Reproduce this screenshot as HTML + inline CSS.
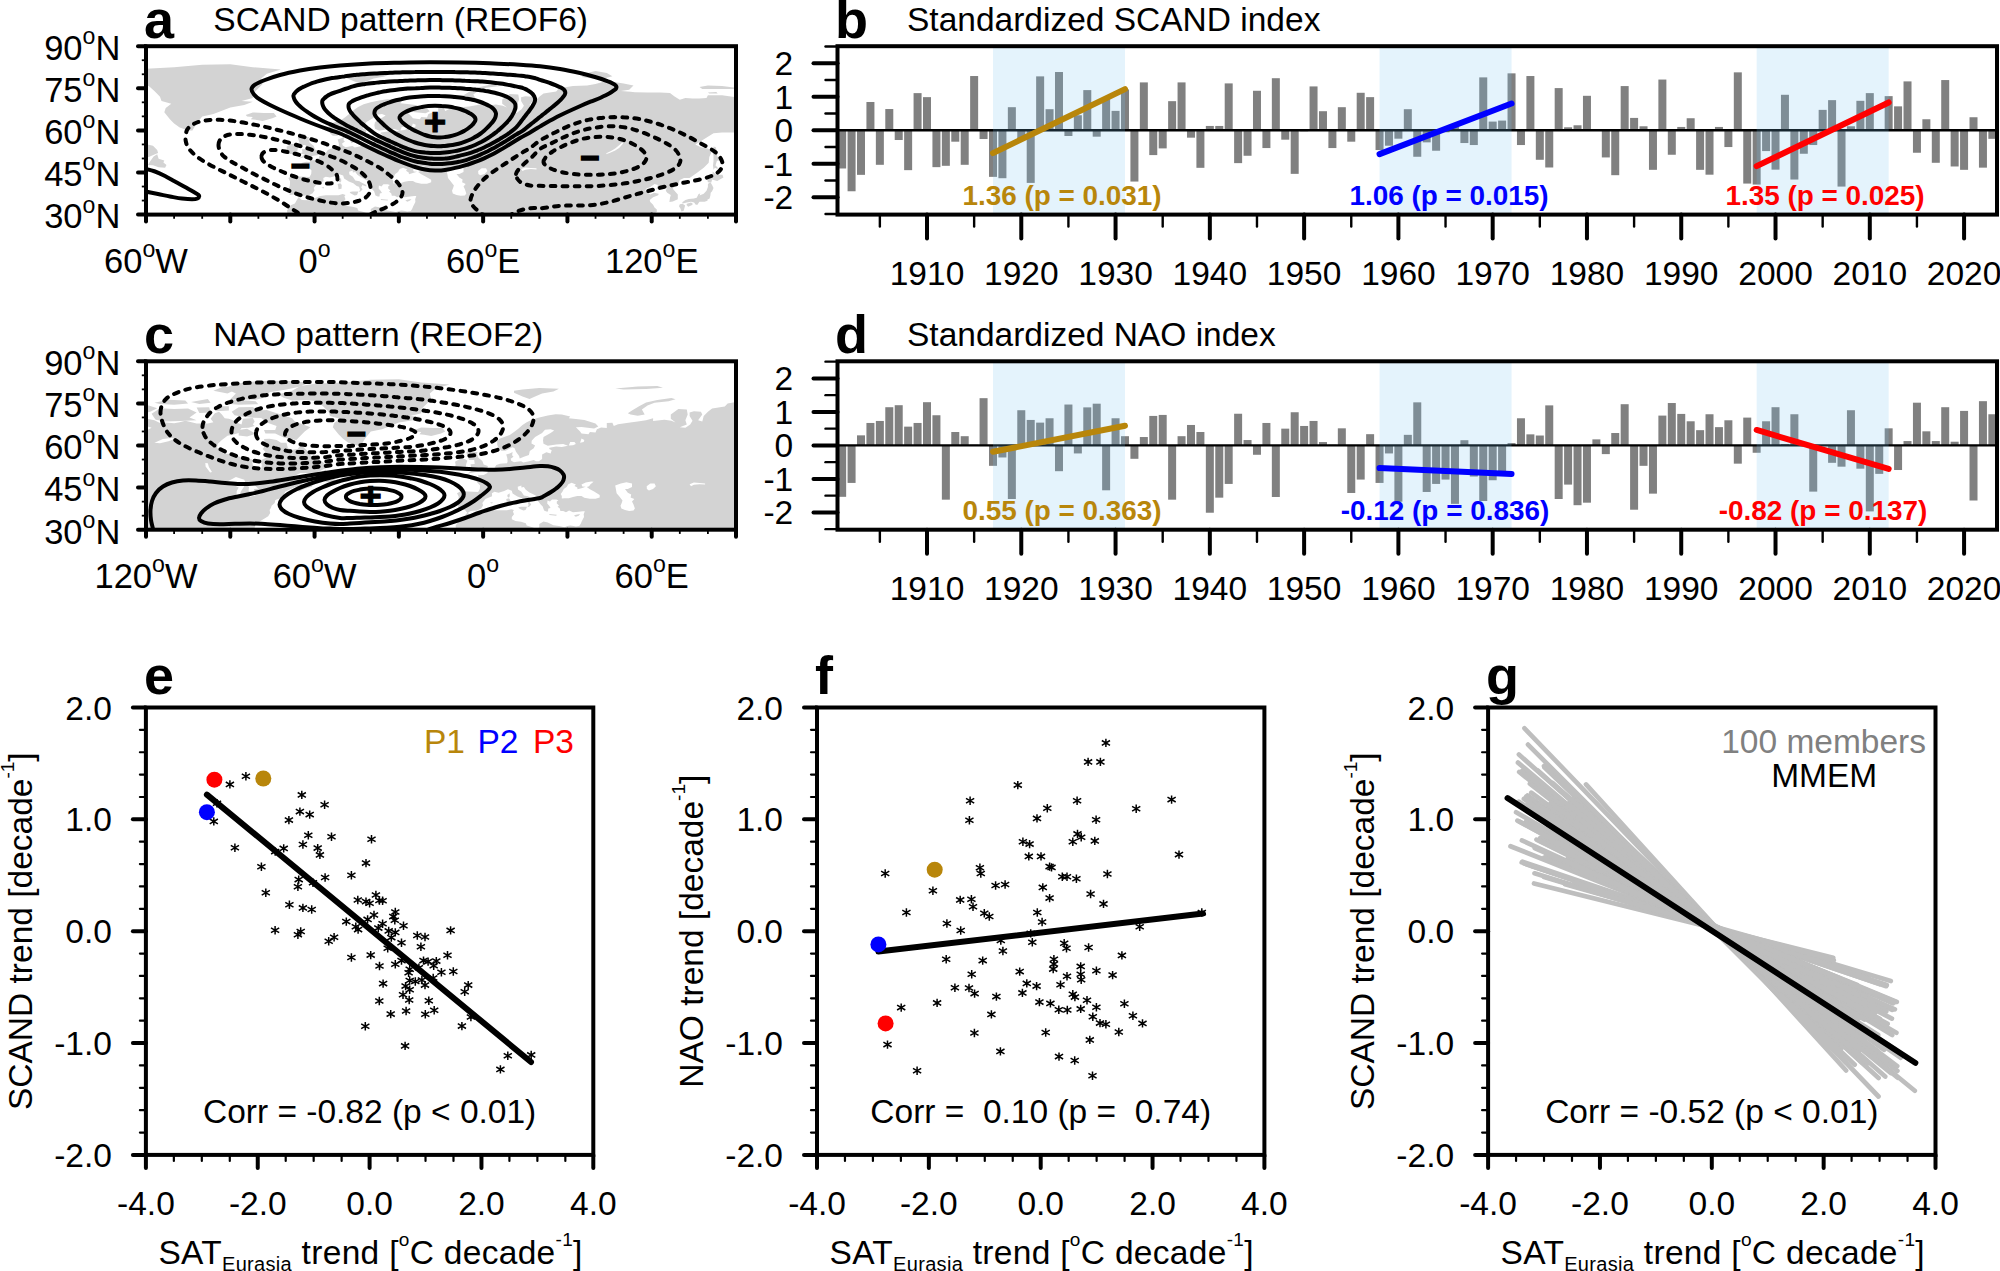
<!DOCTYPE html>
<html><head><meta charset="utf-8"><title>Figure</title><style>html,body{margin:0;padding:0;background:#fff;overflow:hidden}svg{display:block}</style></head><body>
<svg width="2000" height="1271" viewBox="0 0 2000 1271" font-family="'Liberation Sans',sans-serif">
<rect width="2000" height="1271" fill="#fff"/>
<defs><clipPath id="clip_a"><rect x="146" y="46.2" width="590" height="168.4"/></clipPath><clipPath id="clip_c"><rect x="146" y="361.3" width="590" height="168.4"/></clipPath></defs>
<g clip-path="url(#clip_a)">
<g fill="#d3d3d3"><polygon points="109.5,79.3 123.5,75.7 132.0,70.9 146.0,68.7 174.1,67.2 202.2,64.7 230.3,64.2 252.8,67.2 280.9,69.5 266.8,73.7 261.2,78.5 262.6,84.1 258.4,88.3 252.8,93.9 252.8,98.1 241.5,100.9 252.8,101.8 244.3,105.1 230.3,107.4 221.9,110.8 213.4,114.1 202.2,116.4 196.6,123.4 192.4,130.4 188.1,130.4 179.7,127.6 174.1,123.4 169.9,119.2 164.3,112.2 165.7,107.9 171.3,103.7 161.5,100.9 160.0,96.7 154.4,91.1 148.8,86.1 137.6,84.9 123.5,85.5 115.1,82.7"/><polygon points="245.7,115.0 252.8,112.4 264.0,113.0 273.8,113.0 276.6,116.4 272.4,118.3 262.6,120.9 255.6,119.7 250.8,119.2 252.8,116.9 247.1,116.4"/><polygon points="345.5,75.7 353.9,74.3 370.8,72.9 390.4,73.7 384.8,76.5 373.6,78.5 366.5,81.3 360.9,83.8 353.9,81.3 345.5,77.6"/><polygon points="446.6,73.4 469.1,71.5 488.8,70.9 494.4,72.6 477.5,74.0 455.0,74.5"/><polygon points="459.3,98.1 463.5,95.3 470.5,91.1 477.5,87.5 488.8,84.9 502.8,83.0 507.0,84.1 500.0,86.1 486.0,87.7 478.9,90.5 473.3,94.5 476.1,99.5 469.1,100.6 462.1,99.5"/><polygon points="581.5,77.1 587.1,72.9 595.5,70.9 606.8,72.9 612.4,76.2 601.1,79.3 592.7,78.5"/><polygon points="699.5,86.9 707.9,85.5 722.0,86.1 736.0,87.7 733.2,89.1 716.3,88.9 702.3,89.1"/><polygon points="707.9,92.5 716.3,91.9 717.7,93.4 709.3,93.4"/><polygon points="299.1,158.5 306.1,157.1 318.2,155.1 319.3,150.9 315.1,149.5 313.7,145.8 309.8,142.7 308.4,138.8 309.0,136.9 303.3,136.9 305.6,134.3 300.5,134.3 297.7,137.4 299.1,141.6 300.5,145.0 305.6,145.0 306.1,148.9 301.9,149.2 302.5,152.3 300.0,153.4 304.7,154.5"/><polygon points="286.5,154.0 292.1,154.0 297.2,152.3 297.7,148.6 298.8,145.6 296.3,143.9 291.3,143.9 286.5,146.7 287.0,149.5 286.5,152.3"/><polygon points="272.4,242.7 266.8,239.9 269.6,231.4 273.8,225.8 278.0,221.1 282.3,218.8 286.5,216.0 287.3,213.2 287.0,210.4 290.7,205.3 294.9,203.4 297.7,198.6 298.8,197.8 296.6,195.2 293.8,194.4 289.6,195.0 289.8,190.7 287.9,189.9 289.8,186.0 290.1,181.5 288.4,178.1 292.1,176.1 299.1,176.4 304.7,176.7 309.5,177.0 311.2,173.9 311.5,170.5 309.0,167.7 307.5,166.0 301.9,164.4 301.4,163.0 306.1,161.8 310.1,162.1 309.5,159.6 311.2,160.2 315.1,159.9 318.8,157.9 319.3,155.9 323.0,154.8 325.8,152.9 327.8,150.0 331.4,148.6 334.2,148.4 338.5,148.1 339.0,146.4 338.7,143.0 337.6,139.4 341.3,138.3 344.1,136.9 343.5,140.2 344.9,141.6 342.1,143.6 342.7,145.6 345.5,147.2 348.3,146.7 352.5,146.1 354.7,147.5 359.5,146.4 365.1,145.0 367.4,146.1 370.2,146.1 373.6,143.9 373.6,139.4 377.8,137.1 382.0,138.3 383.1,135.2 380.6,133.8 380.9,132.6 387.6,131.5 393.2,131.8 399.4,130.7 394.6,129.0 387.6,129.3 379.2,130.7 375.0,128.7 374.4,125.3 375.0,122.0 382.0,117.8 385.7,115.5 382.0,114.1 376.4,114.7 373.6,117.8 366.5,122.0 363.2,125.6 362.9,128.4 366.5,130.4 365.1,133.2 361.2,136.0 360.4,139.9 355.3,141.6 351.1,143.3 350.5,140.8 347.4,136.6 346.0,133.2 344.1,132.1 341.3,133.5 337.0,135.7 332.8,135.7 330.0,133.2 328.6,129.6 328.6,125.9 330.9,123.7 335.6,122.0 341.3,120.0 345.5,116.9 349.7,113.6 353.9,109.9 358.1,107.1 363.7,104.3 370.8,102.3 379.2,100.4 387.1,99.2 393.2,99.5 401.7,101.5 400.3,103.2 407.3,104.0 415.7,104.9 427.0,108.5 429.8,111.3 425.5,113.3 412.9,111.9 407.3,112.2 411.5,116.4 412.9,118.3 419.9,119.2 421.3,116.9 427.0,117.5 428.4,114.1 432.6,112.4 438.2,113.0 438.2,107.9 443.8,107.7 445.2,111.0 449.4,109.1 463.5,107.1 469.1,106.5 477.5,105.1 484.5,103.2 484.5,106.0 495.8,104.6 502.8,105.7 507.0,107.4 502.2,103.7 502.2,99.5 507.0,95.9 509.8,93.9 518.3,94.5 519.1,99.5 516.9,105.1 518.3,109.3 511.2,112.2 516.9,112.7 521.6,109.3 523.9,105.7 521.1,100.9 521.1,97.3 525.3,96.2 532.3,96.7 533.7,99.5 529.5,105.1 533.7,106.5 535.1,100.9 539.3,96.7 543.5,93.4 556.2,91.4 559.0,88.3 573.0,86.1 587.1,85.5 595.5,84.1 606.8,80.7 612.4,81.8 623.6,83.5 633.5,85.5 629.2,89.7 620.8,91.1 630.6,91.7 634.9,92.2 647.5,92.5 660.1,92.5 670.0,93.1 674.2,96.2 679.8,99.8 685.4,98.1 692.5,98.4 699.5,98.4 706.5,98.1 707.9,95.3 722.0,95.3 736.0,97.3 750.0,99.5 764.1,103.2 778.1,103.7 792.2,102.9 806.2,102.9 820.3,105.1 820.3,116.4 811.9,123.4 797.8,127.6 786.6,129.8 772.5,133.2 773.9,138.8 769.7,144.4 764.1,150.0 755.7,155.7 752.9,151.4 751.5,144.4 752.9,138.8 761.3,133.2 769.7,127.6 764.1,126.2 754.3,127.6 747.2,131.8 736.0,132.4 722.0,132.4 713.5,133.2 702.3,140.2 695.3,144.4 700.9,147.2 707.9,148.6 711.6,152.0 709.3,157.1 708.7,162.7 703.7,167.7 696.7,173.1 689.6,178.1 684.0,178.1 679.8,180.1 678.4,183.7 674.2,186.5 672.8,188.8 677.8,194.4 677.8,199.2 672.8,201.4 669.4,202.0 670.0,197.8 670.8,195.0 667.2,192.7 665.8,190.7 666.6,187.9 663.8,186.8 660.1,187.7 655.9,189.6 656.8,187.9 657.9,185.1 654.5,184.0 650.3,187.1 646.1,188.8 645.3,190.7 648.3,192.7 650.3,194.4 654.0,192.7 658.7,193.8 658.2,195.2 653.1,197.2 649.7,200.0 650.3,202.0 653.1,204.8 654.5,207.6 656.8,209.5 656.8,212.1 654.5,213.2 657.3,214.6 655.9,217.4 655.9,242.7"/><polygon points="713.5,146.4 715.8,147.2 716.9,151.4 717.2,155.7 719.1,160.4 716.9,160.7 715.5,165.5 717.7,167.4 717.5,169.1 714.9,167.7 713.5,169.7 713.0,165.5 713.5,161.3 713.5,155.7 712.7,151.4 713.5,148.6"/><polygon points="707.9,182.3 711.3,182.6 712.1,179.5 717.2,180.9 723.4,177.6 722.5,174.7 716.3,174.7 712.7,171.4 712.4,175.3 711.6,177.6 708.7,177.6 707.3,179.5"/><polygon points="710.4,182.3 712.1,185.1 713.5,187.9 712.1,191.3 710.7,192.7 710.4,195.5 709.6,198.6 707.3,199.7 707.6,200.8 704.5,201.7 702.8,201.7 699.5,201.7 698.9,202.5 697.5,204.8 695.8,204.8 694.1,202.5 691.0,201.7 686.8,202.5 682.6,203.4 682.3,202.3 685.4,200.0 688.8,198.9 693.9,198.6 696.7,197.8 698.6,194.1 700.3,193.6 699.5,195.5 703.7,193.8 706.5,190.7 707.9,187.1 707.9,184.3 708.7,183.2"/><polygon points="686.8,203.7 691.0,202.5 693.0,203.9 691.6,205.3 688.2,206.7 686.6,205.1"/><polygon points="679.8,204.2 682.6,203.7 685.1,205.6 683.7,210.7 681.5,211.5 680.4,208.4 679.0,206.2"/><polygon points="-50.7,242.7 -50.7,102.3 -45.0,101.5 -36.6,102.3 -25.4,102.9 -14.1,105.1 -8.5,107.9 -5.7,107.1 5.5,108.2 11.1,107.1 16.8,105.7 28.0,108.5 39.2,108.5 44.9,107.1 42.0,103.7 46.3,98.1 50.5,96.7 53.3,99.5 56.1,103.2 60.3,103.7 64.5,105.1 67.3,107.1 73.0,109.3 74.4,103.7 84.2,102.9 86.2,106.5 84.2,109.3 86.2,110.8 80.0,112.7 73.0,113.0 71.5,115.0 70.1,117.8 65.9,119.2 58.9,120.6 53.3,124.8 49.1,129.0 48.5,133.2 53.3,134.0 54.7,138.3 61.7,138.8 67.3,140.2 75.8,143.6 83.3,144.2 84.2,150.0 87.0,152.9 89.8,154.8 92.6,154.3 93.2,150.0 91.8,145.3 96.8,143.0 99.1,138.8 94.0,133.8 96.8,130.4 95.4,123.9 101.0,123.7 108.1,124.8 112.3,127.6 117.9,127.6 119.3,133.2 123.5,134.6 129.1,133.8 132.0,129.6 134.8,131.8 139.0,136.0 141.8,140.2 147.4,144.4 153.0,145.8 157.2,150.0 158.1,152.9 154.4,154.5 148.8,157.1 140.4,157.9 132.0,157.9 126.3,160.4 119.3,164.6 115.1,167.4 120.7,163.5 127.7,161.0 133.4,161.3 133.4,163.2 130.5,165.2 132.5,166.9 133.4,169.1 137.6,170.3 141.8,170.5 146.0,169.7 146.0,166.9 143.2,171.7 136.2,173.6 130.5,176.4 128.6,174.7 132.0,171.9 126.3,172.2 120.7,174.7 116.5,176.7 115.7,179.5 117.9,181.5 113.7,182.6 108.1,184.3 106.7,185.1 106.1,187.9 103.0,190.7 102.5,192.7 101.0,195.0 101.6,197.8 99.6,201.1 96.0,203.4 92.6,205.3 88.4,208.4 86.2,211.8 86.2,214.6 87.0,217.4 87.0,242.7"/><polygon points="148.0,164.9 153.0,165.2 158.6,167.2 165.1,167.7 166.5,164.9 163.4,162.4 164.3,160.4 158.6,158.7 157.2,154.3 153.6,156.5 150.2,161.3"/><polygon points="141.8,112.2 136.2,116.4 132.0,120.6 127.7,124.8 122.1,123.9 115.1,122.5 106.7,118.3 96.8,118.3 95.4,115.0 106.7,115.0 108.1,110.8 98.2,107.4 92.6,102.9 84.2,102.6 75.8,101.8 65.9,100.1 63.1,96.7 70.1,92.2 84.2,91.9 89.8,95.3 98.2,94.8 106.7,97.6 115.1,100.1 123.5,103.2 126.3,106.5 134.8,109.3"/><polygon points="61.7,84.1 67.3,78.5 56.1,72.9 67.3,68.7 89.8,65.8 117.9,65.6 140.4,67.2 132.0,71.5 117.9,74.3 101.0,77.1 95.4,82.7 87.0,84.7"/></g><g fill="#fff"><polygon points="299.1,197.8 301.9,195.8 308.4,195.5 312.6,193.3 314.6,190.2 313.7,187.9 316.8,184.0 323.6,181.2 323.3,178.1 325.8,176.7 330.0,177.6 335.6,175.9 339.3,174.2 343.2,175.6 344.1,178.4 348.8,181.5 353.3,183.2 356.7,186.0 359.0,186.8 360.1,189.9 358.7,192.1 360.9,191.3 362.6,189.3 361.2,187.4 362.3,185.1 366.3,186.5 366.3,185.1 360.9,182.3 359.5,181.2 355.3,180.4 352.8,176.7 349.4,174.5 349.1,171.7 352.8,170.5 352.8,172.5 355.3,171.9 357.3,174.7 360.9,177.3 365.1,179.5 369.1,181.5 369.1,185.4 372.2,189.3 374.1,191.3 375.5,195.5 377.8,196.4 379.5,196.4 379.8,193.6 382.0,193.0 380.6,190.7 378.6,188.5 378.9,185.4 381.4,186.5 383.4,184.3 387.6,184.3 389.9,185.1 388.2,186.5 388.2,188.5 390.4,190.5 389.0,191.6 391.3,193.6 391.8,195.8 394.6,195.8 397.5,197.2 400.5,195.5 404.5,197.2 410.1,196.6 414.3,196.1 416.3,196.1 415.2,199.2 415.4,202.0 413.2,206.2 412.1,209.0 410.7,211.0 407.3,211.5 405.0,211.0 401.7,210.4 398.9,211.0 396.0,212.1 390.4,211.0 384.8,210.1 379.2,207.3 375.0,206.5 370.8,209.0 370.8,212.4 368.0,213.8 363.7,212.1 358.1,210.4 357.3,208.1 352.5,206.7 346.9,205.9 343.2,204.2 343.2,202.0 345.5,199.2 344.4,196.4 345.5,195.0 342.7,194.1 338.5,195.2 332.8,195.2 325.8,195.2 320.2,196.1 314.6,198.3 309.0,200.3 301.9,200.0 299.7,198.3"/><polygon points="393.2,183.4 393.2,180.9 392.1,179.0 393.8,176.7 395.2,173.9 398.0,171.9 399.7,169.1 403.1,167.7 407.3,169.4 405.9,170.8 408.7,172.5 409.0,174.2 412.9,173.1 417.1,171.7 413.7,171.4 412.9,169.4 417.1,167.4 422.7,166.3 425.0,166.6 421.9,169.1 420.5,171.1 418.2,171.9 421.3,174.2 425.5,176.4 431.2,179.8 431.2,182.3 427.0,183.7 421.3,183.7 415.7,182.6 412.9,180.9 408.7,180.9 404.5,181.8 400.3,183.2 396.0,183.2"/><polygon points="446.6,170.5 452.2,168.3 457.9,167.2 463.5,168.3 463.5,171.9 459.3,173.9 456.5,173.9 459.3,177.6 462.6,179.5 462.1,182.3 465.7,184.0 463.5,186.5 464.9,189.3 466.3,193.6 464.9,195.5 460.7,195.8 456.5,195.0 452.8,193.6 452.0,190.7 453.1,187.9 453.9,185.4 450.8,181.5 448.0,178.1 447.5,174.7"/><polygon points="478.1,171.1 481.7,168.3 486.0,168.3 487.4,171.1 484.5,173.9 480.3,175.3 478.4,173.9"/><polygon points="605.9,154.3 609.6,153.1 615.2,150.6 619.4,147.8 623.1,143.6 622.2,142.5 619.4,145.0 615.2,148.4 611.0,150.9 606.8,152.9"/><polygon points="400.3,130.4 401.7,127.0 405.9,126.8 407.3,129.0 404.5,130.1"/><polygon points="411.5,127.6 412.9,123.4 415.7,124.8 415.2,127.0"/><polygon points="521.1,169.1 525.3,167.4 530.9,168.0 536.5,168.3 536.5,169.4 530.9,169.1 525.3,169.7 522.5,171.1"/></g><g fill="#d3d3d3"><polygon points="349.7,192.1 352.5,191.6 358.4,191.6 357.0,195.0 354.7,195.5 350.5,193.3"/><polygon points="337.6,184.0 340.4,183.2 341.8,185.1 341.5,188.8 338.5,189.3 338.2,186.5"/><polygon points="338.7,179.8 341.0,178.1 341.3,180.9 340.4,182.6 339.0,181.8"/><polygon points="380.9,198.9 388.2,199.7 387.6,200.6 380.9,200.0"/><polygon points="405.3,200.6 407.3,199.7 411.5,198.9 410.1,200.6 407.3,201.7"/><polygon points="321.3,187.7 324.1,186.8 323.6,188.5"/></g>
<g fill="none" stroke="#000" stroke-width="4" stroke-linejoin="round"><path d="M143.0,168.3C145.0,168.8 151.3,170.2 155.0,171.5C158.7,172.8 161.7,174.3 165.0,176.0C168.3,177.7 171.7,179.7 175.0,181.5C178.3,183.3 182.0,185.3 185.0,187.0C188.0,188.7 190.8,190.2 193.0,191.5C195.2,192.8 197.0,193.7 198.0,194.5C199.0,195.3 199.3,195.5 199.2,196.2C199.1,196.9 198.7,198.0 197.5,198.5C196.3,199.0 194.6,199.2 192.0,199.2C189.4,199.2 185.7,198.9 182.0,198.5C178.3,198.1 174.0,197.2 170.0,196.5C166.0,195.8 162.5,194.9 158.0,194.0C153.5,193.1 145.5,191.5 143.0,191.0"/><path d="M251.5,89.0C251.7,87.4 252.8,86.2 255.0,84.7C257.2,83.2 260.8,81.6 265.0,80.0C269.2,78.3 274.2,76.6 280.0,75.0C285.8,73.4 293.3,71.8 300.0,70.5C306.7,69.2 313.3,68.3 320.0,67.5C326.7,66.7 331.7,66.2 340.0,65.5C348.3,64.8 360.0,64.0 370.0,63.5C380.0,63.0 390.0,62.9 400.0,62.7C410.0,62.5 420.0,62.3 430.0,62.3C440.0,62.3 450.0,62.4 460.0,62.5C470.0,62.6 480.0,62.8 490.0,63.2C500.0,63.6 511.7,64.3 520.0,64.8C528.3,65.3 533.3,65.6 540.0,66.3C546.7,67.0 553.3,67.9 560.0,69.0C566.7,70.1 574.2,71.7 580.0,73.0C585.8,74.3 590.3,75.6 595.0,77.0C599.7,78.3 604.9,80.1 608.0,81.3C611.1,82.4 612.5,83.3 613.8,84.0C615.1,84.7 615.3,85.0 615.8,85.6C616.2,86.1 616.5,86.6 616.5,87.1C616.5,87.6 616.3,88.1 616.0,88.6C615.7,89.0 615.8,89.0 614.6,89.8C613.5,90.6 611.4,92.3 609.1,93.6C606.8,94.9 603.7,96.3 600.6,97.7C597.5,99.1 593.9,100.3 590.5,101.7C587.1,103.1 583.8,104.5 580.4,106.0C577.0,107.5 573.8,109.0 570.4,110.5C567.0,112.0 563.7,113.6 560.3,115.3C556.9,117.0 553.6,118.8 550.2,120.6C546.8,122.4 543.5,124.4 540.1,126.4C536.8,128.4 533.5,130.5 530.1,132.4C526.8,134.3 523.6,135.8 520.0,138.0C516.4,140.2 511.5,143.3 508.2,145.3C504.9,147.3 502.8,148.6 500.1,150.1C497.4,151.6 494.8,153.1 492.1,154.5C489.4,155.9 486.8,157.1 484.1,158.3C481.4,159.5 478.7,160.7 476.0,161.7C473.3,162.7 470.7,163.6 468.0,164.5C465.3,165.4 463.8,166.0 460.0,166.9C456.2,167.8 449.2,169.4 445.0,170.0C440.8,170.6 438.3,170.6 435.0,170.5C431.7,170.4 428.3,170.1 425.0,169.5C421.7,168.9 419.2,168.3 415.0,167.0C410.8,165.7 405.0,163.5 400.0,161.5C395.0,159.5 390.0,157.2 385.0,155.0C380.0,152.8 375.0,150.4 370.0,148.0C365.0,145.6 360.0,142.9 355.0,140.5C350.0,138.1 344.2,135.2 340.0,133.5C335.8,131.8 334.2,131.5 330.0,130.0C325.8,128.5 320.0,126.4 315.0,124.5C310.0,122.6 305.0,120.6 300.0,118.5C295.0,116.4 290.0,114.2 285.0,112.0C280.0,109.8 274.2,107.1 270.0,105.0C265.8,102.9 262.7,101.2 260.0,99.5C257.3,97.8 255.4,96.2 254.0,94.5C252.6,92.8 251.3,90.6 251.5,89.0Z"/><path d="M293.5,96.5C293.4,95.8 293.4,95.4 293.6,94.9C293.7,94.4 294.1,94.1 294.5,93.5C294.9,93.0 295.4,92.3 296.1,91.6C296.9,90.8 297.7,90.1 299.0,89.3C300.3,88.5 302.0,87.5 303.8,86.7C305.7,85.8 308.2,84.7 310.0,84.0C311.8,83.3 313.1,82.9 314.7,82.4C316.3,81.8 318.1,81.3 319.9,80.8C321.6,80.3 323.3,79.9 325.0,79.5C326.7,79.1 328.2,78.8 329.8,78.5C331.4,78.2 332.9,78.0 334.6,77.8C336.3,77.5 338.4,77.2 340.0,77.0C341.6,76.8 342.9,76.6 344.4,76.4C345.9,76.1 347.4,75.9 349.1,75.7C350.7,75.5 352.4,75.3 354.2,75.1C356.0,74.9 358.3,74.7 360.0,74.5C361.7,74.3 362.9,74.3 364.4,74.2C366.0,74.1 367.6,73.9 369.3,73.8C370.9,73.7 372.6,73.6 374.4,73.5C376.1,73.4 377.9,73.4 379.6,73.3C381.4,73.2 383.2,73.1 384.9,73.0C386.6,72.9 388.3,72.9 390.0,72.8C391.7,72.7 393.3,72.7 395.0,72.6C396.7,72.5 398.3,72.5 400.0,72.4C401.7,72.4 403.3,72.3 405.0,72.3C406.7,72.2 408.3,72.2 410.0,72.2C411.7,72.1 413.3,72.1 415.0,72.1C416.7,72.0 418.3,72.0 420.0,72.0C421.7,72.0 423.3,72.0 425.0,71.9C426.7,71.9 428.3,71.9 430.0,71.9C431.7,71.9 433.3,71.9 435.0,71.9C436.7,71.9 438.3,71.9 440.0,71.9C441.7,71.9 443.3,71.9 445.0,71.9C446.7,72.0 448.3,72.0 450.0,72.0C451.7,72.0 453.3,72.0 455.0,72.1C456.7,72.1 458.3,72.1 460.0,72.2C461.7,72.2 463.3,72.2 465.0,72.3C466.7,72.3 468.3,72.4 470.0,72.4C471.7,72.5 473.3,72.5 475.0,72.6C476.7,72.7 478.3,72.7 480.0,72.8C481.7,72.9 483.4,73.0 485.1,73.1C486.8,73.2 488.6,73.3 490.4,73.4C492.1,73.5 493.9,73.6 495.6,73.7C497.4,73.8 499.1,74.0 500.7,74.1C502.4,74.2 504.0,74.3 505.6,74.4C507.1,74.6 508.3,74.7 510.0,74.8C511.7,74.9 514.1,75.1 515.9,75.3C517.8,75.5 519.6,75.7 521.2,75.8C522.9,76.0 524.5,76.2 525.9,76.4C527.4,76.6 528.4,76.7 530.0,77.0C531.6,77.3 534.0,77.9 535.6,78.3C537.3,78.8 538.4,79.3 540.0,79.8C541.6,80.3 543.3,80.8 545.0,81.3C546.7,81.8 548.3,82.4 550.0,83.0C551.7,83.6 553.7,84.4 555.4,85.1C557.0,85.8 558.8,86.6 560.0,87.2C561.2,87.7 561.9,88.1 562.5,88.5C563.2,88.9 563.6,89.3 564.0,89.7C564.4,90.2 564.8,90.7 565.0,91.2C565.2,91.7 565.3,92.2 565.3,92.8C565.3,93.3 565.2,93.8 564.9,94.3C564.7,94.9 564.3,95.5 563.8,96.2C563.3,96.9 562.6,97.7 561.9,98.5C561.1,99.4 560.2,100.3 559.3,101.2C558.4,102.1 557.3,103.0 556.2,103.9C555.1,104.8 553.9,105.7 552.7,106.7C551.5,107.7 550.3,108.7 549.0,109.7C547.8,110.7 546.5,111.8 545.2,112.8C543.9,113.8 542.7,114.8 541.4,115.8C540.1,116.8 538.9,117.8 537.6,118.8C536.3,119.8 535.1,120.8 533.9,121.8C532.6,122.8 531.4,123.8 530.1,124.8C528.8,125.8 527.5,126.9 526.2,128.0C525.0,129.0 523.7,130.1 522.5,130.9C521.3,131.7 520.3,132.2 519.2,132.8C518.1,133.5 517.2,134.0 515.9,134.7C514.7,135.5 513.3,136.3 511.9,137.2C510.6,138.1 509.1,139.0 507.7,139.9C506.4,140.7 505.1,141.5 503.8,142.3C502.4,143.1 501.1,143.9 499.8,144.6C498.5,145.4 497.0,146.2 495.7,147.0C494.4,147.7 493.1,148.4 491.8,149.1C490.5,149.8 489.2,150.5 487.8,151.2C486.5,151.8 485.2,152.4 483.9,153.0C482.5,153.6 481.2,154.3 479.9,154.8C478.5,155.4 477.2,156.0 475.9,156.5C474.5,157.0 473.2,157.5 471.9,158.0C470.6,158.5 469.3,158.9 468.0,159.4C466.7,159.8 465.5,160.2 464.1,160.6C462.8,161.0 461.5,161.3 460.0,161.6C458.5,161.9 456.8,162.3 455.1,162.5C453.5,162.8 451.7,163.1 450.0,163.3C448.3,163.5 446.7,163.7 445.0,163.8C443.3,163.9 441.6,164.0 440.0,164.0C438.4,164.0 437.0,164.1 435.3,164.1C433.6,164.0 431.7,163.9 430.0,163.7C428.3,163.5 427.0,163.3 425.4,163.1C423.7,162.9 421.9,162.6 420.2,162.3C418.5,162.0 416.7,161.6 415.0,161.2C413.3,160.8 411.7,160.3 410.0,159.8C408.3,159.3 406.7,158.8 405.0,158.2C403.4,157.6 401.7,156.9 400.1,156.3C398.5,155.6 396.8,154.9 395.2,154.2C393.5,153.5 392.0,152.8 390.3,152.1C388.7,151.3 387.0,150.6 385.4,149.8C383.7,149.0 382.0,148.2 380.3,147.5C378.7,146.7 377.1,146.0 375.4,145.2C373.8,144.4 372.1,143.6 370.4,142.7C368.7,141.9 367.0,141.0 365.3,140.2C363.7,139.4 362.1,138.6 360.5,137.8C358.8,136.9 357.1,136.1 355.4,135.3C353.7,134.4 352.0,133.6 350.3,132.8C348.6,132.0 346.9,131.2 345.2,130.4C343.5,129.7 341.8,129.0 340.1,128.3C338.3,127.6 336.6,127.0 334.9,126.3C333.2,125.6 331.5,124.9 329.9,124.2C328.2,123.5 326.9,122.9 325.0,122.0C323.1,121.1 320.4,119.7 318.2,118.5C316.0,117.4 313.9,116.2 312.0,115.0C310.1,113.8 308.2,112.6 306.6,111.4C304.9,110.3 303.3,109.1 302.0,108.0C300.7,106.9 299.5,105.9 298.5,104.9C297.5,103.9 296.7,103.0 296.0,102.0C295.3,101.0 294.7,100.0 294.3,99.1C293.9,98.1 293.6,97.2 293.5,96.5Z"/><path d="M322.2,102.0C322.2,101.2 322.3,100.8 322.6,100.2C322.9,99.6 323.4,99.2 324.0,98.6C324.6,98.0 325.5,97.2 326.5,96.5C327.5,95.8 328.6,95.0 330.0,94.4C331.4,93.7 333.1,93.1 334.8,92.5C336.4,91.9 338.3,91.4 340.0,90.8C341.7,90.2 343.3,89.6 345.0,89.0C346.7,88.4 348.4,87.8 350.0,87.3C351.6,86.8 352.7,86.4 354.4,86.0C356.0,85.6 358.4,85.1 360.0,84.8C361.6,84.5 362.6,84.4 364.1,84.2C365.5,83.9 367.1,83.7 368.8,83.5C370.4,83.3 372.2,83.1 374.1,82.9C375.9,82.7 378.3,82.5 380.0,82.3C381.7,82.1 382.9,82.1 384.5,82.0C386.1,81.8 387.7,81.7 389.4,81.6C391.1,81.5 392.9,81.4 394.7,81.3C396.4,81.2 398.3,81.1 400.0,81.0C401.7,81.0 403.5,80.9 405.2,80.8C406.8,80.7 408.3,80.7 410.0,80.6C411.7,80.5 413.6,80.5 415.3,80.4C417.0,80.4 418.7,80.3 420.4,80.3C422.0,80.2 423.6,80.2 425.2,80.2C426.9,80.1 428.5,80.1 430.1,80.1C431.7,80.1 433.3,80.1 435.0,80.1C436.7,80.1 438.3,80.1 440.0,80.1C441.7,80.1 443.3,80.2 445.0,80.2C446.7,80.2 448.3,80.3 450.0,80.3C451.7,80.3 453.3,80.4 455.0,80.4C456.7,80.5 458.3,80.5 460.0,80.6C461.7,80.7 463.4,80.7 465.1,80.8C466.8,80.8 468.5,80.9 470.2,81.0C472.0,81.0 473.7,81.1 475.4,81.2C477.0,81.3 478.7,81.4 480.3,81.5C481.9,81.6 483.3,81.7 485.0,81.8C486.7,81.9 488.7,82.1 490.5,82.3C492.2,82.5 494.0,82.7 495.6,82.9C497.3,83.2 498.9,83.4 500.5,83.6C502.0,83.8 503.3,84.0 505.0,84.3C506.7,84.6 508.9,85.0 510.7,85.3C512.6,85.7 514.4,86.1 515.9,86.4C517.5,86.7 518.8,87.0 520.0,87.3C521.2,87.6 522.3,87.8 523.1,88.1C524.0,88.4 524.2,88.5 525.0,88.9C525.8,89.3 526.8,89.8 527.6,90.3C528.5,90.8 529.4,91.4 530.1,91.9C530.8,92.4 531.5,93.0 532.1,93.5C532.7,94.1 533.2,94.7 533.6,95.3C534.0,95.9 534.4,96.6 534.6,97.2C534.9,97.9 535.1,98.5 535.1,99.2C535.1,99.9 535.0,100.5 534.9,101.1C534.7,101.8 534.4,102.5 534.1,103.2C533.8,103.9 533.3,104.7 532.8,105.6C532.3,106.4 531.8,107.3 531.1,108.2C530.5,109.1 529.7,110.1 528.9,111.2C528.2,112.2 527.3,113.2 526.5,114.3C525.7,115.4 524.9,116.4 524.0,117.5C523.2,118.6 522.3,119.7 521.5,120.8C520.7,121.9 519.9,123.0 519.0,124.1C518.2,125.2 517.3,126.3 516.2,127.4C515.1,128.5 513.7,129.7 512.4,130.7C511.0,131.8 509.5,132.9 508.1,133.8C506.7,134.8 505.4,135.6 504.0,136.4C502.6,137.3 501.2,138.1 499.9,138.9C498.5,139.7 497.2,140.5 495.9,141.3C494.5,142.1 493.2,142.8 491.9,143.5C490.6,144.2 489.3,144.9 488.0,145.6C486.7,146.3 485.4,146.9 484.1,147.5C482.7,148.2 481.4,148.8 480.0,149.3C478.7,149.9 477.3,150.4 476.0,150.9C474.7,151.4 473.3,151.9 472.0,152.3C470.7,152.8 469.3,153.2 468.0,153.6C466.7,154.0 465.5,154.3 464.1,154.6C462.8,155.0 461.5,155.2 460.0,155.6C458.5,156.0 456.8,156.5 455.1,156.9C453.5,157.3 451.7,157.7 450.0,158.0C448.3,158.3 446.7,158.4 445.0,158.6C443.3,158.7 441.6,158.8 440.0,158.8C438.4,158.8 437.0,158.9 435.3,158.8C433.6,158.8 431.7,158.6 430.0,158.5C428.3,158.4 427.0,158.3 425.4,158.1C423.7,157.9 421.9,157.6 420.2,157.3C418.5,157.0 416.8,156.6 415.1,156.2C413.4,155.8 411.7,155.3 410.1,154.8C408.5,154.3 406.9,153.7 405.3,153.1C403.7,152.5 402.1,151.8 400.5,151.1C398.9,150.5 397.2,149.8 395.6,149.1C394.0,148.3 392.3,147.6 390.7,146.9C389.1,146.1 387.5,145.4 385.8,144.6C384.1,143.9 382.4,143.1 380.8,142.3C379.1,141.5 377.3,140.7 375.6,139.9C373.9,139.0 372.3,138.2 370.6,137.4C368.9,136.5 367.2,135.6 365.4,134.8C363.7,133.9 362.0,133.1 360.3,132.2C358.5,131.4 356.9,130.5 355.1,129.7C353.4,128.8 351.6,128.0 349.8,127.1C348.1,126.2 346.3,125.2 344.6,124.2C343.0,123.3 341.7,122.6 340.0,121.5C338.3,120.4 336.1,119.0 334.4,117.9C332.8,116.7 331.3,115.6 330.0,114.5C328.7,113.4 327.5,112.3 326.5,111.2C325.5,110.1 324.6,109.1 324.0,108.0C323.4,106.9 322.9,105.8 322.6,104.8C322.3,103.8 322.2,102.8 322.2,102.0Z"/><path d="M348.5,106.0C348.5,105.3 348.5,104.8 348.8,104.2C349.0,103.7 349.4,103.2 350.0,102.7C350.6,102.2 351.3,101.7 352.3,101.1C353.3,100.6 354.5,100.0 356.0,99.4C357.5,98.8 359.3,98.1 361.3,97.4C363.3,96.7 366.0,95.9 368.0,95.3C370.0,94.7 371.4,94.4 373.2,93.9C375.0,93.4 377.0,93.0 378.9,92.5C380.9,92.1 383.2,91.6 385.0,91.3C386.8,91.0 388.2,90.8 389.8,90.5C391.4,90.3 393.1,90.1 394.8,89.9C396.5,89.7 398.2,89.5 399.9,89.3C401.6,89.1 403.3,88.9 405.0,88.8C406.7,88.7 408.5,88.5 410.2,88.4C412.0,88.3 413.9,88.2 415.6,88.2C417.4,88.1 419.1,88.0 420.7,88.0C422.3,87.9 423.5,87.9 425.0,87.8C426.5,87.7 428.3,87.6 430.0,87.6C431.7,87.6 433.5,87.6 435.0,87.6C436.5,87.6 437.7,87.6 439.3,87.6C440.9,87.6 442.6,87.7 444.4,87.7C446.1,87.7 448.0,87.7 449.8,87.8C451.5,87.9 453.3,87.9 455.0,88.0C456.7,88.1 458.4,88.2 460.1,88.3C461.8,88.4 463.6,88.5 465.3,88.7C467.0,88.8 468.7,89.0 470.4,89.1C472.0,89.3 473.3,89.4 475.0,89.6C476.7,89.8 478.7,90.0 480.5,90.3C482.2,90.5 483.8,90.7 485.4,91.0C487.0,91.2 488.2,91.4 490.0,91.8C491.8,92.2 494.4,92.7 496.4,93.2C498.4,93.7 500.3,94.2 502.0,94.8C503.7,95.4 505.1,96.0 506.5,96.6C507.8,97.3 509.0,97.9 510.0,98.6C511.0,99.3 511.9,100.0 512.7,100.7C513.4,101.3 514.1,102.1 514.5,102.7C514.9,103.4 515.2,103.9 515.4,104.5C515.5,105.2 515.5,105.8 515.5,106.5C515.5,107.2 515.4,108.1 515.1,109.0C514.9,109.9 514.5,110.9 514.0,112.0C513.5,113.1 512.8,114.4 512.0,115.8C511.1,117.1 510.2,118.6 509.0,120.0C507.8,121.4 506.4,122.9 504.9,124.4C503.4,125.9 501.4,127.7 500.0,129.0C498.6,130.3 497.6,131.0 496.3,132.1C495.0,133.1 493.6,134.2 492.2,135.1C490.8,136.1 489.7,136.9 488.0,138.0C486.3,139.1 483.9,140.6 481.7,141.8C479.5,142.9 476.9,144.1 475.0,145.0C473.1,145.9 471.8,146.3 470.1,146.9C468.5,147.5 466.8,148.1 465.1,148.6C463.4,149.1 461.7,149.6 460.0,150.0C458.3,150.4 456.5,150.8 454.8,151.1C453.1,151.4 451.3,151.7 449.6,151.9C448.0,152.1 446.6,152.3 445.0,152.5C443.4,152.7 441.7,152.9 440.0,153.0C438.3,153.1 436.6,153.0 435.0,153.0C433.4,153.0 432.0,152.9 430.4,152.9C428.7,152.8 426.9,152.7 425.2,152.6C423.5,152.4 421.7,152.2 420.0,152.0C418.3,151.8 416.6,151.5 415.0,151.1C413.4,150.7 411.7,150.2 410.1,149.6C408.5,149.1 406.9,148.5 405.3,147.8C403.7,147.2 402.0,146.5 400.3,145.8C398.7,145.0 396.9,144.3 395.3,143.6C393.7,142.9 392.5,142.3 390.6,141.5C388.8,140.6 386.2,139.5 384.2,138.5C382.1,137.6 379.9,136.6 378.2,135.7C376.5,134.8 375.3,134.1 373.9,133.1C372.5,132.2 371.2,131.1 369.9,130.1C368.5,129.0 367.5,128.3 366.0,127.0C364.5,125.7 362.3,123.9 360.6,122.4C359.0,120.9 357.4,119.4 356.0,118.0C354.6,116.6 353.5,115.4 352.5,114.2C351.5,113.1 350.6,112.0 350.0,111.0C349.4,110.0 349.0,109.1 348.8,108.3C348.5,107.4 348.5,106.7 348.5,106.0Z"/><path d="M374.5,112.0C374.6,111.4 374.8,110.7 375.2,110.0C375.7,109.3 376.2,108.6 377.0,108.0C377.8,107.4 378.7,106.8 379.9,106.2C381.1,105.5 382.4,105.0 384.0,104.3C385.6,103.6 387.4,102.9 389.4,102.3C391.4,101.6 394.1,100.8 396.0,100.3C397.9,99.8 399.2,99.5 401.0,99.2C402.7,98.8 404.5,98.4 406.4,98.1C408.2,97.8 410.1,97.5 412.0,97.3C413.9,97.1 415.9,96.9 418.0,96.7C420.0,96.5 422.1,96.4 424.1,96.3C426.2,96.1 428.2,96.1 430.0,96.0C431.8,95.9 433.5,95.9 435.2,95.9C436.9,96.0 438.5,96.0 440.1,96.1C441.7,96.1 443.4,96.2 445.0,96.3C446.6,96.4 448.3,96.5 450.0,96.6C451.7,96.7 453.3,96.9 455.0,97.0C456.7,97.2 458.3,97.4 460.0,97.6C461.7,97.8 463.5,98.1 465.2,98.4C466.9,98.6 468.7,99.0 470.4,99.3C472.0,99.6 473.3,99.9 475.0,100.3C476.7,100.7 478.8,101.4 480.5,102.0C482.2,102.6 483.6,103.2 485.0,103.8C486.4,104.4 487.7,105.0 488.9,105.7C490.1,106.3 491.1,106.9 492.0,107.6C492.9,108.3 493.6,109.1 494.2,109.8C494.8,110.6 495.2,111.3 495.5,112.0C495.8,112.7 495.9,113.2 496.0,113.7C496.0,114.3 495.9,114.9 495.8,115.5C495.7,116.1 495.6,116.8 495.3,117.5C495.0,118.3 494.7,119.0 494.0,120.0C493.3,121.0 492.4,122.2 491.4,123.3C490.4,124.5 489.2,125.8 488.0,127.0C486.8,128.2 485.7,129.4 484.4,130.5C483.0,131.7 481.7,132.8 480.0,134.0C478.3,135.2 476.3,136.4 474.3,137.4C472.3,138.5 470.1,139.6 468.0,140.5C465.9,141.4 463.9,142.1 461.7,142.8C459.5,143.5 456.9,144.1 455.0,144.5C453.1,144.9 451.7,145.1 450.0,145.3C448.3,145.6 446.5,145.8 444.9,145.9C443.2,146.0 441.8,146.2 440.0,146.2C438.2,146.2 435.9,146.3 433.9,146.1C431.9,146.0 430.1,145.8 428.0,145.5C425.9,145.2 423.7,144.8 421.6,144.3C419.4,143.8 417.2,143.2 415.0,142.5C412.8,141.8 410.6,140.9 408.4,140.0C406.3,139.1 404.1,138.1 402.0,137.0C399.9,135.9 397.8,134.8 395.8,133.7C393.8,132.5 391.8,131.3 390.0,130.0C388.2,128.7 386.6,127.3 385.1,125.9C383.6,124.6 382.2,123.2 381.0,122.0C379.8,120.8 378.7,119.8 377.8,118.8C376.8,117.8 376.0,116.8 375.5,116.0C375.0,115.2 374.7,114.5 374.5,113.9C374.3,113.2 374.4,112.6 374.5,112.0Z"/><path d="M399.5,118.0C399.4,117.3 399.6,116.6 400.0,116.0C400.4,115.3 401.1,114.8 402.0,114.1C402.9,113.4 404.1,112.7 405.4,112.0C406.7,111.3 408.3,110.6 410.0,110.0C411.7,109.4 413.7,108.8 415.7,108.3C417.7,107.8 419.9,107.4 422.0,107.0C424.1,106.6 426.3,106.3 428.4,106.1C430.6,105.9 432.8,105.7 435.0,105.7C437.2,105.7 439.4,105.7 441.6,105.9C443.7,106.0 445.9,106.2 448.0,106.5C450.1,106.8 452.2,107.1 454.2,107.6C456.2,108.0 458.2,108.4 460.0,109.0C461.8,109.6 463.4,110.2 464.9,110.9C466.4,111.5 467.8,112.3 469.0,112.9C470.2,113.6 471.1,114.1 472.0,114.7C472.8,115.3 473.5,115.9 474.0,116.4C474.5,117.0 474.9,117.4 475.2,117.9C475.4,118.4 475.5,118.9 475.5,119.5C475.5,120.1 475.3,120.7 474.9,121.4C474.6,122.0 474.1,122.7 473.5,123.5C472.9,124.3 472.0,125.1 471.1,126.0C470.2,126.8 469.1,127.7 468.0,128.5C466.9,129.3 465.6,130.1 464.3,130.9C462.9,131.6 461.5,132.3 460.0,133.0C458.5,133.7 456.8,134.3 455.1,134.8C453.5,135.3 451.7,135.8 450.0,136.2C448.3,136.6 446.7,136.9 445.0,137.1C443.3,137.3 441.7,137.5 440.0,137.5C438.3,137.5 436.7,137.5 435.0,137.3C433.3,137.1 431.7,136.9 430.0,136.5C428.3,136.1 426.7,135.6 425.0,135.0C423.3,134.4 421.7,133.7 420.0,133.0C418.3,132.3 416.5,131.4 414.8,130.6C413.1,129.8 411.5,128.8 410.0,128.0C408.5,127.2 407.3,126.3 406.1,125.5C404.9,124.7 403.9,123.8 403.0,123.0C402.1,122.2 401.2,121.3 400.7,120.4C400.1,119.6 399.6,118.7 399.5,118.0Z"/></g><g fill="none" stroke="#000" stroke-width="4" stroke-dasharray="4.8 7.2" stroke-linecap="round"><path d="M308.0,219.0C306.7,218.2 302.7,215.7 300.0,214.0C297.3,212.3 294.8,210.8 292.0,209.0C289.2,207.2 286.3,205.1 283.0,203.0C279.7,200.9 275.8,198.7 272.0,196.5C268.2,194.3 264.0,192.1 260.0,190.0C256.0,187.9 252.0,186.0 248.0,184.0C244.0,182.0 239.8,179.9 236.0,178.0C232.2,176.1 228.7,174.3 225.0,172.5C221.3,170.7 217.5,168.8 214.0,167.0C210.5,165.2 207.0,163.3 204.0,161.5C201.0,159.7 198.3,157.9 196.0,156.0C193.7,154.1 191.6,152.0 190.0,150.0C188.4,148.0 187.2,146.0 186.5,144.0C185.8,142.0 185.4,140.3 185.5,138.0C185.6,135.7 185.9,132.2 187.0,130.0C188.1,127.8 189.8,126.4 192.0,125.0C194.2,123.6 197.0,122.3 200.0,121.5C203.0,120.7 206.7,120.3 210.0,120.0C213.3,119.7 216.7,119.7 220.0,119.8C223.3,119.9 226.7,120.1 230.0,120.5C233.3,120.9 236.7,121.5 240.0,122.0C243.3,122.5 246.7,123.2 250.0,123.8C253.3,124.4 256.7,125.1 260.0,125.8C263.3,126.5 266.7,127.2 270.0,128.0C273.3,128.8 276.7,129.7 280.0,130.5C283.3,131.3 286.7,132.1 290.0,133.0C293.3,133.9 296.7,134.8 300.0,135.8C303.3,136.8 306.7,137.8 310.0,138.8C313.3,139.8 316.7,140.9 320.0,142.0C323.3,143.1 326.7,144.3 330.0,145.5C333.3,146.7 336.7,147.9 340.0,149.2C343.3,150.4 346.7,151.6 350.0,153.0C353.3,154.4 356.7,155.9 360.0,157.5C363.3,159.1 366.7,160.8 370.0,162.5C373.3,164.2 377.0,166.1 380.0,168.0C383.0,169.9 385.5,172.0 388.0,174.0C390.5,176.0 393.0,178.0 395.0,180.0C397.0,182.0 398.8,184.0 400.0,186.0C401.2,188.0 402.3,190.2 402.5,192.0C402.7,193.8 402.1,195.3 401.0,197.0C399.9,198.7 398.2,200.4 396.0,202.0C393.8,203.6 390.7,205.2 388.0,206.5C385.3,207.8 382.3,209.0 380.0,210.0C377.7,211.0 376.7,211.2 374.0,212.5C371.3,213.8 365.7,217.1 364.0,218.0"/><path d="M218.5,145.0C218.5,143.2 219.1,141.4 220.0,140.0C220.9,138.6 222.3,137.4 224.0,136.5C225.7,135.6 227.3,134.9 230.0,134.5C232.7,134.1 236.7,133.9 240.0,134.0C243.3,134.1 246.7,134.4 250.0,134.8C253.3,135.2 256.7,135.6 260.0,136.2C263.3,136.8 266.7,137.5 270.0,138.2C273.3,138.9 276.7,139.7 280.0,140.5C283.3,141.3 286.7,142.1 290.0,143.0C293.3,143.9 296.7,145.0 300.0,146.0C303.3,147.0 306.7,148.1 310.0,149.2C313.3,150.3 316.7,151.4 320.0,152.5C323.3,153.6 326.7,154.8 330.0,156.0C333.3,157.2 336.7,158.5 340.0,160.0C343.3,161.5 347.0,163.3 350.0,165.0C353.0,166.7 355.7,168.3 358.0,170.0C360.3,171.7 362.2,173.2 364.0,175.0C365.8,176.8 367.4,179.0 368.5,181.0C369.6,183.0 370.3,185.0 370.5,187.0C370.7,189.0 370.4,191.2 369.5,193.0C368.6,194.8 366.9,196.7 365.0,198.0C363.1,199.3 360.5,200.2 358.0,201.0C355.5,201.8 353.0,202.4 350.0,202.8C347.0,203.2 343.3,203.6 340.0,203.5C336.7,203.4 333.3,203.0 330.0,202.5C326.7,202.0 323.7,201.3 320.0,200.5C316.3,199.7 312.0,198.7 308.0,197.5C304.0,196.3 299.8,194.9 296.0,193.5C292.2,192.1 288.7,190.6 285.0,189.0C281.3,187.4 277.7,185.8 274.0,184.0C270.3,182.2 266.7,180.3 263.0,178.5C259.3,176.7 255.5,174.8 252.0,173.0C248.5,171.2 245.3,169.3 242.0,167.5C238.7,165.7 235.0,163.8 232.0,162.0C229.0,160.2 226.0,158.3 224.0,156.5C222.0,154.7 220.9,152.9 220.0,151.0C219.1,149.1 218.5,146.8 218.5,145.0Z"/><path d="M261.5,156.0C261.7,154.8 262.2,153.4 263.5,152.5C264.8,151.6 267.1,150.7 269.0,150.3C270.9,149.9 272.3,149.8 275.0,150.0C277.7,150.2 281.7,150.9 285.0,151.5C288.3,152.1 291.7,153.0 295.0,153.8C298.3,154.6 301.7,155.5 305.0,156.5C308.3,157.5 311.7,158.7 315.0,160.0C318.3,161.3 322.2,162.9 325.0,164.5C327.8,166.1 330.1,167.8 332.0,169.5C333.9,171.2 335.6,172.9 336.5,174.5C337.4,176.1 337.6,177.8 337.5,179.0C337.4,180.2 336.9,180.8 336.0,181.5C335.1,182.2 333.8,182.9 332.0,183.2C330.2,183.5 327.8,183.7 325.0,183.5C322.2,183.3 318.5,182.7 315.0,182.0C311.5,181.3 307.7,180.5 304.0,179.5C300.3,178.5 296.5,177.2 293.0,176.0C289.5,174.8 286.2,173.3 283.0,172.0C279.8,170.7 276.7,169.3 274.0,168.0C271.3,166.7 268.9,165.3 267.0,164.0C265.1,162.7 263.4,161.3 262.5,160.0C261.6,158.7 261.3,157.2 261.5,156.0Z"/><path d="M485.0,218.0C484.3,217.2 482.3,214.8 481.0,213.5C479.7,212.2 478.3,211.2 477.0,210.0C475.7,208.8 474.1,207.5 473.0,206.0C471.9,204.5 470.7,202.8 470.5,201.0C470.3,199.2 471.1,197.2 472.0,195.0C472.9,192.8 474.3,190.3 476.0,188.0C477.7,185.7 479.7,183.3 482.0,181.0C484.3,178.7 487.0,176.3 490.0,174.0C493.0,171.7 496.7,169.2 500.0,167.0C503.3,164.8 506.7,162.7 510.0,160.5C513.3,158.3 516.7,156.1 520.0,154.0C523.3,151.9 526.7,150.2 530.0,148.0C533.3,145.8 536.7,142.7 540.0,140.5C543.3,138.3 546.7,136.8 550.0,135.0C553.3,133.2 556.7,131.6 560.0,130.0C563.3,128.4 566.7,126.8 570.0,125.5C573.3,124.2 576.7,123.0 580.0,122.0C583.3,121.0 586.7,120.2 590.0,119.5C593.3,118.8 596.7,118.4 600.0,118.0C603.3,117.6 606.7,117.3 610.0,117.2C613.3,117.1 616.7,117.1 620.0,117.2C623.3,117.3 626.7,117.5 630.0,117.8C633.3,118.1 636.7,118.6 640.0,119.2C643.3,119.8 646.7,120.6 650.0,121.5C653.3,122.4 656.7,123.4 660.0,124.5C663.3,125.6 666.7,126.9 670.0,128.2C673.3,129.5 676.7,130.9 680.0,132.5C683.3,134.1 686.7,135.8 690.0,137.5C693.3,139.2 696.7,141.2 700.0,143.0C703.3,144.8 707.2,146.8 710.0,148.5C712.8,150.2 715.2,151.8 717.0,153.5C718.8,155.2 720.1,157.2 721.0,159.0C721.9,160.8 722.5,162.3 722.5,164.0C722.5,165.7 721.9,167.5 721.0,169.0C720.1,170.5 718.8,171.8 717.0,173.0C715.2,174.2 712.8,175.4 710.0,176.5C707.2,177.6 703.3,178.7 700.0,179.5C696.7,180.3 693.3,180.8 690.0,181.5C686.7,182.2 683.3,182.8 680.0,183.5C676.7,184.2 673.3,184.8 670.0,185.5C666.7,186.2 663.3,187.0 660.0,187.8C656.7,188.6 653.3,189.6 650.0,190.5C646.7,191.4 643.3,192.3 640.0,193.2C636.7,194.1 633.3,195.0 630.0,196.0C626.7,197.0 623.3,198.0 620.0,199.0C616.7,200.0 613.3,201.0 610.0,201.8C606.7,202.6 603.3,203.4 600.0,204.0C596.7,204.6 593.3,204.9 590.0,205.2C586.7,205.4 583.3,205.4 580.0,205.5C576.7,205.6 573.3,205.4 570.0,205.5C566.7,205.6 563.3,205.6 560.0,205.8C556.7,206.1 553.3,206.6 550.0,207.0C546.7,207.4 542.7,208.3 540.0,208.5C537.3,208.7 536.2,207.9 534.0,208.0C531.8,208.1 529.3,208.4 527.0,208.8C524.7,209.2 522.3,209.7 520.0,210.5C517.7,211.3 515.3,212.2 513.0,213.5C510.7,214.8 507.2,217.2 506.0,218.0"/><path d="M516.0,174.0C516.2,172.3 517.5,170.8 519.0,169.0C520.5,167.2 522.8,165.0 525.0,163.0C527.2,161.0 529.5,159.3 532.0,157.0C534.5,154.7 537.0,151.2 540.0,149.0C543.0,146.8 546.7,145.7 550.0,144.0C553.3,142.3 556.7,140.6 560.0,139.0C563.3,137.4 566.7,135.8 570.0,134.5C573.3,133.2 576.7,132.0 580.0,131.0C583.3,130.0 586.7,129.2 590.0,128.5C593.3,127.8 596.7,127.4 600.0,127.0C603.3,126.6 606.7,126.2 610.0,126.2C613.3,126.2 616.7,126.4 620.0,126.8C623.3,127.2 626.7,127.7 630.0,128.5C633.3,129.3 636.7,130.3 640.0,131.5C643.3,132.7 646.7,134.1 650.0,135.5C653.3,136.9 656.7,138.3 660.0,140.0C663.3,141.7 667.3,143.8 670.0,145.5C672.7,147.2 674.4,148.8 676.0,150.5C677.6,152.2 678.8,154.4 679.5,156.0C680.2,157.6 680.6,158.6 680.5,160.0C680.4,161.4 680.1,163.0 679.0,164.5C677.9,166.0 676.2,167.6 674.0,169.0C671.8,170.4 669.0,171.8 666.0,173.0C663.0,174.2 659.5,175.4 656.0,176.5C652.5,177.6 648.8,178.6 645.0,179.5C641.2,180.4 637.2,181.2 633.0,182.0C628.8,182.8 624.7,183.4 620.0,184.0C615.3,184.6 610.0,185.1 605.0,185.5C600.0,185.9 595.0,186.1 590.0,186.2C585.0,186.3 580.0,186.3 575.0,186.3C570.0,186.3 564.2,186.2 560.0,186.2C555.8,186.1 553.3,186.1 550.0,186.0C546.7,185.9 543.3,185.9 540.0,185.8C536.7,185.7 533.0,186.0 530.0,185.5C527.0,185.0 524.1,184.1 522.0,183.0C519.9,181.9 518.5,180.5 517.5,179.0C516.5,177.5 515.8,175.7 516.0,174.0Z"/><path d="M543.5,162.0C543.4,160.5 544.6,158.7 546.0,157.0C547.4,155.3 549.7,153.6 552.0,152.0C554.3,150.4 557.0,149.0 560.0,147.5C563.0,146.0 566.7,144.3 570.0,143.0C573.3,141.7 576.7,140.4 580.0,139.5C583.3,138.6 586.7,137.9 590.0,137.5C593.3,137.1 596.7,136.9 600.0,136.8C603.3,136.8 606.7,136.8 610.0,137.2C613.3,137.6 616.7,138.1 620.0,139.0C623.3,139.9 627.0,141.2 630.0,142.5C633.0,143.8 635.7,145.4 638.0,147.0C640.3,148.6 642.6,150.4 644.0,152.0C645.4,153.6 646.3,155.2 646.5,156.8C646.7,158.4 646.1,160.0 645.0,161.5C643.9,163.0 642.2,164.7 640.0,166.0C637.8,167.3 635.0,168.5 632.0,169.5C629.0,170.5 625.7,171.4 622.0,172.2C618.3,172.9 614.0,173.6 610.0,174.0C606.0,174.4 602.2,174.7 598.0,174.8C593.8,174.9 589.2,174.9 585.0,174.8C580.8,174.7 576.8,174.4 573.0,174.0C569.2,173.6 565.3,172.9 562.0,172.2C558.7,171.4 555.6,170.5 553.0,169.5C550.4,168.5 548.1,167.2 546.5,166.0C544.9,164.8 543.6,163.5 543.5,162.0Z"/></g><text x="435.0" y="134.5" font-size="38" font-weight="bold" text-anchor="middle" stroke="#000" stroke-width="1.1">+</text><text x="300.5" y="177.2" font-size="33" font-weight="bold" text-anchor="middle" stroke="#000" stroke-width="1.6">−</text><text x="590.0" y="168.7" font-size="33" font-weight="bold" text-anchor="middle" stroke="#000" stroke-width="1.6">−</text>
</g>
<line x1="138.00" y1="214.60" x2="146.00" y2="214.60" stroke="#000" stroke-width="4" stroke-linecap="round" />
<line x1="141.80" y1="200.57" x2="146.00" y2="200.57" stroke="#000" stroke-width="1.8" stroke-linecap="butt" />
<line x1="141.80" y1="186.53" x2="146.00" y2="186.53" stroke="#000" stroke-width="1.8" stroke-linecap="butt" />
<line x1="138.00" y1="172.50" x2="146.00" y2="172.50" stroke="#000" stroke-width="4" stroke-linecap="round" />
<line x1="141.80" y1="158.47" x2="146.00" y2="158.47" stroke="#000" stroke-width="1.8" stroke-linecap="butt" />
<line x1="141.80" y1="144.43" x2="146.00" y2="144.43" stroke="#000" stroke-width="1.8" stroke-linecap="butt" />
<line x1="138.00" y1="130.40" x2="146.00" y2="130.40" stroke="#000" stroke-width="4" stroke-linecap="round" />
<line x1="141.80" y1="116.37" x2="146.00" y2="116.37" stroke="#000" stroke-width="1.8" stroke-linecap="butt" />
<line x1="141.80" y1="102.33" x2="146.00" y2="102.33" stroke="#000" stroke-width="1.8" stroke-linecap="butt" />
<line x1="138.00" y1="88.30" x2="146.00" y2="88.30" stroke="#000" stroke-width="4" stroke-linecap="round" />
<line x1="141.80" y1="74.27" x2="146.00" y2="74.27" stroke="#000" stroke-width="1.8" stroke-linecap="butt" />
<line x1="141.80" y1="60.23" x2="146.00" y2="60.23" stroke="#000" stroke-width="1.8" stroke-linecap="butt" />
<line x1="138.00" y1="46.20" x2="146.00" y2="46.20" stroke="#000" stroke-width="4" stroke-linecap="round" />
<line x1="146.00" y1="214.60" x2="146.00" y2="221.60" stroke="#000" stroke-width="4" stroke-linecap="round" />
<line x1="174.10" y1="214.60" x2="174.10" y2="218.80" stroke="#000" stroke-width="1.8" stroke-linecap="butt" />
<line x1="202.19" y1="214.60" x2="202.19" y2="218.80" stroke="#000" stroke-width="1.8" stroke-linecap="butt" />
<line x1="230.29" y1="214.60" x2="230.29" y2="221.60" stroke="#000" stroke-width="4" stroke-linecap="round" />
<line x1="258.38" y1="214.60" x2="258.38" y2="218.80" stroke="#000" stroke-width="1.8" stroke-linecap="butt" />
<line x1="286.48" y1="214.60" x2="286.48" y2="218.80" stroke="#000" stroke-width="1.8" stroke-linecap="butt" />
<line x1="314.57" y1="214.60" x2="314.57" y2="221.60" stroke="#000" stroke-width="4" stroke-linecap="round" />
<line x1="342.67" y1="214.60" x2="342.67" y2="218.80" stroke="#000" stroke-width="1.8" stroke-linecap="butt" />
<line x1="370.76" y1="214.60" x2="370.76" y2="218.80" stroke="#000" stroke-width="1.8" stroke-linecap="butt" />
<line x1="398.86" y1="214.60" x2="398.86" y2="221.60" stroke="#000" stroke-width="4" stroke-linecap="round" />
<line x1="426.95" y1="214.60" x2="426.95" y2="218.80" stroke="#000" stroke-width="1.8" stroke-linecap="butt" />
<line x1="455.05" y1="214.60" x2="455.05" y2="218.80" stroke="#000" stroke-width="1.8" stroke-linecap="butt" />
<line x1="483.14" y1="214.60" x2="483.14" y2="221.60" stroke="#000" stroke-width="4" stroke-linecap="round" />
<line x1="511.24" y1="214.60" x2="511.24" y2="218.80" stroke="#000" stroke-width="1.8" stroke-linecap="butt" />
<line x1="539.33" y1="214.60" x2="539.33" y2="218.80" stroke="#000" stroke-width="1.8" stroke-linecap="butt" />
<line x1="567.43" y1="214.60" x2="567.43" y2="221.60" stroke="#000" stroke-width="4" stroke-linecap="round" />
<line x1="595.52" y1="214.60" x2="595.52" y2="218.80" stroke="#000" stroke-width="1.8" stroke-linecap="butt" />
<line x1="623.62" y1="214.60" x2="623.62" y2="218.80" stroke="#000" stroke-width="1.8" stroke-linecap="butt" />
<line x1="651.71" y1="214.60" x2="651.71" y2="221.60" stroke="#000" stroke-width="4" stroke-linecap="round" />
<line x1="679.81" y1="214.60" x2="679.81" y2="218.80" stroke="#000" stroke-width="1.8" stroke-linecap="butt" />
<line x1="707.90" y1="214.60" x2="707.90" y2="218.80" stroke="#000" stroke-width="1.8" stroke-linecap="butt" />
<line x1="736.00" y1="214.60" x2="736.00" y2="221.60" stroke="#000" stroke-width="4" stroke-linecap="round" />
<rect x="146.00" y="46.20" width="590.00" height="168.40" fill="none" stroke="#000" stroke-width="4"/>
<text x="120.30" y="228.40" font-size="34.5" text-anchor="end" font-weight="normal" fill="#000" >30<tspan font-size="23.1" dy="-15.9">o</tspan><tspan dy="15.9">N</tspan></text>
<text x="120.30" y="186.30" font-size="34.5" text-anchor="end" font-weight="normal" fill="#000" >45<tspan font-size="23.1" dy="-15.9">o</tspan><tspan dy="15.9">N</tspan></text>
<text x="120.30" y="144.20" font-size="34.5" text-anchor="end" font-weight="normal" fill="#000" >60<tspan font-size="23.1" dy="-15.9">o</tspan><tspan dy="15.9">N</tspan></text>
<text x="120.30" y="102.10" font-size="34.5" text-anchor="end" font-weight="normal" fill="#000" >75<tspan font-size="23.1" dy="-15.9">o</tspan><tspan dy="15.9">N</tspan></text>
<text x="120.30" y="60.00" font-size="34.5" text-anchor="end" font-weight="normal" fill="#000" >90<tspan font-size="23.1" dy="-15.9">o</tspan><tspan dy="15.9">N</tspan></text>
<text x="146.00" y="272.60" font-size="34.5" text-anchor="middle" font-weight="normal" fill="#000" >60<tspan font-size="23.1" dy="-15.9">o</tspan><tspan dy="15.9">W</tspan></text>
<text x="314.57" y="272.60" font-size="34.5" text-anchor="middle" font-weight="normal" fill="#000" >0<tspan font-size="23.1" dy="-15.9">o</tspan><tspan dy="15.9"></tspan></text>
<text x="483.14" y="272.60" font-size="34.5" text-anchor="middle" font-weight="normal" fill="#000" >60<tspan font-size="23.1" dy="-15.9">o</tspan><tspan dy="15.9">E</tspan></text>
<text x="651.71" y="272.60" font-size="34.5" text-anchor="middle" font-weight="normal" fill="#000" >120<tspan font-size="23.1" dy="-15.9">o</tspan><tspan dy="15.9">E</tspan></text>
<text x="144.00" y="37.60" font-size="54" text-anchor="start" font-weight="bold" fill="#000" >a</text>
<text x="213.30" y="31.00" font-size="33.55" text-anchor="start" font-weight="normal" fill="#000" >SCAND pattern (REOF6)</text>
<g clip-path="url(#clip_c)">
<g fill="#d3d3d3"><polygon points="278.0,394.4 292.1,390.8 300.5,386.0 314.6,383.8 342.7,382.4 370.8,379.8 398.9,379.3 421.3,382.4 449.4,384.6 435.4,388.8 429.8,393.6 431.2,399.2 427.0,403.4 421.3,409.0 421.3,413.2 410.1,416.0 421.3,416.9 412.9,420.2 398.9,422.5 390.4,425.9 382.0,429.2 370.8,431.5 365.1,438.5 360.9,445.5 356.7,445.5 348.3,442.7 342.7,438.5 338.5,434.3 332.8,427.3 334.2,423.0 339.9,418.8 330.0,416.0 328.6,411.8 323.0,406.2 317.4,401.2 306.1,400.0 292.1,400.6 283.7,397.8"/><polygon points="414.3,430.1 421.3,427.5 432.6,428.1 442.4,428.1 445.2,431.5 441.0,433.4 431.2,436.0 424.1,434.8 419.4,434.3 421.3,432.0 415.7,431.5"/><polygon points="514.0,390.8 522.5,389.4 539.3,388.0 559.0,388.8 553.4,391.6 542.1,393.6 535.1,396.4 529.5,398.9 522.5,396.4 514.0,392.7"/><polygon points="615.2,388.5 637.7,386.6 657.3,386.0 663.0,387.7 646.1,389.1 623.6,389.6"/><polygon points="627.8,413.2 632.0,410.4 639.1,406.2 646.1,402.6 657.3,400.0 671.4,398.1 675.6,399.2 668.6,401.2 654.5,402.8 647.5,405.6 641.9,409.6 644.7,414.6 637.7,415.7 630.6,414.6"/><polygon points="750.0,392.2 755.7,388.0 764.1,386.0 775.3,388.0 781.0,391.3 769.7,394.4 761.3,393.6"/><polygon points="467.7,473.6 474.7,472.2 486.8,470.2 487.9,466.0 483.7,464.6 482.3,460.9 478.4,457.8 477.0,453.9 477.5,452.0 471.9,452.0 474.2,449.4 469.1,449.4 466.3,452.5 467.7,456.7 469.1,460.1 474.2,460.1 474.7,464.0 470.5,464.3 471.1,467.4 468.5,468.5 473.3,469.6"/><polygon points="455.0,469.1 460.7,469.1 465.7,467.4 466.3,463.7 467.4,460.7 464.9,459.0 459.8,459.0 455.0,461.8 455.6,464.6 455.0,467.4"/><polygon points="441.0,557.8 435.4,555.0 438.2,546.5 442.4,540.9 446.6,536.2 450.8,533.9 455.0,531.1 455.9,528.3 455.6,525.5 459.3,520.4 463.5,518.5 466.3,513.7 467.4,512.9 465.2,510.3 462.4,509.5 458.1,510.1 458.4,505.8 456.5,505.0 458.4,501.1 458.7,496.6 457.0,493.2 460.7,491.2 467.7,491.5 473.3,491.8 478.1,492.1 479.8,489.0 480.1,485.6 477.5,482.8 476.1,481.1 470.5,479.5 469.9,478.1 474.7,476.9 478.6,477.2 478.1,474.7 479.8,475.3 483.7,475.0 487.4,473.0 487.9,471.0 491.6,469.9 494.4,468.0 496.3,465.1 500.0,463.7 502.8,463.5 507.0,463.2 507.6,461.5 507.3,458.1 506.2,454.5 509.8,453.4 512.6,452.0 512.1,455.3 513.5,456.7 510.7,458.7 511.2,460.7 514.0,462.3 516.9,461.8 521.1,461.2 523.3,462.6 528.1,461.5 533.7,460.1 536.0,461.2 538.8,461.2 542.1,459.0 542.1,454.5 546.4,452.2 550.6,453.4 551.7,450.3 549.2,448.9 549.4,447.7 556.2,446.6 561.8,446.9 568.0,445.8 563.2,444.1 556.2,444.4 547.8,445.8 543.5,443.8 543.0,440.4 543.5,437.1 550.6,432.9 554.2,430.6 550.6,429.2 545.0,429.8 542.1,432.9 535.1,437.1 531.7,440.7 531.5,443.5 535.1,445.5 533.7,448.3 529.8,451.1 528.9,455.0 523.9,456.7 519.7,458.4 519.1,455.9 516.0,451.7 514.6,448.3 512.6,447.2 509.8,448.6 505.6,450.8 501.4,450.8 498.6,448.3 497.2,444.7 497.2,441.0 499.4,438.8 504.2,437.1 509.8,435.1 514.0,432.0 518.3,428.7 522.5,425.0 526.7,422.2 532.3,419.4 539.3,417.4 547.8,415.5 555.6,414.3 561.8,414.6 570.2,416.6 568.8,418.3 575.9,419.1 584.3,420.0 595.5,423.6 598.3,426.4 594.1,428.4 581.5,427.0 575.9,427.3 580.1,431.5 581.5,433.4 588.5,434.3 589.9,432.0 595.5,432.6 596.9,429.2 601.1,427.5 606.8,428.1 606.8,423.0 612.4,422.8 613.8,426.1 618.0,424.2 632.0,422.2 637.7,421.6 646.1,420.2 653.1,418.3 653.1,421.1 664.4,419.7 671.4,420.8 675.6,422.5 670.8,418.8 670.8,414.6 675.6,411.0 678.4,409.0 686.8,409.6 687.7,414.6 685.4,420.2 686.8,424.4 679.8,427.3 685.4,427.8 690.2,424.4 692.5,420.8 689.6,416.0 689.6,412.4 693.9,411.3 700.9,411.8 702.3,414.6 698.1,420.2 702.3,421.6 703.7,416.0 707.9,411.8 712.1,408.5 724.8,406.5 727.6,403.4 741.6,401.2 755.7,400.6 764.1,399.2 775.3,395.8 781.0,396.9 792.2,398.6 802.0,400.6 797.8,404.8 789.4,406.2 799.2,406.8 803.4,407.3 816.1,407.6 828.7,407.6 838.5,408.2 842.8,411.3 848.4,414.9 854.0,413.2 861.0,413.5 868.0,413.5 875.1,413.2 876.5,410.4 890.5,410.4 904.6,412.4 918.6,414.6 932.7,418.3 946.7,418.8 960.8,418.0 974.8,418.0 988.9,420.2 988.9,431.5 980.4,438.5 966.4,442.7 955.1,444.9 941.1,448.3 942.5,453.9 938.3,459.5 932.7,465.1 924.2,470.8 921.4,466.6 920.0,459.5 921.4,453.9 929.9,448.3 938.3,442.7 932.7,441.3 922.8,442.7 915.8,446.9 904.6,447.5 890.5,447.5 882.1,448.3 870.9,455.3 863.8,459.5 869.5,462.3 876.5,463.7 880.1,467.1 877.9,472.2 877.3,477.8 872.3,482.8 865.2,488.2 858.2,493.2 852.6,493.2 848.4,495.2 847.0,498.8 842.8,501.6 841.4,503.9 846.4,509.5 846.4,514.3 841.4,516.5 838.0,517.1 838.5,512.9 839.4,510.1 835.7,507.8 834.3,505.8 835.2,503.0 832.4,501.9 828.7,502.8 824.5,504.7 825.3,503.0 826.5,500.2 823.1,499.1 818.9,502.2 814.7,503.9 813.8,505.8 816.9,507.8 818.9,509.5 822.5,507.8 827.3,508.9 826.7,510.3 821.7,512.3 818.3,515.1 818.9,517.1 821.7,519.9 823.1,522.7 825.3,524.6 825.3,527.2 823.1,528.3 825.9,529.7 824.5,532.5 824.5,557.8"/><polygon points="117.9,557.8 117.9,417.4 123.5,416.6 132.0,417.4 143.2,418.0 154.4,420.2 160.0,423.0 162.9,422.2 174.1,423.3 179.7,422.2 185.3,420.8 196.6,423.6 207.8,423.6 213.4,422.2 210.6,418.8 214.8,413.2 219.0,411.8 221.9,414.6 224.7,418.3 228.9,418.8 233.1,420.2 235.9,422.2 241.5,424.4 242.9,418.8 252.8,418.0 254.7,421.6 252.8,424.4 254.7,425.9 248.5,427.8 241.5,428.1 240.1,430.1 238.7,432.9 234.5,434.3 227.5,435.7 221.9,439.9 217.6,444.1 217.1,448.3 221.9,449.1 223.3,453.4 230.3,453.9 235.9,455.3 244.3,458.7 251.9,459.3 252.8,465.1 255.6,468.0 258.4,469.9 261.2,469.4 261.8,465.1 260.3,460.4 265.4,458.1 267.7,453.9 262.6,448.9 265.4,445.5 264.0,439.0 269.6,438.8 276.6,439.9 280.9,442.7 286.5,442.7 287.9,448.3 292.1,449.7 297.7,448.9 300.5,444.7 303.3,446.9 307.5,451.1 310.4,455.3 316.0,459.5 321.6,460.9 325.8,465.1 326.7,468.0 323.0,469.6 317.4,472.2 309.0,473.0 300.5,473.0 294.9,475.5 287.9,479.7 283.7,482.5 289.3,478.6 296.3,476.1 301.9,476.4 301.9,478.3 299.1,480.3 301.1,482.0 301.9,484.2 306.1,485.4 310.4,485.6 314.6,484.8 314.6,482.0 311.8,486.8 304.7,488.7 299.1,491.5 297.2,489.8 300.5,487.0 294.9,487.3 289.3,489.8 285.1,491.8 284.2,494.6 286.5,496.6 282.3,497.7 276.6,499.4 275.2,500.2 274.7,503.0 271.6,505.8 271.0,507.8 269.6,510.1 270.2,512.9 268.2,516.2 264.6,518.5 261.2,520.4 257.0,523.5 254.7,526.9 254.7,529.7 255.6,532.5 255.6,557.8"/><polygon points="316.5,480.0 321.6,480.3 327.2,482.3 333.7,482.8 335.1,480.0 332.0,477.5 332.8,475.5 327.2,473.8 325.8,469.4 322.2,471.6 318.8,476.4"/><polygon points="310.4,427.3 304.7,431.5 300.5,435.7 296.3,439.9 290.7,439.0 283.7,437.6 275.2,433.4 265.4,433.4 264.0,430.1 275.2,430.1 276.6,425.9 266.8,422.5 261.2,418.0 252.8,417.7 244.3,416.9 234.5,415.2 231.7,411.8 238.7,407.3 252.8,407.0 258.4,410.4 266.8,409.9 275.2,412.7 283.7,415.2 292.1,418.3 294.9,421.6 303.3,424.4"/><polygon points="154.4,418.0 151.6,413.8 160.0,408.2 174.1,409.0 188.1,408.5 196.6,412.4 189.5,417.4 196.6,420.2 179.7,421.1 165.7,421.4 155.8,419.7"/><polygon points="132.0,412.4 136.2,406.2 148.8,405.6 157.2,408.2 150.2,411.8 140.4,414.1"/><polygon points="230.3,399.2 235.9,393.6 224.7,388.0 235.9,383.8 258.4,380.9 286.5,380.7 309.0,382.4 300.5,386.6 286.5,389.4 269.6,392.2 264.0,397.8 255.6,399.8"/><polygon points="224.7,403.4 230.3,399.2 255.6,401.2 258.4,404.2 238.7,404.8"/><polygon points="213.4,390.8 224.7,386.0 235.9,389.4 227.5,393.6"/><polygon points="154.4,402.8 168.5,399.8 185.3,400.6 188.1,403.4 174.1,404.8 160.0,404.0"/><polygon points="191.0,402.0 207.8,398.9 210.6,402.8 199.4,404.0"/><polygon points="214.8,406.2 228.9,406.2 228.9,410.4 216.2,411.3"/><polygon points="196.6,407.6 209.2,407.3 210.6,412.4 199.4,412.9"/><polygon points="238.7,430.1 247.1,428.7 255.6,433.7 247.1,436.5 238.7,435.4"/></g><g fill="#fff"><polygon points="467.7,512.9 470.5,510.9 477.0,510.6 481.2,508.4 483.1,505.3 482.3,503.0 485.4,499.1 492.1,496.3 491.9,493.2 494.4,491.8 498.6,492.7 504.2,491.0 507.9,489.3 511.8,490.7 512.6,493.5 517.4,496.6 521.9,498.3 525.3,501.1 527.5,501.9 528.7,505.0 527.3,507.2 529.5,506.4 531.2,504.4 529.8,502.5 530.9,500.2 534.8,501.6 534.8,500.2 529.5,497.4 528.1,496.3 523.9,495.5 521.4,491.8 518.0,489.6 517.7,486.8 521.4,485.6 521.4,487.6 523.9,487.0 525.8,489.8 529.5,492.4 533.7,494.6 537.6,496.6 537.6,500.5 540.7,504.4 542.7,506.4 544.1,510.6 546.4,511.5 548.0,511.5 548.3,508.6 550.6,508.1 549.2,505.8 547.2,503.6 547.5,500.5 550.0,501.6 552.0,499.4 556.2,499.4 558.4,500.2 556.8,501.6 556.8,503.6 559.0,505.6 557.6,506.7 559.8,508.6 560.4,510.9 563.2,510.9 566.0,512.3 569.1,510.6 573.0,512.3 578.7,511.7 582.9,511.2 584.8,511.2 583.7,514.3 584.0,517.1 581.8,521.3 580.6,524.1 579.2,526.1 575.9,526.6 573.6,526.1 570.2,525.5 567.4,526.1 564.6,527.2 559.0,526.1 553.4,525.2 547.8,522.4 543.5,521.6 539.3,524.1 539.3,527.5 536.5,528.9 532.3,527.2 526.7,525.5 525.8,523.2 521.1,521.8 515.5,521.0 511.8,519.3 511.8,517.1 514.0,514.3 512.9,511.5 514.0,510.1 511.2,509.2 507.0,510.3 501.4,510.3 494.4,510.3 488.8,511.2 483.1,513.4 477.5,515.4 470.5,515.1 468.3,513.4"/><polygon points="561.8,498.5 561.8,496.0 560.7,494.1 562.4,491.8 563.8,489.0 566.6,487.0 568.3,484.2 571.6,482.8 575.9,484.5 574.5,485.9 577.3,487.6 577.5,489.3 581.5,488.2 585.7,486.8 582.3,486.5 581.5,484.5 585.7,482.5 591.3,481.4 593.6,481.7 590.5,484.2 589.1,486.2 586.8,487.0 589.9,489.3 594.1,491.5 599.7,494.9 599.7,497.4 595.5,498.8 589.9,498.8 584.3,497.7 581.5,496.0 577.3,496.0 573.0,496.9 568.8,498.3 564.6,498.3"/><polygon points="615.2,485.6 620.8,483.4 626.4,482.3 632.0,483.4 632.0,487.0 627.8,489.0 625.0,489.0 627.8,492.7 631.2,494.6 630.6,497.4 634.3,499.1 632.0,501.6 633.5,504.4 634.9,508.6 633.5,510.6 629.2,510.9 625.0,510.1 621.4,508.6 620.5,505.8 621.7,503.0 622.5,500.5 619.4,496.6 616.6,493.2 616.0,489.8"/><polygon points="646.7,486.2 650.3,483.4 654.5,483.4 655.9,486.2 653.1,489.0 648.9,490.4 646.9,489.0"/><polygon points="568.8,445.5 570.2,442.1 574.5,441.9 575.9,444.1 573.0,445.2"/><polygon points="580.1,442.7 581.5,438.5 584.3,439.9 583.7,442.1"/><polygon points="689.6,484.2 693.9,482.5 699.5,483.1 705.1,483.4 705.1,484.5 699.5,484.2 693.9,484.8 691.0,486.2"/><polygon points="224.7,482.8 231.7,479.2 235.9,476.9 244.3,479.7 245.7,483.4 238.7,483.4 233.1,482.5"/><polygon points="235.9,486.2 241.5,484.8 244.3,486.2 240.7,491.8 239.3,496.9 236.5,496.0 236.7,491.0 238.7,487.6"/><polygon points="245.7,484.8 254.2,484.8 258.4,488.7 254.2,489.0 253.3,492.7 251.4,493.2 248.5,490.4 249.1,487.0"/><polygon points="249.1,496.9 261.2,493.8 261.2,493.2 255.6,494.1 250.0,496.0"/><polygon points="259.2,492.4 268.2,490.1 268.8,491.8 261.2,492.7"/><polygon points="137.6,428.7 146.0,425.9 151.6,427.8 144.6,431.5"/><polygon points="154.4,442.7 162.9,439.0 171.3,437.9 175.5,438.5 168.5,441.3 160.0,443.3"/><polygon points="210.1,472.4 205.6,466.6 205.3,462.9 207.8,463.2 208.9,467.1 212.0,471.9"/></g><g fill="#d3d3d3"><polygon points="518.3,507.2 521.1,506.7 527.0,506.7 525.6,510.1 523.3,510.6 519.1,508.4"/><polygon points="506.2,499.1 509.0,498.3 510.4,500.2 510.1,503.9 507.0,504.4 506.7,501.6"/><polygon points="507.3,494.9 509.6,493.2 509.8,496.0 509.0,497.7 507.6,496.9"/><polygon points="549.4,514.0 556.8,514.8 556.2,515.7 549.4,515.1"/><polygon points="573.9,515.7 575.9,514.8 580.1,514.0 578.7,515.7 575.9,516.8"/><polygon points="489.9,502.8 492.7,501.9 492.1,503.6"/></g>
<g fill="none" stroke="#000" stroke-width="4" stroke-linejoin="round"><path d="M153.5,534.0C153.4,533.2 153.4,531.3 153.0,529.0C152.6,526.7 151.4,523.2 151.0,520.0C150.6,516.8 150.3,513.2 150.5,510.0C150.7,506.8 151.1,503.8 152.0,501.0C152.9,498.2 154.2,495.4 156.0,493.0C157.8,490.6 160.3,488.2 163.0,486.5C165.7,484.8 168.7,483.5 172.0,482.5C175.3,481.5 179.0,480.8 183.0,480.5C187.0,480.2 191.5,480.3 196.0,480.5C200.5,480.7 205.2,481.1 210.0,481.5C214.8,481.9 220.0,482.6 225.0,483.0C230.0,483.4 235.0,483.9 240.0,484.0C245.0,484.1 250.0,483.9 255.0,483.5C260.0,483.1 265.0,482.5 270.0,481.8C275.0,481.1 280.0,480.3 285.0,479.5C290.0,478.7 295.0,477.8 300.0,477.0C305.0,476.2 310.0,475.3 315.0,474.5C320.0,473.7 325.8,472.8 330.0,472.2C334.2,471.6 335.0,471.4 340.0,470.8C345.0,470.2 353.3,469.1 360.0,468.5C366.7,467.9 373.3,467.5 380.0,467.2C386.7,466.9 393.3,466.8 400.0,466.8C406.7,466.8 413.3,466.9 420.0,467.0C426.7,467.1 433.3,467.2 440.0,467.5C446.7,467.8 453.3,468.2 460.0,468.5C466.7,468.8 474.2,469.3 480.0,469.5C485.8,469.7 490.0,469.9 495.0,469.8C500.0,469.7 505.0,469.4 510.0,469.0C515.0,468.6 520.0,468.0 525.0,467.5C530.0,467.0 536.2,466.2 540.0,466.0C543.8,465.8 545.5,466.0 548.0,466.3C550.5,466.6 553.0,467.3 555.0,468.0C557.0,468.7 558.6,469.4 560.0,470.5C561.4,471.6 562.8,473.3 563.5,474.5C564.2,475.7 564.2,476.6 564.0,477.8C563.8,479.1 563.5,480.5 562.5,482.0C561.5,483.5 559.9,485.3 558.0,487.0C556.1,488.7 553.3,490.5 551.0,492.0C548.7,493.5 545.8,495.0 544.0,496.0C542.2,497.0 543.2,497.2 540.0,498.0C536.8,498.8 530.0,499.6 525.0,500.5C520.0,501.4 515.0,502.3 510.0,503.5C505.0,504.7 500.0,506.0 495.0,507.5C490.0,509.0 485.0,510.8 480.0,512.5C475.0,514.2 470.0,516.2 465.0,518.0C460.0,519.8 454.5,521.6 450.0,523.0C445.5,524.4 441.3,525.5 438.0,526.5C434.7,527.5 433.0,527.9 430.0,529.0C427.0,530.1 421.7,532.3 420.0,533.0"/><path d="M199.0,518.0C199.0,516.8 199.8,515.1 201.0,513.5C202.2,511.9 203.8,510.2 206.0,508.5C208.2,506.8 210.8,505.0 214.0,503.5C217.2,502.0 221.0,500.7 225.0,499.5C229.0,498.3 233.8,497.4 238.0,496.5C242.2,495.6 245.8,494.9 250.0,494.0C254.2,493.1 258.7,492.1 263.0,491.0C267.3,489.9 271.5,488.7 276.0,487.5C280.5,486.3 285.2,485.2 290.0,484.0C294.8,482.8 300.0,481.6 305.0,480.5C310.0,479.4 315.8,478.1 320.0,477.2C324.2,476.3 326.7,475.7 330.0,475.0C333.3,474.3 335.0,473.5 340.0,472.8C345.0,472.1 353.3,471.2 360.0,470.6C366.7,470.1 373.3,469.7 380.0,469.5C386.7,469.3 393.3,469.4 400.0,469.5C406.7,469.6 413.3,469.8 420.0,470.2C426.7,470.6 434.2,471.2 440.0,471.8C445.8,472.4 450.0,473.1 455.0,474.0C460.0,474.9 465.8,476.0 470.0,477.0C474.2,478.0 477.2,478.9 480.0,480.0C482.8,481.1 485.3,482.4 487.0,483.5C488.7,484.6 489.8,485.7 490.0,486.8C490.2,487.9 489.3,488.6 488.0,490.0C486.7,491.4 484.3,493.2 482.0,495.0C479.7,496.8 477.0,499.0 474.0,501.0C471.0,503.0 467.5,505.1 464.0,507.0C460.5,508.9 456.7,510.8 453.0,512.5C449.3,514.2 445.8,515.6 442.0,517.0C438.2,518.4 434.0,519.8 430.0,521.0C426.0,522.2 422.0,523.2 418.0,524.0C414.0,524.8 410.0,525.5 406.0,526.0C402.0,526.5 398.3,526.9 394.0,527.2C389.7,527.5 384.8,527.8 380.0,528.0C375.2,528.2 370.0,528.4 365.0,528.6C360.0,528.8 354.2,528.9 350.0,529.0C345.8,529.1 344.2,529.1 340.0,529.0C335.8,528.9 330.0,528.6 325.0,528.4C320.0,528.1 315.0,527.9 310.0,527.5C305.0,527.1 300.0,526.7 295.0,526.3C290.0,525.9 285.0,525.4 280.0,525.0C275.0,524.6 270.0,524.2 265.0,524.0C260.0,523.8 255.0,523.5 250.0,523.5C245.0,523.5 240.0,523.7 235.0,523.8C230.0,523.9 224.5,524.2 220.0,524.2C215.5,524.2 211.2,524.0 208.0,523.5C204.8,523.0 202.5,521.9 201.0,521.0C199.5,520.1 199.0,519.2 199.0,518.0Z"/><path d="M279.5,504.5C279.5,502.8 280.6,500.8 282.0,499.0C283.4,497.2 285.5,495.7 288.0,494.0C290.5,492.3 293.7,490.6 297.0,489.0C300.3,487.4 304.2,485.9 308.0,484.5C311.8,483.1 316.3,481.6 320.0,480.5C323.7,479.4 326.7,478.6 330.0,477.8C333.3,477.0 336.7,476.1 340.0,475.5C343.3,474.9 345.8,474.5 350.0,474.0C354.2,473.5 360.0,472.8 365.0,472.5C370.0,472.2 375.0,472.1 380.0,472.0C385.0,471.9 390.0,472.0 395.0,472.2C400.0,472.4 405.0,472.7 410.0,473.2C415.0,473.7 420.0,474.2 425.0,475.0C430.0,475.8 435.8,476.9 440.0,478.0C444.2,479.1 447.0,480.2 450.0,481.5C453.0,482.8 455.9,484.5 458.0,486.0C460.1,487.5 461.5,489.1 462.5,490.5C463.5,491.9 463.8,492.9 463.8,494.2C463.8,495.4 463.5,496.6 462.5,498.0C461.5,499.4 460.1,501.0 458.0,502.5C455.9,504.0 453.0,505.6 450.0,507.0C447.0,508.4 443.3,509.8 440.0,511.0C436.7,512.2 433.3,513.1 430.0,514.0C426.7,514.9 423.3,515.8 420.0,516.5C416.7,517.2 413.3,517.9 410.0,518.5C406.7,519.1 403.3,519.6 400.0,520.0C396.7,520.4 393.3,520.7 390.0,521.0C386.7,521.3 383.3,521.6 380.0,521.8C376.7,522.0 373.3,522.0 370.0,522.2C366.7,522.4 363.3,522.7 360.0,522.9C356.7,523.1 353.3,523.4 350.0,523.6C346.7,523.8 343.3,524.1 340.0,524.1C336.7,524.1 334.2,524.0 330.0,523.6C325.8,523.2 320.0,522.4 315.0,521.5C310.0,520.6 304.3,519.2 300.0,518.0C295.7,516.8 292.0,515.4 289.0,514.0C286.0,512.6 283.6,511.1 282.0,509.5C280.4,507.9 279.5,506.2 279.5,504.5Z"/><path d="M304.0,502.0C304.0,500.4 305.0,498.7 306.5,497.0C308.0,495.3 310.4,493.6 313.0,492.0C315.6,490.4 318.8,488.9 322.0,487.5C325.2,486.1 329.0,484.6 332.0,483.5C335.0,482.4 337.0,481.8 340.0,481.0C343.0,480.2 346.7,479.2 350.0,478.5C353.3,477.8 356.7,477.0 360.0,476.5C363.3,476.0 366.7,475.7 370.0,475.5C373.3,475.3 376.7,475.2 380.0,475.2C383.3,475.2 386.7,475.3 390.0,475.5C393.3,475.7 396.7,476.1 400.0,476.5C403.3,476.9 406.7,477.5 410.0,478.2C413.3,478.9 416.7,479.5 420.0,480.5C423.3,481.5 427.0,482.8 430.0,484.0C433.0,485.2 435.8,486.7 438.0,488.0C440.2,489.3 441.9,490.8 443.0,492.0C444.1,493.2 444.5,494.0 444.5,495.2C444.5,496.4 444.1,497.6 443.0,499.0C441.9,500.4 440.2,502.1 438.0,503.5C435.8,504.9 433.0,506.2 430.0,507.5C427.0,508.8 423.3,510.0 420.0,511.0C416.7,512.0 413.3,512.8 410.0,513.5C406.7,514.2 403.3,514.8 400.0,515.3C396.7,515.8 393.3,516.2 390.0,516.5C386.7,516.8 383.3,516.9 380.0,517.0C376.7,517.1 373.3,517.3 370.0,517.4C366.7,517.5 363.3,517.6 360.0,517.7C356.7,517.8 353.3,518.0 350.0,518.0C346.7,518.0 344.2,518.5 340.0,518.0C335.8,517.5 329.3,516.2 325.0,515.0C320.7,513.8 317.1,512.4 314.0,511.0C310.9,509.6 308.2,508.0 306.5,506.5C304.8,505.0 304.0,503.6 304.0,502.0Z"/><path d="M324.5,500.0C324.5,498.5 325.6,496.9 327.0,495.5C328.4,494.1 330.8,492.8 333.0,491.5C335.2,490.2 337.2,489.2 340.0,488.0C342.8,486.8 346.7,485.5 350.0,484.5C353.3,483.5 356.7,482.8 360.0,482.2C363.3,481.6 366.7,481.2 370.0,481.0C373.3,480.8 376.7,480.6 380.0,480.7C383.3,480.8 386.7,481.1 390.0,481.5C393.3,481.9 396.7,482.4 400.0,483.2C403.3,483.9 407.0,484.9 410.0,486.0C413.0,487.1 415.8,488.3 418.0,489.5C420.2,490.7 422.2,491.9 423.5,493.0C424.8,494.1 425.4,495.1 425.5,496.2C425.6,497.3 425.1,498.4 424.0,499.5C422.9,500.6 421.3,501.8 419.0,503.0C416.7,504.2 413.2,505.5 410.0,506.5C406.8,507.5 403.3,508.3 400.0,509.0C396.7,509.7 393.3,510.3 390.0,510.8C386.7,511.3 383.3,511.6 380.0,511.8C376.7,512.0 373.3,512.0 370.0,512.0C366.7,511.9 363.3,511.7 360.0,511.5C356.7,511.3 353.3,511.1 350.0,510.8C346.7,510.6 342.8,510.5 340.0,510.0C337.2,509.5 335.2,508.9 333.0,508.0C330.8,507.1 328.4,505.8 327.0,504.5C325.6,503.2 324.5,501.5 324.5,500.0Z"/><path d="M401.5,496.8C401.5,497.5 401.2,498.3 400.6,498.9C399.9,499.6 399.0,500.3 397.8,500.9C396.6,501.6 395.1,502.2 393.4,502.7C391.7,503.2 389.7,503.6 387.6,504.0C385.5,504.3 383.2,504.6 380.9,504.8C378.6,505.0 376.1,505.1 373.7,505.1C371.3,505.1 368.8,505.0 366.5,504.8C364.2,504.6 361.9,504.3 359.8,504.0C357.7,503.6 355.7,503.2 354.0,502.7C352.3,502.2 350.8,501.6 349.6,500.9C348.4,500.3 347.5,499.6 346.8,498.9C346.2,498.3 345.9,497.5 345.9,496.8C345.9,496.1 346.2,495.3 346.8,494.7C347.5,494.0 348.4,493.3 349.6,492.7C350.8,492.0 352.3,491.4 354.0,490.9C355.7,490.4 357.7,490.0 359.8,489.6C361.9,489.3 364.2,489.0 366.5,488.8C368.8,488.6 371.3,488.5 373.7,488.5C376.1,488.5 378.6,488.6 380.9,488.8C383.2,489.0 385.5,489.3 387.6,489.6C389.7,490.0 391.7,490.4 393.4,490.9C395.1,491.4 396.6,492.0 397.8,492.7C399.0,493.3 399.9,494.0 400.6,494.7C401.2,495.3 401.5,496.1 401.5,496.8Z"/></g><g fill="none" stroke="#000" stroke-width="4" stroke-dasharray="4.8 7.2" stroke-linecap="round"><path d="M160.5,412.0C160.6,409.7 161.1,407.2 162.0,405.0C162.9,402.8 164.2,400.8 166.0,399.0C167.8,397.2 170.2,395.9 173.0,394.5C175.8,393.1 179.3,391.7 183.0,390.5C186.7,389.3 190.5,388.3 195.0,387.5C199.5,386.7 205.0,386.1 210.0,385.5C215.0,384.9 220.0,384.6 225.0,384.2C230.0,383.8 234.2,383.6 240.0,383.3C245.8,383.0 253.3,382.7 260.0,382.5C266.7,382.3 273.3,382.3 280.0,382.2C286.7,382.1 293.3,382.0 300.0,382.0C306.7,382.0 313.3,382.0 320.0,382.0C326.7,382.0 333.3,382.0 340.0,382.2C346.7,382.4 353.3,382.8 360.0,383.0C366.7,383.2 373.3,383.4 380.0,383.7C386.7,384.0 393.3,384.3 400.0,384.7C406.7,385.1 413.3,385.6 420.0,386.2C426.7,386.8 433.3,387.4 440.0,388.2C446.7,389.0 453.3,389.8 460.0,390.8C466.7,391.8 473.3,392.8 480.0,394.0C486.7,395.2 494.2,396.6 500.0,398.0C505.8,399.4 510.7,400.9 515.0,402.5C519.3,404.1 523.2,405.8 526.0,407.5C528.8,409.2 530.8,411.1 532.0,413.0C533.2,414.9 533.5,417.0 533.5,419.0C533.5,421.0 532.9,423.0 532.0,425.0C531.1,427.0 529.7,429.0 528.0,431.0C526.3,433.0 524.3,435.1 522.0,437.0C519.7,438.9 517.0,440.8 514.0,442.5C511.0,444.2 507.7,446.0 504.0,447.5C500.3,449.0 496.0,450.4 492.0,451.5C488.0,452.6 484.0,453.6 480.0,454.3C476.0,455.1 472.2,455.5 468.0,456.0C463.8,456.5 459.7,456.8 455.0,457.2C450.3,457.6 445.0,458.1 440.0,458.5C435.0,458.9 430.0,459.2 425.0,459.5C420.0,459.8 415.0,459.9 410.0,460.2C405.0,460.4 400.0,460.7 395.0,461.0C390.0,461.3 385.0,461.6 380.0,461.8C375.0,462.1 370.0,462.2 365.0,462.5C360.0,462.8 354.2,463.2 350.0,463.5C345.8,463.8 344.2,463.6 340.0,464.0C335.8,464.4 330.0,465.4 325.0,466.0C320.0,466.6 315.0,467.1 310.0,467.5C305.0,467.9 300.0,468.2 295.0,468.5C290.0,468.8 285.0,468.9 280.0,469.0C275.0,469.1 269.7,469.0 265.0,468.8C260.3,468.6 256.2,468.3 252.0,467.8C247.8,467.3 244.0,466.8 240.0,466.0C236.0,465.2 232.0,464.2 228.0,463.0C224.0,461.8 220.0,460.4 216.0,459.0C212.0,457.6 208.0,456.1 204.0,454.5C200.0,452.9 195.7,451.2 192.0,449.5C188.3,447.8 185.0,446.2 182.0,444.5C179.0,442.8 176.3,440.9 174.0,439.0C171.7,437.1 169.7,435.2 168.0,433.0C166.3,430.8 165.1,428.3 164.0,426.0C162.9,423.7 162.1,421.3 161.5,419.0C160.9,416.7 160.4,414.3 160.5,412.0Z"/><path d="M202.5,427.0C202.5,426.0 202.7,425.0 202.9,424.0C203.2,423.0 203.5,422.0 204.0,421.0C204.5,420.0 205.1,419.0 205.7,418.0C206.4,417.0 207.2,416.0 208.0,415.0C208.8,414.0 209.7,413.1 210.7,412.2C211.7,411.3 212.8,410.4 214.0,409.5C215.2,408.6 216.6,407.7 218.1,406.9C219.6,406.1 221.2,405.3 223.0,404.5C224.8,403.7 226.8,403.0 228.8,402.4C230.8,401.7 232.9,401.1 235.0,400.5C237.1,399.9 239.2,399.4 241.4,398.9C243.5,398.4 245.8,397.9 248.0,397.5C250.2,397.1 252.5,396.7 254.8,396.4C257.1,396.1 259.9,395.7 262.0,395.5C264.1,395.3 265.4,395.2 267.1,395.0C268.9,394.9 270.7,394.7 272.5,394.6C274.3,394.5 276.2,394.4 278.0,394.3C279.8,394.2 281.6,394.1 283.5,394.1C285.3,394.0 287.2,394.0 289.1,393.9C291.0,393.9 293.2,393.8 295.0,393.8C296.8,393.8 298.1,393.7 299.7,393.7C301.3,393.7 302.8,393.6 304.5,393.6C306.2,393.6 307.8,393.5 309.6,393.5C311.3,393.5 313.3,393.5 315.0,393.5C316.7,393.5 318.2,393.5 319.8,393.5C321.5,393.5 323.3,393.5 325.1,393.6C326.9,393.6 328.7,393.6 330.5,393.6C332.2,393.6 334.0,393.7 335.6,393.7C337.1,393.7 338.3,393.8 340.0,393.8C341.7,393.8 344.0,393.9 345.7,394.0C347.5,394.1 348.8,394.2 350.4,394.3C351.9,394.3 353.4,394.4 355.0,394.5C356.6,394.6 358.3,394.6 360.0,394.7C361.7,394.8 363.3,394.9 365.0,394.9C366.7,395.0 368.3,395.1 370.0,395.2C371.7,395.3 373.3,395.4 375.0,395.5C376.7,395.6 378.3,395.7 380.0,395.8C381.7,395.9 383.3,396.1 385.0,396.2C386.7,396.3 388.3,396.5 390.0,396.6C391.7,396.8 393.3,396.9 395.0,397.1C396.7,397.2 398.3,397.4 400.0,397.5C401.7,397.6 403.3,397.8 405.0,397.9C406.7,398.1 408.3,398.2 410.0,398.3C411.7,398.5 413.3,398.6 415.0,398.8C416.7,399.0 418.3,399.1 420.0,399.3C421.7,399.5 423.3,399.7 425.0,399.9C426.7,400.1 428.3,400.3 430.0,400.5C431.7,400.7 433.3,401.0 435.0,401.2C436.7,401.5 438.3,401.7 440.0,402.0C441.7,402.2 443.3,402.5 445.0,402.8C446.7,403.1 448.3,403.4 450.0,403.6C451.7,403.9 453.3,404.2 455.0,404.5C456.7,404.8 458.3,405.2 460.0,405.5C461.7,405.8 463.4,406.2 465.1,406.6C466.8,407.0 468.5,407.4 470.1,407.8C471.8,408.2 473.0,408.5 475.0,409.0C477.0,409.5 479.7,410.3 481.9,410.9C484.0,411.6 486.1,412.3 488.0,413.0C489.9,413.7 491.5,414.4 493.0,415.2C494.5,415.9 495.8,416.7 497.0,417.5C498.2,418.3 499.2,419.2 500.0,420.0C500.8,420.8 501.5,421.7 502.0,422.5C502.5,423.3 502.8,424.0 503.0,424.7C503.2,425.5 503.3,426.2 503.2,427.0C503.1,427.8 503.0,428.8 502.7,429.7C502.4,430.6 502.0,431.6 501.5,432.5C501.0,433.4 500.3,434.4 499.6,435.3C498.8,436.2 498.0,437.1 497.0,438.0C496.0,438.9 494.9,439.8 493.8,440.6C492.6,441.4 491.3,442.2 490.0,443.0C488.7,443.8 487.2,444.4 485.8,445.1C484.2,445.8 482.7,446.4 481.0,447.0C479.3,447.6 477.5,448.2 475.7,448.7C473.9,449.3 471.9,449.8 470.0,450.2C468.1,450.6 466.1,451.0 464.1,451.3C462.1,451.6 460.1,451.9 458.0,452.2C455.9,452.5 453.9,452.8 451.7,453.1C449.5,453.3 446.9,453.5 445.0,453.7C443.1,453.9 441.8,454.0 440.2,454.1C438.5,454.2 436.8,454.4 435.1,454.5C433.4,454.6 431.7,454.7 430.0,454.8C428.3,454.9 426.7,455.0 425.0,455.1C423.3,455.2 421.7,455.3 420.0,455.4C418.3,455.4 416.7,455.5 415.0,455.6C413.3,455.6 411.7,455.7 410.0,455.8C408.3,455.9 406.7,456.0 405.0,456.1C403.3,456.1 401.7,456.2 400.0,456.3C398.3,456.4 396.7,456.5 395.0,456.6C393.3,456.7 391.7,456.8 390.0,456.9C388.3,457.0 386.7,457.1 385.0,457.1C383.3,457.2 381.7,457.3 380.0,457.4C378.3,457.5 376.7,457.6 375.0,457.6C373.3,457.7 371.7,457.8 370.0,457.8C368.3,457.9 366.7,458.0 365.0,458.1C363.3,458.2 361.7,458.3 360.0,458.4C358.4,458.6 356.6,458.7 354.9,458.8C353.2,458.9 351.5,459.0 349.8,459.1C348.1,459.2 346.2,459.2 344.6,459.3C343.0,459.4 341.6,459.5 340.0,459.6C338.4,459.7 336.6,460.0 335.0,460.2C333.3,460.4 331.6,460.7 330.0,460.9C328.4,461.1 327.0,461.3 325.4,461.5C323.7,461.7 321.9,461.9 320.2,462.1C318.5,462.3 316.7,462.4 315.0,462.5C313.3,462.6 311.7,462.7 310.0,462.8C308.3,462.9 306.7,463.0 305.0,463.1C303.3,463.2 301.7,463.2 300.0,463.3C298.3,463.4 296.7,463.4 295.0,463.4C293.3,463.5 291.7,463.5 290.0,463.5C288.3,463.5 286.7,463.5 285.0,463.5C283.3,463.5 281.6,463.4 280.0,463.4C278.3,463.3 276.6,463.2 274.9,463.1C273.3,463.1 272.0,463.0 270.0,462.8C268.0,462.6 265.2,462.3 262.9,462.0C260.5,461.7 258.2,461.4 256.0,461.0C253.8,460.6 251.5,460.1 249.4,459.6C247.2,459.1 245.1,458.6 243.0,458.0C240.9,457.4 238.8,456.8 236.8,456.1C234.8,455.4 232.8,454.7 231.0,454.0C229.2,453.3 227.4,452.6 225.8,451.8C224.1,451.1 222.5,450.3 221.0,449.5C219.5,448.7 218.1,447.9 216.8,447.1C215.4,446.2 214.2,445.4 213.0,444.5C211.8,443.6 210.7,442.7 209.7,441.8C208.7,440.9 207.8,440.0 207.0,439.0C206.2,438.0 205.5,437.0 204.9,436.0C204.4,435.0 203.9,434.0 203.5,433.0C203.1,432.0 202.9,431.0 202.7,430.0C202.5,429.0 202.5,428.0 202.5,427.0Z"/><path d="M231.5,432.5C231.5,431.6 231.6,430.7 231.7,429.8C231.9,428.9 232.1,427.9 232.5,427.0C232.9,426.1 233.4,425.1 233.9,424.2C234.5,423.3 235.2,422.4 236.0,421.5C236.8,420.6 237.7,419.8 238.7,418.9C239.7,418.1 240.7,417.3 242.0,416.5C243.3,415.7 244.7,414.9 246.2,414.1C247.7,413.3 249.3,412.5 251.0,411.8C252.7,411.1 254.4,410.4 256.2,409.8C258.1,409.1 260.0,408.5 262.0,408.0C264.0,407.5 266.1,407.0 268.2,406.6C270.4,406.2 273.1,405.8 275.0,405.5C276.9,405.2 278.2,405.0 279.9,404.8C281.5,404.6 283.2,404.4 284.9,404.3C286.6,404.1 288.3,403.9 290.0,403.8C291.7,403.7 293.3,403.5 295.0,403.4C296.7,403.3 298.3,403.3 300.0,403.2C301.7,403.1 303.4,403.1 305.0,403.0C306.6,402.9 308.2,402.9 309.8,402.9C311.4,402.8 312.9,402.8 314.6,402.8C316.3,402.8 318.3,402.8 320.0,402.8C321.7,402.8 323.1,402.8 324.8,402.8C326.4,402.8 328.3,402.8 330.0,402.8C331.7,402.9 333.6,402.9 335.2,402.9C336.9,402.9 338.3,402.9 340.0,403.0C341.7,403.1 343.7,403.1 345.4,403.2C347.1,403.3 348.6,403.4 350.2,403.5C351.8,403.6 353.4,403.7 355.0,403.8C356.6,403.9 358.3,404.0 360.0,404.1C361.7,404.2 363.3,404.3 365.0,404.4C366.7,404.6 368.3,404.7 370.0,404.8C371.7,404.9 373.3,405.0 375.0,405.2C376.7,405.3 378.3,405.4 380.0,405.6C381.7,405.7 383.3,405.9 385.0,406.0C386.7,406.1 388.3,406.3 390.0,406.5C391.7,406.6 393.3,406.8 395.0,407.0C396.7,407.1 398.3,407.3 400.0,407.5C401.7,407.7 403.3,407.9 405.0,408.1C406.7,408.3 408.3,408.5 410.0,408.7C411.7,408.9 413.3,409.1 415.0,409.3C416.7,409.5 418.3,409.7 420.0,410.0C421.7,410.2 423.3,410.5 425.0,410.7C426.7,411.0 428.3,411.2 430.0,411.5C431.7,411.8 433.4,412.1 435.1,412.3C436.8,412.6 438.5,412.9 440.1,413.2C441.8,413.5 443.1,413.8 445.0,414.2C446.9,414.6 449.6,415.2 451.8,415.8C453.9,416.3 456.0,416.9 458.0,417.5C460.0,418.1 462.0,418.8 463.9,419.4C465.7,420.1 467.5,420.8 469.0,421.5C470.5,422.2 471.9,423.0 473.0,423.7C474.2,424.5 475.2,425.2 476.0,426.0C476.8,426.8 477.4,427.5 477.8,428.2C478.2,429.0 478.4,429.8 478.5,430.5C478.6,431.2 478.5,432.0 478.2,432.8C478.0,433.5 477.6,434.2 477.0,435.0C476.4,435.8 475.7,436.6 474.9,437.3C474.1,438.1 473.1,438.8 472.0,439.5C470.9,440.2 469.6,440.8 468.3,441.4C467.0,441.9 465.5,442.5 464.0,443.0C462.5,443.5 460.9,444.0 459.2,444.5C457.6,444.9 455.9,445.4 454.0,445.8C452.1,446.2 450.1,446.6 448.1,447.0C446.1,447.3 444.0,447.7 442.0,448.0C440.0,448.3 438.2,448.6 436.2,448.9C434.2,449.2 431.8,449.6 430.0,449.8C428.2,450.0 426.9,450.2 425.2,450.4C423.6,450.6 421.8,450.8 420.1,451.0C418.4,451.1 416.7,451.1 415.0,451.2C413.3,451.2 411.7,451.3 410.0,451.4C408.3,451.5 406.7,451.6 405.0,451.7C403.3,451.7 401.7,451.8 400.0,451.9C398.3,452.0 396.7,452.1 395.0,452.2C393.3,452.3 391.7,452.4 390.0,452.5C388.3,452.6 386.7,452.7 385.0,452.7C383.3,452.8 381.7,452.9 380.0,453.0C378.3,453.1 376.7,453.2 375.0,453.2C373.3,453.3 371.7,453.4 370.0,453.4C368.3,453.5 366.7,453.6 365.0,453.7C363.3,453.8 361.6,453.9 360.0,454.0C358.3,454.2 356.7,454.3 355.1,454.4C353.4,454.5 351.5,454.7 349.9,454.7C348.3,454.8 346.9,454.8 345.3,454.9C343.6,455.0 341.7,455.1 340.0,455.2C338.3,455.3 336.7,455.5 335.0,455.8C333.3,456.0 331.6,456.3 329.9,456.5C328.2,456.7 326.4,457.0 324.8,457.2C323.1,457.3 321.7,457.4 320.0,457.5C318.3,457.6 316.3,457.7 314.6,457.7C312.9,457.8 311.4,457.9 309.8,457.9C308.2,457.9 306.6,458.0 305.0,458.0C303.4,458.0 301.6,458.0 299.9,458.0C298.2,458.0 296.5,458.0 294.9,458.0C293.2,457.9 291.9,457.9 290.0,457.8C288.1,457.7 285.5,457.6 283.4,457.4C281.2,457.3 279.2,457.1 277.0,456.8C274.8,456.5 272.5,456.2 270.4,455.8C268.2,455.4 266.0,454.9 264.0,454.5C262.0,454.1 260.1,453.6 258.2,453.1C256.4,452.6 254.7,452.1 253.0,451.5C251.3,450.9 249.8,450.3 248.2,449.6C246.8,448.9 245.3,448.2 244.0,447.5C242.7,446.8 241.4,446.1 240.2,445.3C239.1,444.6 238.0,443.8 237.0,443.0C236.0,442.2 235.1,441.2 234.4,440.3C233.6,439.4 233.0,438.4 232.5,437.5C232.0,436.6 231.8,435.8 231.7,435.0C231.5,434.2 231.5,433.4 231.5,432.5Z"/><path d="M256.0,434.0C256.0,433.3 256.0,432.5 256.2,431.8C256.3,431.0 256.6,430.3 257.0,429.5C257.4,428.7 258.0,427.8 258.6,427.0C259.3,426.2 260.1,425.3 261.0,424.5C261.9,423.7 263.0,422.9 264.2,422.2C265.4,421.4 266.7,420.7 268.0,420.0C269.3,419.3 270.8,418.7 272.2,418.1C273.8,417.6 275.3,417.0 277.0,416.5C278.7,416.0 280.5,415.5 282.3,415.0C284.1,414.6 286.1,414.2 288.0,413.8C289.9,413.4 291.8,413.1 293.8,412.9C295.8,412.6 298.2,412.4 300.0,412.2C301.8,412.0 303.1,412.0 304.8,411.9C306.4,411.8 308.2,411.7 309.9,411.6C311.6,411.6 313.3,411.5 315.0,411.5C316.7,411.5 318.5,411.4 320.2,411.4C321.9,411.4 323.7,411.4 325.4,411.5C327.0,411.5 328.4,411.5 330.0,411.5C331.6,411.5 333.3,411.6 335.0,411.6C336.7,411.7 338.4,411.7 340.0,411.8C341.6,411.9 343.0,411.9 344.6,412.0C346.3,412.1 348.1,412.1 349.8,412.2C351.5,412.3 353.3,412.4 355.0,412.5C356.7,412.6 358.3,412.7 360.0,412.8C361.7,412.9 363.3,413.0 365.0,413.1C366.7,413.2 368.3,413.4 370.0,413.5C371.7,413.6 373.3,413.8 375.0,413.9C376.7,414.0 378.3,414.2 380.0,414.3C381.7,414.5 383.3,414.6 385.0,414.8C386.7,415.0 388.3,415.1 390.0,415.3C391.7,415.5 393.3,415.7 395.0,415.9C396.7,416.1 398.3,416.3 400.0,416.5C401.7,416.7 403.4,417.0 405.1,417.2C406.8,417.5 408.5,417.7 410.1,418.0C411.8,418.2 413.1,418.4 415.0,418.8C416.9,419.2 419.6,419.7 421.8,420.1C423.9,420.6 426.0,421.0 428.0,421.5C430.0,422.0 432.0,422.4 433.8,422.9C435.6,423.4 437.4,424.0 439.0,424.5C440.6,425.0 442.1,425.6 443.5,426.2C444.8,426.8 446.0,427.4 447.0,428.0C448.0,428.6 448.8,429.3 449.3,430.0C449.9,430.6 450.3,431.3 450.5,432.0C450.7,432.7 450.5,433.4 450.3,434.0C450.0,434.7 449.6,435.4 449.0,436.0C448.4,436.6 447.7,437.2 446.9,437.8C446.1,438.4 445.1,439.0 444.0,439.5C442.9,440.0 441.6,440.5 440.3,440.9C439.0,441.4 437.5,441.8 436.0,442.2C434.5,442.6 432.9,443.0 431.2,443.4C429.6,443.8 427.8,444.1 426.0,444.5C424.2,444.9 422.2,445.2 420.2,445.5C418.2,445.9 416.2,446.2 414.0,446.5C411.8,446.8 409.5,447.0 407.2,447.2C404.9,447.3 402.0,447.4 400.0,447.5C398.0,447.6 396.8,447.7 395.1,447.8C393.4,447.9 391.7,448.0 390.0,448.1C388.4,448.2 386.7,448.3 385.0,448.3C383.3,448.4 381.7,448.5 380.0,448.6C378.3,448.7 376.7,448.8 375.0,448.8C373.3,448.9 371.7,449.0 370.0,449.0C368.3,449.1 366.7,449.2 365.0,449.3C363.3,449.4 361.7,449.5 360.0,449.6C358.3,449.8 356.6,449.9 355.0,450.0C353.4,450.1 351.9,450.3 350.3,450.4C348.7,450.4 347.1,450.4 345.4,450.5C343.7,450.6 341.7,450.7 340.0,450.8C338.3,450.9 336.8,451.1 335.2,451.3C333.5,451.5 331.7,451.7 330.0,451.9C328.3,452.0 326.4,452.0 324.8,452.1C323.1,452.1 321.7,452.2 320.0,452.2C318.3,452.2 316.3,452.3 314.6,452.3C312.8,452.3 311.3,452.3 309.7,452.3C308.1,452.3 306.9,452.3 305.0,452.2C303.1,452.1 300.5,452.1 298.3,452.0C296.1,451.9 294.1,451.7 292.0,451.5C289.9,451.3 287.8,451.0 285.8,450.6C283.8,450.3 281.8,449.9 280.0,449.5C278.2,449.1 276.4,448.6 274.7,448.1C273.1,447.6 271.5,447.0 270.0,446.5C268.5,446.0 267.2,445.4 265.9,444.8C264.7,444.3 263.6,443.7 262.5,443.0C261.4,442.3 260.5,441.6 259.6,440.8C258.8,440.1 258.0,439.3 257.5,438.5C257.0,437.7 256.6,437.0 256.4,436.2C256.1,435.5 256.0,434.7 256.0,434.0Z"/><path d="M285.0,434.5C285.0,433.8 285.1,433.2 285.3,432.5C285.6,431.8 286.0,431.2 286.5,430.5C287.0,429.8 287.6,429.1 288.3,428.4C289.1,427.8 289.9,427.1 291.0,426.5C292.1,425.9 293.3,425.4 294.7,424.9C296.0,424.4 297.5,423.9 299.0,423.5C300.5,423.1 302.1,422.7 303.8,422.4C305.5,422.0 307.2,421.7 309.0,421.5C310.8,421.3 312.7,421.1 314.5,420.9C316.3,420.7 318.2,420.6 320.0,420.5C321.8,420.4 323.4,420.3 325.1,420.3C326.7,420.2 328.4,420.2 330.0,420.2C331.6,420.2 333.2,420.2 334.9,420.3C336.5,420.3 338.2,420.4 340.0,420.5C341.8,420.6 343.8,420.7 345.8,420.8C347.8,420.9 349.9,421.1 352.0,421.2C354.1,421.3 356.1,421.5 358.3,421.6C360.5,421.8 363.1,422.0 365.0,422.2C366.9,422.4 368.2,422.5 369.9,422.7C371.6,422.9 373.4,423.1 375.1,423.2C376.8,423.4 378.1,423.6 380.0,423.8C381.9,424.0 384.6,424.3 386.8,424.6C388.9,424.9 391.0,425.2 393.0,425.5C395.0,425.8 397.0,426.1 398.8,426.4C400.6,426.8 402.4,427.1 404.0,427.5C405.6,427.9 407.1,428.3 408.4,428.7C409.8,429.1 411.0,429.6 412.0,430.0C413.0,430.4 413.9,430.9 414.6,431.4C415.3,431.9 415.8,432.3 416.0,432.8C416.2,433.3 416.1,433.7 415.8,434.1C415.6,434.6 415.1,435.0 414.5,435.5C413.9,436.0 413.1,436.5 412.2,437.0C411.3,437.5 410.2,438.0 409.0,438.5C407.8,439.0 406.3,439.4 404.8,439.8C403.3,440.2 401.6,440.6 400.0,441.0C398.4,441.4 396.9,441.7 395.2,442.1C393.5,442.4 391.8,442.7 390.0,443.0C388.2,443.3 386.2,443.6 384.2,443.8C382.2,444.0 380.1,444.2 378.0,444.3C375.9,444.4 373.8,444.5 371.6,444.6C369.5,444.7 366.9,444.8 365.0,444.9C363.1,445.0 361.7,445.1 360.0,445.2C358.2,445.4 356.3,445.5 354.7,445.6C353.0,445.7 351.6,445.9 350.0,446.0C348.4,446.0 346.7,446.0 345.0,446.0C343.3,446.0 341.6,446.0 340.0,446.0C338.4,446.0 336.9,446.0 335.3,446.1C333.6,446.1 331.7,446.1 330.0,446.2C328.3,446.2 326.9,446.2 325.0,446.2C323.1,446.2 320.8,446.2 318.8,446.1C316.8,446.0 314.9,445.9 313.0,445.8C311.1,445.7 309.1,445.5 307.3,445.3C305.5,445.1 303.7,444.8 302.0,444.5C300.3,444.2 298.7,443.8 297.2,443.4C295.7,443.0 294.3,442.5 293.0,442.0C291.7,441.5 290.6,440.9 289.6,440.3C288.6,439.8 287.7,439.1 287.0,438.5C286.3,437.9 285.9,437.2 285.5,436.5C285.2,435.9 285.0,435.2 285.0,434.5Z"/></g><text x="370.5" y="509.1" font-size="38" font-weight="bold" text-anchor="middle" stroke="#000" stroke-width="1.1">+</text><text x="356.5" y="444.7" font-size="33" font-weight="bold" text-anchor="middle" stroke="#000" stroke-width="1.6">−</text>
</g>
<line x1="138.00" y1="529.70" x2="146.00" y2="529.70" stroke="#000" stroke-width="4" stroke-linecap="round" />
<line x1="141.80" y1="515.67" x2="146.00" y2="515.67" stroke="#000" stroke-width="1.8" stroke-linecap="butt" />
<line x1="141.80" y1="501.63" x2="146.00" y2="501.63" stroke="#000" stroke-width="1.8" stroke-linecap="butt" />
<line x1="138.00" y1="487.60" x2="146.00" y2="487.60" stroke="#000" stroke-width="4" stroke-linecap="round" />
<line x1="141.80" y1="473.57" x2="146.00" y2="473.57" stroke="#000" stroke-width="1.8" stroke-linecap="butt" />
<line x1="141.80" y1="459.53" x2="146.00" y2="459.53" stroke="#000" stroke-width="1.8" stroke-linecap="butt" />
<line x1="138.00" y1="445.50" x2="146.00" y2="445.50" stroke="#000" stroke-width="4" stroke-linecap="round" />
<line x1="141.80" y1="431.47" x2="146.00" y2="431.47" stroke="#000" stroke-width="1.8" stroke-linecap="butt" />
<line x1="141.80" y1="417.43" x2="146.00" y2="417.43" stroke="#000" stroke-width="1.8" stroke-linecap="butt" />
<line x1="138.00" y1="403.40" x2="146.00" y2="403.40" stroke="#000" stroke-width="4" stroke-linecap="round" />
<line x1="141.80" y1="389.37" x2="146.00" y2="389.37" stroke="#000" stroke-width="1.8" stroke-linecap="butt" />
<line x1="141.80" y1="375.33" x2="146.00" y2="375.33" stroke="#000" stroke-width="1.8" stroke-linecap="butt" />
<line x1="138.00" y1="361.30" x2="146.00" y2="361.30" stroke="#000" stroke-width="4" stroke-linecap="round" />
<line x1="146.00" y1="529.70" x2="146.00" y2="536.70" stroke="#000" stroke-width="4" stroke-linecap="round" />
<line x1="174.10" y1="529.70" x2="174.10" y2="533.90" stroke="#000" stroke-width="1.8" stroke-linecap="butt" />
<line x1="202.19" y1="529.70" x2="202.19" y2="533.90" stroke="#000" stroke-width="1.8" stroke-linecap="butt" />
<line x1="230.29" y1="529.70" x2="230.29" y2="536.70" stroke="#000" stroke-width="4" stroke-linecap="round" />
<line x1="258.38" y1="529.70" x2="258.38" y2="533.90" stroke="#000" stroke-width="1.8" stroke-linecap="butt" />
<line x1="286.48" y1="529.70" x2="286.48" y2="533.90" stroke="#000" stroke-width="1.8" stroke-linecap="butt" />
<line x1="314.57" y1="529.70" x2="314.57" y2="536.70" stroke="#000" stroke-width="4" stroke-linecap="round" />
<line x1="342.67" y1="529.70" x2="342.67" y2="533.90" stroke="#000" stroke-width="1.8" stroke-linecap="butt" />
<line x1="370.76" y1="529.70" x2="370.76" y2="533.90" stroke="#000" stroke-width="1.8" stroke-linecap="butt" />
<line x1="398.86" y1="529.70" x2="398.86" y2="536.70" stroke="#000" stroke-width="4" stroke-linecap="round" />
<line x1="426.95" y1="529.70" x2="426.95" y2="533.90" stroke="#000" stroke-width="1.8" stroke-linecap="butt" />
<line x1="455.05" y1="529.70" x2="455.05" y2="533.90" stroke="#000" stroke-width="1.8" stroke-linecap="butt" />
<line x1="483.14" y1="529.70" x2="483.14" y2="536.70" stroke="#000" stroke-width="4" stroke-linecap="round" />
<line x1="511.24" y1="529.70" x2="511.24" y2="533.90" stroke="#000" stroke-width="1.8" stroke-linecap="butt" />
<line x1="539.33" y1="529.70" x2="539.33" y2="533.90" stroke="#000" stroke-width="1.8" stroke-linecap="butt" />
<line x1="567.43" y1="529.70" x2="567.43" y2="536.70" stroke="#000" stroke-width="4" stroke-linecap="round" />
<line x1="595.52" y1="529.70" x2="595.52" y2="533.90" stroke="#000" stroke-width="1.8" stroke-linecap="butt" />
<line x1="623.62" y1="529.70" x2="623.62" y2="533.90" stroke="#000" stroke-width="1.8" stroke-linecap="butt" />
<line x1="651.71" y1="529.70" x2="651.71" y2="536.70" stroke="#000" stroke-width="4" stroke-linecap="round" />
<line x1="679.81" y1="529.70" x2="679.81" y2="533.90" stroke="#000" stroke-width="1.8" stroke-linecap="butt" />
<line x1="707.90" y1="529.70" x2="707.90" y2="533.90" stroke="#000" stroke-width="1.8" stroke-linecap="butt" />
<line x1="736.00" y1="529.70" x2="736.00" y2="536.70" stroke="#000" stroke-width="4" stroke-linecap="round" />
<rect x="146.00" y="361.30" width="590.00" height="168.40" fill="none" stroke="#000" stroke-width="4"/>
<text x="120.30" y="543.50" font-size="34.5" text-anchor="end" font-weight="normal" fill="#000" >30<tspan font-size="23.1" dy="-15.9">o</tspan><tspan dy="15.9">N</tspan></text>
<text x="120.30" y="501.40" font-size="34.5" text-anchor="end" font-weight="normal" fill="#000" >45<tspan font-size="23.1" dy="-15.9">o</tspan><tspan dy="15.9">N</tspan></text>
<text x="120.30" y="459.30" font-size="34.5" text-anchor="end" font-weight="normal" fill="#000" >60<tspan font-size="23.1" dy="-15.9">o</tspan><tspan dy="15.9">N</tspan></text>
<text x="120.30" y="417.20" font-size="34.5" text-anchor="end" font-weight="normal" fill="#000" >75<tspan font-size="23.1" dy="-15.9">o</tspan><tspan dy="15.9">N</tspan></text>
<text x="120.30" y="375.10" font-size="34.5" text-anchor="end" font-weight="normal" fill="#000" >90<tspan font-size="23.1" dy="-15.9">o</tspan><tspan dy="15.9">N</tspan></text>
<text x="146.00" y="587.70" font-size="34.5" text-anchor="middle" font-weight="normal" fill="#000" >120<tspan font-size="23.1" dy="-15.9">o</tspan><tspan dy="15.9">W</tspan></text>
<text x="314.57" y="587.70" font-size="34.5" text-anchor="middle" font-weight="normal" fill="#000" >60<tspan font-size="23.1" dy="-15.9">o</tspan><tspan dy="15.9">W</tspan></text>
<text x="483.14" y="587.70" font-size="34.5" text-anchor="middle" font-weight="normal" fill="#000" >0<tspan font-size="23.1" dy="-15.9">o</tspan><tspan dy="15.9"></tspan></text>
<text x="651.71" y="587.70" font-size="34.5" text-anchor="middle" font-weight="normal" fill="#000" >60<tspan font-size="23.1" dy="-15.9">o</tspan><tspan dy="15.9">E</tspan></text>
<text x="144.00" y="352.70" font-size="54" text-anchor="start" font-weight="bold" fill="#000" >c</text>
<text x="213.30" y="346.10" font-size="33.55" text-anchor="start" font-weight="normal" fill="#000" >NAO pattern (REOF2)</text>
<g fill="#808080"><rect x="838.15" y="130.30" width="8.00" height="38.19"/><rect x="847.58" y="130.30" width="8.00" height="60.97"/><rect x="857.00" y="130.30" width="8.00" height="44.55"/><rect x="866.43" y="101.99" width="8.00" height="28.31"/><rect x="875.86" y="130.30" width="8.00" height="34.51"/><rect x="885.29" y="109.03" width="8.00" height="21.27"/><rect x="894.72" y="130.30" width="8.00" height="9.71"/><rect x="904.14" y="130.30" width="8.00" height="39.86"/><rect x="913.57" y="93.12" width="8.00" height="37.19"/><rect x="923.00" y="97.14" width="8.00" height="33.16"/><rect x="932.43" y="130.30" width="8.00" height="36.85"/><rect x="941.86" y="130.30" width="8.00" height="35.51"/><rect x="951.28" y="130.30" width="8.00" height="11.39"/><rect x="960.71" y="130.30" width="8.00" height="34.51"/><rect x="970.14" y="76.03" width="8.00" height="54.27"/><rect x="979.57" y="130.30" width="8.00" height="8.71"/><rect x="989.00" y="130.30" width="8.00" height="46.56"/><rect x="998.42" y="130.30" width="8.00" height="47.91"/><rect x="1007.85" y="107.19" width="8.00" height="23.11"/><rect x="1017.28" y="130.30" width="8.00" height="8.04"/><rect x="1026.71" y="130.30" width="8.00" height="52.59"/><rect x="1036.14" y="76.37" width="8.00" height="53.94"/><rect x="1045.56" y="109.20" width="8.00" height="21.11"/><rect x="1054.99" y="72.01" width="8.00" height="58.29"/><rect x="1064.42" y="130.30" width="8.00" height="5.70"/><rect x="1073.85" y="115.23" width="8.00" height="15.08"/><rect x="1083.28" y="90.10" width="8.00" height="40.20"/><rect x="1092.70" y="130.30" width="8.00" height="6.37"/><rect x="1102.13" y="99.15" width="8.00" height="31.16"/><rect x="1111.56" y="110.87" width="8.00" height="19.43"/><rect x="1120.99" y="89.43" width="8.00" height="40.87"/><rect x="1130.42" y="130.30" width="8.00" height="51.26"/><rect x="1139.84" y="82.40" width="8.00" height="47.91"/><rect x="1149.27" y="130.30" width="8.00" height="24.79"/><rect x="1158.70" y="130.30" width="8.00" height="18.09"/><rect x="1168.13" y="101.16" width="8.00" height="29.14"/><rect x="1177.56" y="82.40" width="8.00" height="47.91"/><rect x="1186.98" y="130.30" width="8.00" height="7.37"/><rect x="1196.41" y="130.30" width="8.00" height="37.52"/><rect x="1205.84" y="125.95" width="8.00" height="4.36"/><rect x="1215.27" y="125.95" width="8.00" height="4.36"/><rect x="1224.70" y="83.40" width="8.00" height="46.90"/><rect x="1234.12" y="130.30" width="8.00" height="32.83"/><rect x="1243.55" y="130.30" width="8.00" height="25.46"/><rect x="1252.98" y="90.77" width="8.00" height="39.53"/><rect x="1262.41" y="130.30" width="8.00" height="17.76"/><rect x="1271.84" y="78.21" width="8.00" height="52.09"/><rect x="1281.26" y="130.30" width="8.00" height="9.38"/><rect x="1290.69" y="130.30" width="8.00" height="43.55"/><rect x="1300.12" y="130.30" width="8.00" height="1.00"/><rect x="1309.55" y="86.42" width="8.00" height="43.89"/><rect x="1318.98" y="111.21" width="8.00" height="19.09"/><rect x="1328.40" y="130.30" width="8.00" height="17.76"/><rect x="1337.83" y="107.19" width="8.00" height="23.11"/><rect x="1347.26" y="130.30" width="8.00" height="11.39"/><rect x="1356.69" y="92.78" width="8.00" height="37.52"/><rect x="1366.12" y="97.14" width="8.00" height="33.16"/><rect x="1375.54" y="130.30" width="8.00" height="19.77"/><rect x="1384.97" y="130.30" width="8.00" height="15.41"/><rect x="1394.40" y="130.30" width="8.00" height="8.38"/><rect x="1403.83" y="109.20" width="8.00" height="21.11"/><rect x="1413.26" y="130.30" width="8.00" height="26.46"/><rect x="1422.68" y="130.30" width="8.00" height="12.06"/><rect x="1432.11" y="130.30" width="8.00" height="20.43"/><rect x="1441.54" y="130.30" width="8.00" height="2.01"/><rect x="1450.97" y="126.95" width="8.00" height="3.35"/><rect x="1460.40" y="130.30" width="8.00" height="12.73"/><rect x="1469.82" y="130.30" width="8.00" height="14.74"/><rect x="1479.25" y="77.37" width="8.00" height="52.93"/><rect x="1488.68" y="121.59" width="8.00" height="8.71"/><rect x="1498.11" y="120.59" width="8.00" height="9.71"/><rect x="1507.54" y="73.35" width="8.00" height="56.95"/><rect x="1516.96" y="130.30" width="8.00" height="14.74"/><rect x="1526.39" y="76.03" width="8.00" height="54.27"/><rect x="1535.82" y="130.30" width="8.00" height="29.48"/><rect x="1545.25" y="130.30" width="8.00" height="37.19"/><rect x="1554.68" y="88.09" width="8.00" height="42.21"/><rect x="1564.10" y="127.29" width="8.00" height="3.01"/><rect x="1573.53" y="125.28" width="8.00" height="5.02"/><rect x="1582.96" y="95.80" width="8.00" height="34.51"/><rect x="1592.39" y="130.30" width="8.00" height="0.34"/><rect x="1601.82" y="130.30" width="8.00" height="27.14"/><rect x="1611.24" y="130.30" width="8.00" height="44.89"/><rect x="1620.67" y="86.08" width="8.00" height="44.22"/><rect x="1630.10" y="117.91" width="8.00" height="12.39"/><rect x="1639.53" y="126.28" width="8.00" height="4.02"/><rect x="1648.96" y="130.30" width="8.00" height="39.53"/><rect x="1658.38" y="79.55" width="8.00" height="50.75"/><rect x="1667.81" y="130.30" width="8.00" height="24.45"/><rect x="1677.24" y="126.95" width="8.00" height="3.35"/><rect x="1686.67" y="118.24" width="8.00" height="12.06"/><rect x="1696.10" y="130.30" width="8.00" height="39.53"/><rect x="1705.52" y="130.30" width="8.00" height="44.39"/><rect x="1714.95" y="126.95" width="8.00" height="3.35"/><rect x="1724.38" y="130.30" width="8.00" height="16.75"/><rect x="1733.81" y="72.35" width="8.00" height="57.95"/><rect x="1743.24" y="130.30" width="8.00" height="53.27"/><rect x="1752.66" y="130.30" width="8.00" height="54.27"/><rect x="1762.09" y="130.30" width="8.00" height="20.77"/><rect x="1771.52" y="130.30" width="8.00" height="39.36"/><rect x="1780.95" y="94.79" width="8.00" height="35.51"/><rect x="1790.38" y="130.30" width="8.00" height="49.24"/><rect x="1799.80" y="130.30" width="8.00" height="23.45"/><rect x="1809.23" y="130.30" width="8.00" height="14.74"/><rect x="1818.66" y="109.87" width="8.00" height="20.43"/><rect x="1828.09" y="100.15" width="8.00" height="30.15"/><rect x="1837.52" y="130.30" width="8.00" height="56.28"/><rect x="1846.94" y="126.28" width="8.00" height="4.02"/><rect x="1856.37" y="100.82" width="8.00" height="29.48"/><rect x="1865.80" y="93.12" width="8.00" height="37.19"/><rect x="1875.23" y="128.96" width="8.00" height="1.34"/><rect x="1884.66" y="96.13" width="8.00" height="34.17"/><rect x="1894.08" y="106.35" width="8.00" height="23.95"/><rect x="1903.51" y="81.39" width="8.00" height="48.91"/><rect x="1912.94" y="130.30" width="8.00" height="22.45"/><rect x="1922.37" y="119.25" width="8.00" height="11.05"/><rect x="1931.80" y="130.30" width="8.00" height="32.49"/><rect x="1941.22" y="80.05" width="8.00" height="50.25"/><rect x="1950.65" y="130.30" width="8.00" height="36.18"/><rect x="1960.08" y="130.30" width="8.00" height="39.53"/><rect x="1969.51" y="117.24" width="8.00" height="13.07"/><rect x="1978.94" y="130.30" width="8.00" height="37.35"/><rect x="1988.36" y="130.30" width="8.00" height="8.54"/></g>
<line x1="837.50" y1="130.30" x2="1997.00" y2="130.30" stroke="#000" stroke-width="2.4" stroke-linecap="butt" />
<rect x="993.00" y="46.20" width="131.99" height="168.40" fill="#79c4f0" fill-opacity="0.2"/>
<rect x="1379.54" y="46.20" width="131.99" height="168.40" fill="#79c4f0" fill-opacity="0.2"/>
<rect x="1756.66" y="46.20" width="131.99" height="168.40" fill="#79c4f0" fill-opacity="0.2"/>
<line x1="993.00" y1="153.08" x2="1124.99" y2="89.10" stroke="#b8860b" stroke-width="6" stroke-linecap="round"/><line x1="1379.54" y1="154.09" x2="1511.54" y2="103.50" stroke="#0000ff" stroke-width="6" stroke-linecap="round"/><line x1="1756.66" y1="166.15" x2="1888.66" y2="102.50" stroke="#ff0000" stroke-width="6" stroke-linecap="round"/>
<line x1="825.50" y1="214.05" x2="837.50" y2="214.05" stroke="#000" stroke-width="2.4" stroke-linecap="round" />
<line x1="813.50" y1="197.30" x2="837.50" y2="197.30" stroke="#000" stroke-width="4" stroke-linecap="round" />
<line x1="825.50" y1="180.55" x2="837.50" y2="180.55" stroke="#000" stroke-width="2.4" stroke-linecap="round" />
<line x1="813.50" y1="163.80" x2="837.50" y2="163.80" stroke="#000" stroke-width="4" stroke-linecap="round" />
<line x1="825.50" y1="147.05" x2="837.50" y2="147.05" stroke="#000" stroke-width="2.4" stroke-linecap="round" />
<line x1="813.50" y1="130.30" x2="837.50" y2="130.30" stroke="#000" stroke-width="4" stroke-linecap="round" />
<line x1="825.50" y1="113.55" x2="837.50" y2="113.55" stroke="#000" stroke-width="2.4" stroke-linecap="round" />
<line x1="813.50" y1="96.80" x2="837.50" y2="96.80" stroke="#000" stroke-width="4" stroke-linecap="round" />
<line x1="825.50" y1="80.05" x2="837.50" y2="80.05" stroke="#000" stroke-width="2.4" stroke-linecap="round" />
<line x1="813.50" y1="63.30" x2="837.50" y2="63.30" stroke="#000" stroke-width="4" stroke-linecap="round" />
<line x1="825.50" y1="46.55" x2="837.50" y2="46.55" stroke="#000" stroke-width="2.4" stroke-linecap="round" />
<line x1="879.86" y1="214.60" x2="879.86" y2="226.60" stroke="#000" stroke-width="2.4" stroke-linecap="round" />
<line x1="927.00" y1="214.60" x2="927.00" y2="238.60" stroke="#000" stroke-width="4" stroke-linecap="round" />
<line x1="974.14" y1="214.60" x2="974.14" y2="226.60" stroke="#000" stroke-width="2.4" stroke-linecap="round" />
<line x1="1021.28" y1="214.60" x2="1021.28" y2="238.60" stroke="#000" stroke-width="4" stroke-linecap="round" />
<line x1="1068.42" y1="214.60" x2="1068.42" y2="226.60" stroke="#000" stroke-width="2.4" stroke-linecap="round" />
<line x1="1115.56" y1="214.60" x2="1115.56" y2="238.60" stroke="#000" stroke-width="4" stroke-linecap="round" />
<line x1="1162.70" y1="214.60" x2="1162.70" y2="226.60" stroke="#000" stroke-width="2.4" stroke-linecap="round" />
<line x1="1209.84" y1="214.60" x2="1209.84" y2="238.60" stroke="#000" stroke-width="4" stroke-linecap="round" />
<line x1="1256.98" y1="214.60" x2="1256.98" y2="226.60" stroke="#000" stroke-width="2.4" stroke-linecap="round" />
<line x1="1304.12" y1="214.60" x2="1304.12" y2="238.60" stroke="#000" stroke-width="4" stroke-linecap="round" />
<line x1="1351.26" y1="214.60" x2="1351.26" y2="226.60" stroke="#000" stroke-width="2.4" stroke-linecap="round" />
<line x1="1398.40" y1="214.60" x2="1398.40" y2="238.60" stroke="#000" stroke-width="4" stroke-linecap="round" />
<line x1="1445.54" y1="214.60" x2="1445.54" y2="226.60" stroke="#000" stroke-width="2.4" stroke-linecap="round" />
<line x1="1492.68" y1="214.60" x2="1492.68" y2="238.60" stroke="#000" stroke-width="4" stroke-linecap="round" />
<line x1="1539.82" y1="214.60" x2="1539.82" y2="226.60" stroke="#000" stroke-width="2.4" stroke-linecap="round" />
<line x1="1586.96" y1="214.60" x2="1586.96" y2="238.60" stroke="#000" stroke-width="4" stroke-linecap="round" />
<line x1="1634.10" y1="214.60" x2="1634.10" y2="226.60" stroke="#000" stroke-width="2.4" stroke-linecap="round" />
<line x1="1681.24" y1="214.60" x2="1681.24" y2="238.60" stroke="#000" stroke-width="4" stroke-linecap="round" />
<line x1="1728.38" y1="214.60" x2="1728.38" y2="226.60" stroke="#000" stroke-width="2.4" stroke-linecap="round" />
<line x1="1775.52" y1="214.60" x2="1775.52" y2="238.60" stroke="#000" stroke-width="4" stroke-linecap="round" />
<line x1="1822.66" y1="214.60" x2="1822.66" y2="226.60" stroke="#000" stroke-width="2.4" stroke-linecap="round" />
<line x1="1869.80" y1="214.60" x2="1869.80" y2="238.60" stroke="#000" stroke-width="4" stroke-linecap="round" />
<line x1="1916.94" y1="214.60" x2="1916.94" y2="226.60" stroke="#000" stroke-width="2.4" stroke-linecap="round" />
<line x1="1964.08" y1="214.60" x2="1964.08" y2="238.60" stroke="#000" stroke-width="4" stroke-linecap="round" />
<rect x="837.50" y="46.20" width="1159.50" height="168.40" fill="none" stroke="#000" stroke-width="4"/>
<text x="793.20" y="209.20" font-size="33.5" text-anchor="end" font-weight="normal" fill="#000" >-2</text>
<text x="793.20" y="175.70" font-size="33.5" text-anchor="end" font-weight="normal" fill="#000" >-1</text>
<text x="793.20" y="142.20" font-size="33.5" text-anchor="end" font-weight="normal" fill="#000" >0</text>
<text x="793.20" y="108.70" font-size="33.5" text-anchor="end" font-weight="normal" fill="#000" >1</text>
<text x="793.20" y="75.20" font-size="33.5" text-anchor="end" font-weight="normal" fill="#000" >2</text>
<text x="927.00" y="285.10" font-size="33.5" text-anchor="middle" font-weight="normal" fill="#000" >1910</text>
<text x="1021.28" y="285.10" font-size="33.5" text-anchor="middle" font-weight="normal" fill="#000" >1920</text>
<text x="1115.56" y="285.10" font-size="33.5" text-anchor="middle" font-weight="normal" fill="#000" >1930</text>
<text x="1209.84" y="285.10" font-size="33.5" text-anchor="middle" font-weight="normal" fill="#000" >1940</text>
<text x="1304.12" y="285.10" font-size="33.5" text-anchor="middle" font-weight="normal" fill="#000" >1950</text>
<text x="1398.40" y="285.10" font-size="33.5" text-anchor="middle" font-weight="normal" fill="#000" >1960</text>
<text x="1492.68" y="285.10" font-size="33.5" text-anchor="middle" font-weight="normal" fill="#000" >1970</text>
<text x="1586.96" y="285.10" font-size="33.5" text-anchor="middle" font-weight="normal" fill="#000" >1980</text>
<text x="1681.24" y="285.10" font-size="33.5" text-anchor="middle" font-weight="normal" fill="#000" >1990</text>
<text x="1775.52" y="285.10" font-size="33.5" text-anchor="middle" font-weight="normal" fill="#000" >2000</text>
<text x="1869.80" y="285.10" font-size="33.5" text-anchor="middle" font-weight="normal" fill="#000" >2010</text>
<text x="1964.08" y="285.10" font-size="33.5" text-anchor="middle" font-weight="normal" fill="#000" >2020</text>
<text x="835.00" y="37.60" font-size="54" text-anchor="start" font-weight="bold" fill="#000" >b</text>
<text x="907.00" y="31.00" font-size="33.5" text-anchor="start" font-weight="normal" fill="#000" >Standardized SCAND index</text>
<text x="1062.00" y="205.10" font-size="27.9" text-anchor="middle" font-weight="bold" fill="#b8860b" >1.36 (p = 0.031)</text>
<text x="1449.00" y="205.10" font-size="27.9" text-anchor="middle" font-weight="bold" fill="#0000ff" >1.06 (p = 0.015)</text>
<text x="1825.00" y="205.10" font-size="27.9" text-anchor="middle" font-weight="bold" fill="#ff0000" >1.35 (p = 0.025)</text>
<g fill="#808080"><rect x="838.15" y="445.40" width="8.00" height="51.42"/><rect x="847.58" y="445.40" width="8.00" height="37.52"/><rect x="857.00" y="435.35" width="8.00" height="10.05"/><rect x="866.43" y="422.96" width="8.00" height="22.45"/><rect x="875.86" y="420.95" width="8.00" height="24.45"/><rect x="885.29" y="407.21" width="8.00" height="38.19"/><rect x="894.72" y="405.20" width="8.00" height="40.20"/><rect x="904.14" y="426.64" width="8.00" height="18.76"/><rect x="913.57" y="422.96" width="8.00" height="22.45"/><rect x="923.00" y="402.19" width="8.00" height="43.22"/><rect x="932.43" y="415.25" width="8.00" height="30.15"/><rect x="941.86" y="445.40" width="8.00" height="54.27"/><rect x="951.28" y="432.00" width="8.00" height="13.40"/><rect x="960.71" y="436.19" width="8.00" height="9.21"/><rect x="970.14" y="444.73" width="8.00" height="0.67"/><rect x="979.57" y="398.17" width="8.00" height="47.23"/><rect x="989.00" y="445.40" width="8.00" height="20.43"/><rect x="998.42" y="445.40" width="8.00" height="12.06"/><rect x="1007.85" y="445.40" width="8.00" height="53.60"/><rect x="1017.28" y="410.23" width="8.00" height="35.18"/><rect x="1026.71" y="419.94" width="8.00" height="25.46"/><rect x="1036.14" y="422.62" width="8.00" height="22.78"/><rect x="1045.56" y="418.27" width="8.00" height="27.14"/><rect x="1054.99" y="445.40" width="8.00" height="25.80"/><rect x="1064.42" y="404.53" width="8.00" height="40.87"/><rect x="1073.85" y="445.40" width="8.00" height="8.04"/><rect x="1083.28" y="407.38" width="8.00" height="38.02"/><rect x="1092.70" y="403.69" width="8.00" height="41.71"/><rect x="1102.13" y="445.40" width="8.00" height="44.89"/><rect x="1111.56" y="418.27" width="8.00" height="27.14"/><rect x="1120.99" y="436.19" width="8.00" height="9.21"/><rect x="1130.42" y="445.40" width="8.00" height="13.40"/><rect x="1139.84" y="437.03" width="8.00" height="8.38"/><rect x="1149.27" y="415.92" width="8.00" height="29.48"/><rect x="1158.70" y="414.92" width="8.00" height="30.48"/><rect x="1168.13" y="445.40" width="8.00" height="54.27"/><rect x="1177.56" y="436.19" width="8.00" height="9.21"/><rect x="1186.98" y="424.97" width="8.00" height="20.43"/><rect x="1196.41" y="432.00" width="8.00" height="13.40"/><rect x="1205.84" y="445.40" width="8.00" height="67.33"/><rect x="1215.27" y="445.40" width="8.00" height="52.26"/><rect x="1224.70" y="445.40" width="8.00" height="38.52"/><rect x="1234.12" y="413.74" width="8.00" height="31.66"/><rect x="1243.55" y="440.04" width="8.00" height="5.36"/><rect x="1252.98" y="445.40" width="8.00" height="9.38"/><rect x="1262.41" y="422.96" width="8.00" height="22.45"/><rect x="1271.84" y="445.40" width="8.00" height="51.59"/><rect x="1281.26" y="428.65" width="8.00" height="16.75"/><rect x="1290.69" y="412.24" width="8.00" height="33.16"/><rect x="1300.12" y="425.97" width="8.00" height="19.43"/><rect x="1309.55" y="420.95" width="8.00" height="24.45"/><rect x="1318.98" y="442.05" width="8.00" height="3.35"/><rect x="1328.40" y="444.73" width="8.00" height="0.67"/><rect x="1337.83" y="428.32" width="8.00" height="17.09"/><rect x="1347.26" y="445.40" width="8.00" height="47.57"/><rect x="1356.69" y="445.40" width="8.00" height="34.17"/><rect x="1366.12" y="434.18" width="8.00" height="11.22"/><rect x="1375.54" y="445.40" width="8.00" height="37.52"/><rect x="1384.97" y="445.40" width="8.00" height="8.04"/><rect x="1394.40" y="445.40" width="8.00" height="56.28"/><rect x="1403.83" y="434.85" width="8.00" height="10.55"/><rect x="1413.26" y="402.35" width="8.00" height="43.05"/><rect x="1422.68" y="445.40" width="8.00" height="46.56"/><rect x="1432.11" y="445.40" width="8.00" height="38.52"/><rect x="1441.54" y="445.40" width="8.00" height="34.17"/><rect x="1450.97" y="445.40" width="8.00" height="58.46"/><rect x="1460.40" y="440.21" width="8.00" height="5.19"/><rect x="1469.82" y="445.40" width="8.00" height="31.16"/><rect x="1479.25" y="445.40" width="8.00" height="55.61"/><rect x="1488.68" y="445.40" width="8.00" height="34.84"/><rect x="1498.11" y="445.40" width="8.00" height="29.48"/><rect x="1507.54" y="443.06" width="8.00" height="2.35"/><rect x="1516.96" y="418.27" width="8.00" height="27.14"/><rect x="1526.39" y="434.35" width="8.00" height="11.05"/><rect x="1535.82" y="435.52" width="8.00" height="9.88"/><rect x="1545.25" y="405.37" width="8.00" height="40.03"/><rect x="1554.68" y="445.40" width="8.00" height="53.60"/><rect x="1564.10" y="445.40" width="8.00" height="39.20"/><rect x="1573.53" y="445.40" width="8.00" height="59.80"/><rect x="1582.96" y="445.40" width="8.00" height="57.28"/><rect x="1592.39" y="439.37" width="8.00" height="6.03"/><rect x="1601.82" y="445.40" width="8.00" height="8.71"/><rect x="1611.24" y="433.01" width="8.00" height="12.39"/><rect x="1620.67" y="404.20" width="8.00" height="41.20"/><rect x="1630.10" y="445.40" width="8.00" height="64.32"/><rect x="1639.53" y="445.40" width="8.00" height="20.43"/><rect x="1648.96" y="445.40" width="8.00" height="48.24"/><rect x="1658.38" y="415.59" width="8.00" height="29.82"/><rect x="1667.81" y="403.02" width="8.00" height="42.38"/><rect x="1677.24" y="413.91" width="8.00" height="31.49"/><rect x="1686.67" y="421.28" width="8.00" height="24.12"/><rect x="1696.10" y="430.16" width="8.00" height="15.24"/><rect x="1705.52" y="414.25" width="8.00" height="31.16"/><rect x="1714.95" y="427.14" width="8.00" height="18.26"/><rect x="1724.38" y="420.28" width="8.00" height="25.12"/><rect x="1733.81" y="445.40" width="8.00" height="18.26"/><rect x="1743.24" y="417.60" width="8.00" height="27.80"/><rect x="1752.66" y="445.40" width="8.00" height="7.37"/><rect x="1762.09" y="421.28" width="8.00" height="24.12"/><rect x="1771.52" y="407.21" width="8.00" height="38.19"/><rect x="1780.95" y="444.06" width="8.00" height="1.34"/><rect x="1790.38" y="414.25" width="8.00" height="31.16"/><rect x="1809.23" y="445.40" width="8.00" height="46.23"/><rect x="1818.66" y="445.40" width="8.00" height="0.67"/><rect x="1828.09" y="445.40" width="8.00" height="17.42"/><rect x="1837.52" y="445.40" width="8.00" height="21.27"/><rect x="1846.94" y="410.23" width="8.00" height="35.18"/><rect x="1856.37" y="445.40" width="8.00" height="23.28"/><rect x="1865.80" y="445.40" width="8.00" height="66.00"/><rect x="1875.23" y="445.40" width="8.00" height="28.47"/><rect x="1884.66" y="428.32" width="8.00" height="17.09"/><rect x="1894.08" y="445.40" width="8.00" height="24.62"/><rect x="1903.51" y="441.05" width="8.00" height="4.36"/><rect x="1912.94" y="402.69" width="8.00" height="42.71"/><rect x="1922.37" y="431.33" width="8.00" height="14.07"/><rect x="1931.80" y="441.05" width="8.00" height="4.36"/><rect x="1941.22" y="407.21" width="8.00" height="38.19"/><rect x="1950.65" y="441.72" width="8.00" height="3.69"/><rect x="1960.08" y="410.90" width="8.00" height="34.51"/><rect x="1969.51" y="445.40" width="8.00" height="55.11"/><rect x="1978.94" y="401.18" width="8.00" height="44.22"/><rect x="1988.36" y="414.25" width="8.00" height="31.16"/></g>
<line x1="837.50" y1="445.40" x2="1997.00" y2="445.40" stroke="#000" stroke-width="2.4" stroke-linecap="butt" />
<rect x="993.00" y="361.30" width="131.99" height="168.40" fill="#79c4f0" fill-opacity="0.2"/>
<rect x="1379.54" y="361.30" width="131.99" height="168.40" fill="#79c4f0" fill-opacity="0.2"/>
<rect x="1756.66" y="361.30" width="131.99" height="168.40" fill="#79c4f0" fill-opacity="0.2"/>
<line x1="993.00" y1="451.77" x2="1124.99" y2="425.80" stroke="#b8860b" stroke-width="6" stroke-linecap="round"/><line x1="1379.54" y1="468.01" x2="1511.54" y2="473.88" stroke="#0000ff" stroke-width="6" stroke-linecap="round"/><line x1="1756.66" y1="429.99" x2="1888.66" y2="468.85" stroke="#ff0000" stroke-width="6" stroke-linecap="round"/>
<line x1="825.50" y1="529.15" x2="837.50" y2="529.15" stroke="#000" stroke-width="2.4" stroke-linecap="round" />
<line x1="813.50" y1="512.40" x2="837.50" y2="512.40" stroke="#000" stroke-width="4" stroke-linecap="round" />
<line x1="825.50" y1="495.65" x2="837.50" y2="495.65" stroke="#000" stroke-width="2.4" stroke-linecap="round" />
<line x1="813.50" y1="478.90" x2="837.50" y2="478.90" stroke="#000" stroke-width="4" stroke-linecap="round" />
<line x1="825.50" y1="462.15" x2="837.50" y2="462.15" stroke="#000" stroke-width="2.4" stroke-linecap="round" />
<line x1="813.50" y1="445.40" x2="837.50" y2="445.40" stroke="#000" stroke-width="4" stroke-linecap="round" />
<line x1="825.50" y1="428.65" x2="837.50" y2="428.65" stroke="#000" stroke-width="2.4" stroke-linecap="round" />
<line x1="813.50" y1="411.90" x2="837.50" y2="411.90" stroke="#000" stroke-width="4" stroke-linecap="round" />
<line x1="825.50" y1="395.15" x2="837.50" y2="395.15" stroke="#000" stroke-width="2.4" stroke-linecap="round" />
<line x1="813.50" y1="378.40" x2="837.50" y2="378.40" stroke="#000" stroke-width="4" stroke-linecap="round" />
<line x1="825.50" y1="361.65" x2="837.50" y2="361.65" stroke="#000" stroke-width="2.4" stroke-linecap="round" />
<line x1="879.86" y1="529.70" x2="879.86" y2="541.70" stroke="#000" stroke-width="2.4" stroke-linecap="round" />
<line x1="927.00" y1="529.70" x2="927.00" y2="553.70" stroke="#000" stroke-width="4" stroke-linecap="round" />
<line x1="974.14" y1="529.70" x2="974.14" y2="541.70" stroke="#000" stroke-width="2.4" stroke-linecap="round" />
<line x1="1021.28" y1="529.70" x2="1021.28" y2="553.70" stroke="#000" stroke-width="4" stroke-linecap="round" />
<line x1="1068.42" y1="529.70" x2="1068.42" y2="541.70" stroke="#000" stroke-width="2.4" stroke-linecap="round" />
<line x1="1115.56" y1="529.70" x2="1115.56" y2="553.70" stroke="#000" stroke-width="4" stroke-linecap="round" />
<line x1="1162.70" y1="529.70" x2="1162.70" y2="541.70" stroke="#000" stroke-width="2.4" stroke-linecap="round" />
<line x1="1209.84" y1="529.70" x2="1209.84" y2="553.70" stroke="#000" stroke-width="4" stroke-linecap="round" />
<line x1="1256.98" y1="529.70" x2="1256.98" y2="541.70" stroke="#000" stroke-width="2.4" stroke-linecap="round" />
<line x1="1304.12" y1="529.70" x2="1304.12" y2="553.70" stroke="#000" stroke-width="4" stroke-linecap="round" />
<line x1="1351.26" y1="529.70" x2="1351.26" y2="541.70" stroke="#000" stroke-width="2.4" stroke-linecap="round" />
<line x1="1398.40" y1="529.70" x2="1398.40" y2="553.70" stroke="#000" stroke-width="4" stroke-linecap="round" />
<line x1="1445.54" y1="529.70" x2="1445.54" y2="541.70" stroke="#000" stroke-width="2.4" stroke-linecap="round" />
<line x1="1492.68" y1="529.70" x2="1492.68" y2="553.70" stroke="#000" stroke-width="4" stroke-linecap="round" />
<line x1="1539.82" y1="529.70" x2="1539.82" y2="541.70" stroke="#000" stroke-width="2.4" stroke-linecap="round" />
<line x1="1586.96" y1="529.70" x2="1586.96" y2="553.70" stroke="#000" stroke-width="4" stroke-linecap="round" />
<line x1="1634.10" y1="529.70" x2="1634.10" y2="541.70" stroke="#000" stroke-width="2.4" stroke-linecap="round" />
<line x1="1681.24" y1="529.70" x2="1681.24" y2="553.70" stroke="#000" stroke-width="4" stroke-linecap="round" />
<line x1="1728.38" y1="529.70" x2="1728.38" y2="541.70" stroke="#000" stroke-width="2.4" stroke-linecap="round" />
<line x1="1775.52" y1="529.70" x2="1775.52" y2="553.70" stroke="#000" stroke-width="4" stroke-linecap="round" />
<line x1="1822.66" y1="529.70" x2="1822.66" y2="541.70" stroke="#000" stroke-width="2.4" stroke-linecap="round" />
<line x1="1869.80" y1="529.70" x2="1869.80" y2="553.70" stroke="#000" stroke-width="4" stroke-linecap="round" />
<line x1="1916.94" y1="529.70" x2="1916.94" y2="541.70" stroke="#000" stroke-width="2.4" stroke-linecap="round" />
<line x1="1964.08" y1="529.70" x2="1964.08" y2="553.70" stroke="#000" stroke-width="4" stroke-linecap="round" />
<rect x="837.50" y="361.30" width="1159.50" height="168.40" fill="none" stroke="#000" stroke-width="4"/>
<text x="793.20" y="524.30" font-size="33.5" text-anchor="end" font-weight="normal" fill="#000" >-2</text>
<text x="793.20" y="490.80" font-size="33.5" text-anchor="end" font-weight="normal" fill="#000" >-1</text>
<text x="793.20" y="457.30" font-size="33.5" text-anchor="end" font-weight="normal" fill="#000" >0</text>
<text x="793.20" y="423.80" font-size="33.5" text-anchor="end" font-weight="normal" fill="#000" >1</text>
<text x="793.20" y="390.30" font-size="33.5" text-anchor="end" font-weight="normal" fill="#000" >2</text>
<text x="927.00" y="600.20" font-size="33.5" text-anchor="middle" font-weight="normal" fill="#000" >1910</text>
<text x="1021.28" y="600.20" font-size="33.5" text-anchor="middle" font-weight="normal" fill="#000" >1920</text>
<text x="1115.56" y="600.20" font-size="33.5" text-anchor="middle" font-weight="normal" fill="#000" >1930</text>
<text x="1209.84" y="600.20" font-size="33.5" text-anchor="middle" font-weight="normal" fill="#000" >1940</text>
<text x="1304.12" y="600.20" font-size="33.5" text-anchor="middle" font-weight="normal" fill="#000" >1950</text>
<text x="1398.40" y="600.20" font-size="33.5" text-anchor="middle" font-weight="normal" fill="#000" >1960</text>
<text x="1492.68" y="600.20" font-size="33.5" text-anchor="middle" font-weight="normal" fill="#000" >1970</text>
<text x="1586.96" y="600.20" font-size="33.5" text-anchor="middle" font-weight="normal" fill="#000" >1980</text>
<text x="1681.24" y="600.20" font-size="33.5" text-anchor="middle" font-weight="normal" fill="#000" >1990</text>
<text x="1775.52" y="600.20" font-size="33.5" text-anchor="middle" font-weight="normal" fill="#000" >2000</text>
<text x="1869.80" y="600.20" font-size="33.5" text-anchor="middle" font-weight="normal" fill="#000" >2010</text>
<text x="1964.08" y="600.20" font-size="33.5" text-anchor="middle" font-weight="normal" fill="#000" >2020</text>
<text x="835.00" y="352.70" font-size="54" text-anchor="start" font-weight="bold" fill="#000" >d</text>
<text x="907.00" y="346.10" font-size="33.5" text-anchor="start" font-weight="normal" fill="#000" >Standardized NAO index</text>
<text x="1062.00" y="520.20" font-size="27.9" text-anchor="middle" font-weight="bold" fill="#b8860b" >0.55 (p = 0.363)</text>
<text x="1445.00" y="520.20" font-size="27.9" text-anchor="middle" font-weight="bold" fill="#0000ff" >-0.12 (p = 0.836)</text>
<text x="1823.00" y="520.20" font-size="27.9" text-anchor="middle" font-weight="bold" fill="#ff0000" >-0.82 (p = 0.137)</text>
<g stroke="#000" stroke-width="1.5" stroke-linecap="butt"><path d="M229.9,780.2v8.4M225.8,782.0l8.2,4.8M225.8,786.8l8.2,-4.8"/><path d="M245.9,772.0v8.4M241.8,773.8l8.2,4.8M241.8,778.6l8.2,-4.8"/><path d="M217.0,799.1v8.4M212.9,800.9l8.2,4.8M212.9,805.7l8.2,-4.8"/><path d="M213.8,817.2v8.4M209.7,819.0l8.2,4.8M209.7,823.8l8.2,-4.8"/><path d="M301.8,790.7v8.4M297.7,792.5l8.2,4.8M297.7,797.3l8.2,-4.8"/><path d="M324.6,800.6v8.4M320.5,802.4l8.2,4.8M320.5,807.2l8.2,-4.8"/><path d="M299.9,807.4v8.4M295.8,809.2l8.2,4.8M295.8,814.0l8.2,-4.8"/><path d="M309.7,810.4v8.4M305.6,812.2l8.2,4.8M305.6,817.0l8.2,-4.8"/><path d="M288.9,815.9v8.4M284.8,817.7l8.2,4.8M284.8,822.5l8.2,-4.8"/><path d="M308.3,831.0v8.4M304.2,832.8l8.2,4.8M304.2,837.6l8.2,-4.8"/><path d="M331.5,832.6v8.4M327.4,834.4l8.2,4.8M327.4,839.2l8.2,-4.8"/><path d="M371.5,835.0v8.4M367.4,836.8l8.2,4.8M367.4,841.6l8.2,-4.8"/><path d="M302.9,840.3v8.4M298.8,842.1l8.2,4.8M298.8,846.9l8.2,-4.8"/><path d="M317.7,843.9v8.4M313.6,845.7l8.2,4.8M313.6,850.5l8.2,-4.8"/><path d="M319.9,850.7v8.4M315.8,852.5l8.2,4.8M315.8,857.3l8.2,-4.8"/><path d="M283.7,844.2v8.4M279.6,846.0l8.2,4.8M279.6,850.8l8.2,-4.8"/><path d="M275.2,847.4v8.4M271.1,849.2l8.2,4.8M271.1,854.0l8.2,-4.8"/><path d="M234.9,843.6v8.4M230.8,845.4l8.2,4.8M230.8,850.2l8.2,-4.8"/><path d="M261.4,862.5v8.4M257.3,864.3l8.2,4.8M257.3,869.1l8.2,-4.8"/><path d="M366.0,858.9v8.4M361.9,860.7l8.2,4.8M361.9,865.5l8.2,-4.8"/><path d="M351.4,871.0v8.4M347.3,872.8l8.2,4.8M347.3,877.6l8.2,-4.8"/><path d="M325.1,873.3v8.4M321.0,875.1l8.2,4.8M321.0,879.9l8.2,-4.8"/><path d="M298.7,875.4v8.4M294.6,877.2l8.2,4.8M294.6,882.0l8.2,-4.8"/><path d="M297.9,882.5v8.4M293.8,884.3l8.2,4.8M293.8,889.1l8.2,-4.8"/><path d="M313.0,878.5v8.4M308.9,880.3l8.2,4.8M308.9,885.1l8.2,-4.8"/><path d="M265.8,888.5v8.4M261.7,890.3l8.2,4.8M261.7,895.1l8.2,-4.8"/><path d="M289.4,900.6v8.4M285.3,902.4l8.2,4.8M285.3,907.2l8.2,-4.8"/><path d="M302.9,903.7v8.4M298.8,905.5l8.2,4.8M298.8,910.3l8.2,-4.8"/><path d="M311.7,905.3v8.4M307.6,907.1l8.2,4.8M307.6,911.9l8.2,-4.8"/><path d="M357.8,895.8v8.4M353.7,897.6l8.2,4.8M353.7,902.4l8.2,-4.8"/><path d="M366.0,897.4v8.4M361.9,899.2l8.2,4.8M361.9,904.0l8.2,-4.8"/><path d="M369.6,899.0v8.4M365.5,900.8l8.2,4.8M365.5,905.6l8.2,-4.8"/><path d="M375.9,890.8v8.4M371.8,892.6l8.2,4.8M371.8,897.4l8.2,-4.8"/><path d="M379.4,896.3v8.4M375.3,898.1l8.2,4.8M375.3,902.9l8.2,-4.8"/><path d="M374.0,910.8v8.4M369.9,912.6l8.2,4.8M369.9,917.4l8.2,-4.8"/><path d="M367.6,915.2v8.4M363.5,917.0l8.2,4.8M363.5,921.8l8.2,-4.8"/><path d="M346.3,917.4v8.4M342.2,919.2l8.2,4.8M342.2,924.0l8.2,-4.8"/><path d="M355.8,922.6v8.4M351.7,924.4l8.2,4.8M351.7,929.2l8.2,-4.8"/><path d="M358.1,925.4v8.4M354.0,927.2l8.2,4.8M354.0,932.0l8.2,-4.8"/><path d="M378.3,923.9v8.4M374.2,925.7l8.2,4.8M374.2,930.5l8.2,-4.8"/><path d="M275.1,926.1v8.4M271.0,927.9l8.2,4.8M271.0,932.7l8.2,-4.8"/><path d="M300.7,927.3v8.4M296.6,929.1l8.2,4.8M296.6,933.9l8.2,-4.8"/><path d="M297.9,930.5v8.4M293.8,932.3l8.2,4.8M293.8,937.1l8.2,-4.8"/><path d="M334.1,933.1v8.4M330.0,934.9l8.2,4.8M330.0,939.7l8.2,-4.8"/><path d="M328.7,937.1v8.4M324.6,938.9l8.2,4.8M324.6,943.7l8.2,-4.8"/><path d="M351.4,953.3v8.4M347.3,955.1l8.2,4.8M347.3,959.9l8.2,-4.8"/><path d="M370.7,950.9v8.4M366.6,952.7l8.2,4.8M366.6,957.5l8.2,-4.8"/><path d="M382.6,896.5v8.4M378.5,898.3l8.2,4.8M378.5,903.1l8.2,-4.8"/><path d="M395.3,907.8v8.4M391.2,909.6l8.2,4.8M391.2,914.4l8.2,-4.8"/><path d="M393.3,912.4v8.4M389.2,914.2l8.2,4.8M389.2,919.0l8.2,-4.8"/><path d="M394.8,916.0v8.4M390.7,917.8l8.2,4.8M390.7,922.6l8.2,-4.8"/><path d="M382.6,919.6v8.4M378.5,921.4l8.2,4.8M378.5,926.2l8.2,-4.8"/><path d="M403.5,921.6v8.4M399.4,923.4l8.2,4.8M399.4,928.2l8.2,-4.8"/><path d="M388.7,926.7v8.4M384.6,928.5l8.2,4.8M384.6,933.3l8.2,-4.8"/><path d="M395.3,928.2v8.4M391.2,930.0l8.2,4.8M391.2,934.8l8.2,-4.8"/><path d="M391.3,933.4v8.4M387.2,935.2l8.2,4.8M387.2,940.0l8.2,-4.8"/><path d="M401.5,938.5v8.4M397.4,940.3l8.2,4.8M397.4,945.1l8.2,-4.8"/><path d="M387.7,944.1v8.4M383.6,945.9l8.2,4.8M383.6,950.7l8.2,-4.8"/><path d="M417.3,931.3v8.4M413.2,933.1l8.2,4.8M413.2,937.9l8.2,-4.8"/><path d="M425.0,932.8v8.4M420.9,934.6l8.2,4.8M420.9,939.4l8.2,-4.8"/><path d="M420.9,942.6v8.4M416.8,944.4l8.2,4.8M416.8,949.2l8.2,-4.8"/><path d="M450.6,926.2v8.4M446.5,928.0l8.2,4.8M446.5,932.8l8.2,-4.8"/><path d="M447.5,951.1v8.4M443.4,952.9l8.2,4.8M443.4,957.7l8.2,-4.8"/><path d="M423.5,956.4v8.4M419.4,958.2l8.2,4.8M419.4,963.0l8.2,-4.8"/><path d="M428.1,957.4v8.4M424.0,959.2l8.2,4.8M424.0,964.0l8.2,-4.8"/><path d="M436.3,956.9v8.4M432.2,958.7l8.2,4.8M432.2,963.5l8.2,-4.8"/><path d="M433.7,961.5v8.4M429.6,963.3l8.2,4.8M429.6,968.1l8.2,-4.8"/><path d="M441.4,968.1v8.4M437.3,969.9l8.2,4.8M437.3,974.7l8.2,-4.8"/><path d="M453.3,967.3v8.4M449.2,969.1l8.2,4.8M449.2,973.9l8.2,-4.8"/><path d="M401.5,956.4v8.4M397.4,958.2l8.2,4.8M397.4,963.0l8.2,-4.8"/><path d="M395.3,960.0v8.4M391.2,961.8l8.2,4.8M391.2,966.6l8.2,-4.8"/><path d="M409.7,965.1v8.4M405.6,966.9l8.2,4.8M405.6,971.7l8.2,-4.8"/><path d="M408.6,968.6v8.4M404.5,970.4l8.2,4.8M404.5,975.2l8.2,-4.8"/><path d="M418.9,963.5v8.4M414.8,965.3l8.2,4.8M414.8,970.1l8.2,-4.8"/><path d="M409.7,976.3v8.4M405.6,978.1l8.2,4.8M405.6,982.9l8.2,-4.8"/><path d="M415.3,977.3v8.4M411.2,979.1l8.2,4.8M411.2,983.9l8.2,-4.8"/><path d="M421.9,975.8v8.4M417.8,977.6l8.2,4.8M417.8,982.4l8.2,-4.8"/><path d="M425.0,980.9v8.4M420.9,982.7l8.2,4.8M420.9,987.5l8.2,-4.8"/><path d="M405.6,981.9v8.4M401.5,983.7l8.2,4.8M401.5,988.5l8.2,-4.8"/><path d="M409.7,985.5v8.4M405.6,987.3l8.2,4.8M405.6,992.1l8.2,-4.8"/><path d="M403.0,990.6v8.4M398.9,992.4l8.2,4.8M398.9,997.2l8.2,-4.8"/><path d="M409.2,995.8v8.4M405.1,997.6l8.2,4.8M405.1,1002.4l8.2,-4.8"/><path d="M428.8,996.6v8.4M424.7,998.4l8.2,4.8M424.7,1003.2l8.2,-4.8"/><path d="M468.2,980.9v8.4M464.1,982.7l8.2,4.8M464.1,987.5l8.2,-4.8"/><path d="M464.7,987.6v8.4M460.6,989.4l8.2,4.8M460.6,994.2l8.2,-4.8"/><path d="M383.1,979.4v8.4M379.0,981.2l8.2,4.8M379.0,986.0l8.2,-4.8"/><path d="M406.1,1006.8v8.4M402.0,1008.6l8.2,4.8M402.0,1013.4l8.2,-4.8"/><path d="M390.7,1009.9v8.4M386.6,1011.7l8.2,4.8M386.6,1016.5l8.2,-4.8"/><path d="M434.2,1006.0v8.4M430.1,1007.8l8.2,4.8M430.1,1012.6l8.2,-4.8"/><path d="M425.3,1010.1v8.4M421.2,1011.9l8.2,4.8M421.2,1016.7l8.2,-4.8"/><path d="M433.2,973.8v8.4M429.1,975.6l8.2,4.8M429.1,980.4l8.2,-4.8"/><path d="M379.5,961.8v8.4M375.4,963.6l8.2,4.8M375.4,968.4l8.2,-4.8"/><path d="M379.3,996.8v8.4M375.2,998.6l8.2,4.8M375.2,1003.4l8.2,-4.8"/><path d="M365.3,1022.1v8.4M361.2,1023.9l8.2,4.8M361.2,1028.7l8.2,-4.8"/><path d="M405.1,1041.7v8.4M401.0,1043.5l8.2,4.8M401.0,1048.3l8.2,-4.8"/><path d="M470.9,1012.8v8.4M466.8,1014.6l8.2,4.8M466.8,1019.4l8.2,-4.8"/><path d="M461.9,1021.9v8.4M457.8,1023.7l8.2,4.8M457.8,1028.5l8.2,-4.8"/><path d="M507.8,1051.6v8.4M503.7,1053.4l8.2,4.8M503.7,1058.2l8.2,-4.8"/><path d="M531.2,1050.7v8.4M527.1,1052.5l8.2,4.8M527.1,1057.3l8.2,-4.8"/><path d="M500.4,1065.2v8.4M496.3,1067.0l8.2,4.8M496.3,1071.8l8.2,-4.8"/></g><line x1="206.9" y1="794.6" x2="531" y2="1062" stroke="#000" stroke-width="6" stroke-linecap="round"/><circle cx="263.3" cy="778.5" r="8" fill="#b8860b"/><circle cx="206.9" cy="812.2" r="8" fill="#0000ff"/><circle cx="214.4" cy="779.7" r="8" fill="#ff0000"/>
<line x1="132.90" y1="1154.90" x2="145.90" y2="1154.90" stroke="#000" stroke-width="4" stroke-linecap="round" />
<line x1="139.90" y1="1132.53" x2="145.90" y2="1132.53" stroke="#000" stroke-width="2.2" stroke-linecap="round" />
<line x1="139.90" y1="1110.16" x2="145.90" y2="1110.16" stroke="#000" stroke-width="2.2" stroke-linecap="round" />
<line x1="139.90" y1="1087.79" x2="145.90" y2="1087.79" stroke="#000" stroke-width="2.2" stroke-linecap="round" />
<line x1="139.90" y1="1065.42" x2="145.90" y2="1065.42" stroke="#000" stroke-width="2.2" stroke-linecap="round" />
<line x1="132.90" y1="1043.05" x2="145.90" y2="1043.05" stroke="#000" stroke-width="4" stroke-linecap="round" />
<line x1="139.90" y1="1020.68" x2="145.90" y2="1020.68" stroke="#000" stroke-width="2.2" stroke-linecap="round" />
<line x1="139.90" y1="998.31" x2="145.90" y2="998.31" stroke="#000" stroke-width="2.2" stroke-linecap="round" />
<line x1="139.90" y1="975.94" x2="145.90" y2="975.94" stroke="#000" stroke-width="2.2" stroke-linecap="round" />
<line x1="139.90" y1="953.57" x2="145.90" y2="953.57" stroke="#000" stroke-width="2.2" stroke-linecap="round" />
<line x1="132.90" y1="931.20" x2="145.90" y2="931.20" stroke="#000" stroke-width="4" stroke-linecap="round" />
<line x1="139.90" y1="908.83" x2="145.90" y2="908.83" stroke="#000" stroke-width="2.2" stroke-linecap="round" />
<line x1="139.90" y1="886.46" x2="145.90" y2="886.46" stroke="#000" stroke-width="2.2" stroke-linecap="round" />
<line x1="139.90" y1="864.09" x2="145.90" y2="864.09" stroke="#000" stroke-width="2.2" stroke-linecap="round" />
<line x1="139.90" y1="841.72" x2="145.90" y2="841.72" stroke="#000" stroke-width="2.2" stroke-linecap="round" />
<line x1="132.90" y1="819.35" x2="145.90" y2="819.35" stroke="#000" stroke-width="4" stroke-linecap="round" />
<line x1="139.90" y1="796.98" x2="145.90" y2="796.98" stroke="#000" stroke-width="2.2" stroke-linecap="round" />
<line x1="139.90" y1="774.61" x2="145.90" y2="774.61" stroke="#000" stroke-width="2.2" stroke-linecap="round" />
<line x1="139.90" y1="752.24" x2="145.90" y2="752.24" stroke="#000" stroke-width="2.2" stroke-linecap="round" />
<line x1="139.90" y1="729.87" x2="145.90" y2="729.87" stroke="#000" stroke-width="2.2" stroke-linecap="round" />
<line x1="132.90" y1="707.50" x2="145.90" y2="707.50" stroke="#000" stroke-width="4" stroke-linecap="round" />
<line x1="145.90" y1="1154.90" x2="145.90" y2="1167.90" stroke="#000" stroke-width="4" stroke-linecap="round" />
<line x1="173.86" y1="1154.90" x2="173.86" y2="1160.90" stroke="#000" stroke-width="2.2" stroke-linecap="round" />
<line x1="201.82" y1="1154.90" x2="201.82" y2="1160.90" stroke="#000" stroke-width="2.2" stroke-linecap="round" />
<line x1="229.79" y1="1154.90" x2="229.79" y2="1160.90" stroke="#000" stroke-width="2.2" stroke-linecap="round" />
<line x1="257.75" y1="1154.90" x2="257.75" y2="1167.90" stroke="#000" stroke-width="4" stroke-linecap="round" />
<line x1="285.71" y1="1154.90" x2="285.71" y2="1160.90" stroke="#000" stroke-width="2.2" stroke-linecap="round" />
<line x1="313.67" y1="1154.90" x2="313.67" y2="1160.90" stroke="#000" stroke-width="2.2" stroke-linecap="round" />
<line x1="341.64" y1="1154.90" x2="341.64" y2="1160.90" stroke="#000" stroke-width="2.2" stroke-linecap="round" />
<line x1="369.60" y1="1154.90" x2="369.60" y2="1167.90" stroke="#000" stroke-width="4" stroke-linecap="round" />
<line x1="397.56" y1="1154.90" x2="397.56" y2="1160.90" stroke="#000" stroke-width="2.2" stroke-linecap="round" />
<line x1="425.52" y1="1154.90" x2="425.52" y2="1160.90" stroke="#000" stroke-width="2.2" stroke-linecap="round" />
<line x1="453.49" y1="1154.90" x2="453.49" y2="1160.90" stroke="#000" stroke-width="2.2" stroke-linecap="round" />
<line x1="481.45" y1="1154.90" x2="481.45" y2="1167.90" stroke="#000" stroke-width="4" stroke-linecap="round" />
<line x1="509.41" y1="1154.90" x2="509.41" y2="1160.90" stroke="#000" stroke-width="2.2" stroke-linecap="round" />
<line x1="537.38" y1="1154.90" x2="537.38" y2="1160.90" stroke="#000" stroke-width="2.2" stroke-linecap="round" />
<line x1="565.34" y1="1154.90" x2="565.34" y2="1160.90" stroke="#000" stroke-width="2.2" stroke-linecap="round" />
<line x1="593.30" y1="1154.90" x2="593.30" y2="1167.90" stroke="#000" stroke-width="4" stroke-linecap="round" />
<rect x="145.90" y="707.50" width="447.40" height="447.40" fill="none" stroke="#000" stroke-width="4"/>
<text x="111.90" y="1166.90" font-size="33.5" text-anchor="end" font-weight="normal" fill="#000" >-2.0</text>
<text x="111.90" y="1055.05" font-size="33.5" text-anchor="end" font-weight="normal" fill="#000" >-1.0</text>
<text x="111.90" y="943.20" font-size="33.5" text-anchor="end" font-weight="normal" fill="#000" >0.0</text>
<text x="111.90" y="831.35" font-size="33.5" text-anchor="end" font-weight="normal" fill="#000" >1.0</text>
<text x="111.90" y="719.50" font-size="33.5" text-anchor="end" font-weight="normal" fill="#000" >2.0</text>
<text x="145.90" y="1215.20" font-size="33.5" text-anchor="middle" font-weight="normal" fill="#000" >-4.0</text>
<text x="257.75" y="1215.20" font-size="33.5" text-anchor="middle" font-weight="normal" fill="#000" >-2.0</text>
<text x="369.60" y="1215.20" font-size="33.5" text-anchor="middle" font-weight="normal" fill="#000" >0.0</text>
<text x="481.45" y="1215.20" font-size="33.5" text-anchor="middle" font-weight="normal" fill="#000" >2.0</text>
<text x="593.30" y="1215.20" font-size="33.5" text-anchor="middle" font-weight="normal" fill="#000" >4.0</text>
<text x="143.90" y="694.00" font-size="54" text-anchor="start" font-weight="bold" fill="#000" >e</text>
<text x="370.40" y="1263.50" font-size="33.5" text-anchor="middle" font-weight="normal" fill="#000" textLength="424" lengthAdjust="spacing">SAT<tspan font-size="20" dy="7.2">Eurasia</tspan><tspan dy="-7.2"> trend [</tspan><tspan font-size="19" dy="-17.3">o</tspan><tspan dy="17.3">C decade</tspan><tspan font-size="19" dy="-17.3">-1</tspan><tspan dy="17.3">]</tspan></text>
<text x="31.70" y="931.20" font-size="33.5" text-anchor="middle" font-weight="normal" fill="#000" transform="rotate(-90 31.7 931.2)">SCAND trend [decade<tspan font-size="19" dy="-17.3">-1</tspan><tspan dy="17.3">]</tspan></text>
<text x="369.60" y="1122.50" font-size="33.5" text-anchor="middle" font-weight="normal" fill="#000" xml:space="preserve">Corr = -0.82 (p &lt; 0.01)</text>
<text x="423.9" y="753" font-size="33.5" fill="#b8860b">P1</text><text x="477.4" y="753" font-size="33.5" fill="#0000ff">P2</text><text x="532.9" y="753" font-size="33.5" fill="#ff0000">P3</text>
<g stroke="#000" stroke-width="1.5" stroke-linecap="butt"><path d="M1017.8,780.9v8.4M1013.7,782.7l8.2,4.8M1013.7,787.5l8.2,-4.8"/><path d="M970.1,796.6v8.4M966.0,798.4l8.2,4.8M966.0,803.2l8.2,-4.8"/><path d="M969.4,816.0v8.4M965.3,817.8l8.2,4.8M965.3,822.6l8.2,-4.8"/><path d="M1047.3,804.0v8.4M1043.2,805.8l8.2,4.8M1043.2,810.6l8.2,-4.8"/><path d="M1037.0,814.2v8.4M1032.9,816.0l8.2,4.8M1032.9,820.8l8.2,-4.8"/><path d="M1022.9,837.5v8.4M1018.8,839.3l8.2,4.8M1018.8,844.1l8.2,-4.8"/><path d="M1029.6,839.9v8.4M1025.5,841.7l8.2,4.8M1025.5,846.5l8.2,-4.8"/><path d="M1028.8,852.2v8.4M1024.7,854.0l8.2,4.8M1024.7,858.8l8.2,-4.8"/><path d="M1041.0,852.2v8.4M1036.9,854.0l8.2,4.8M1036.9,858.8l8.2,-4.8"/><path d="M1049.6,862.4v8.4M1045.5,864.2l8.2,4.8M1045.5,869.0l8.2,-4.8"/><path d="M1051.5,863.2v8.4M1047.4,865.0l8.2,4.8M1047.4,869.8l8.2,-4.8"/><path d="M979.9,863.5v8.4M975.8,865.3l8.2,4.8M975.8,870.1l8.2,-4.8"/><path d="M980.8,869.3v8.4M976.7,871.1l8.2,4.8M976.7,875.9l8.2,-4.8"/><path d="M885.2,869.3v8.4M881.1,871.1l8.2,4.8M881.1,875.9l8.2,-4.8"/><path d="M995.6,881.3v8.4M991.5,883.1l8.2,4.8M991.5,887.9l8.2,-4.8"/><path d="M1005.1,880.3v8.4M1001.0,882.1l8.2,4.8M1001.0,886.9l8.2,-4.8"/><path d="M1042.8,883.2v8.4M1038.7,885.0l8.2,4.8M1038.7,889.8l8.2,-4.8"/><path d="M932.9,886.6v8.4M928.8,888.4l8.2,4.8M928.8,893.2l8.2,-4.8"/><path d="M960.2,895.7v8.4M956.1,897.5l8.2,4.8M956.1,902.3l8.2,-4.8"/><path d="M971.4,895.0v8.4M967.3,896.8l8.2,4.8M967.3,901.6l8.2,-4.8"/><path d="M973.0,902.5v8.4M968.9,904.3l8.2,4.8M968.9,909.1l8.2,-4.8"/><path d="M1049.6,893.9v8.4M1045.5,895.7l8.2,4.8M1045.5,900.5l8.2,-4.8"/><path d="M984.3,909.1v8.4M980.2,910.9l8.2,4.8M980.2,915.7l8.2,-4.8"/><path d="M989.3,912.3v8.4M985.2,914.1l8.2,4.8M985.2,918.9l8.2,-4.8"/><path d="M1037.3,908.3v8.4M1033.2,910.1l8.2,4.8M1033.2,914.9l8.2,-4.8"/><path d="M906.4,908.3v8.4M902.3,910.1l8.2,4.8M902.3,914.9l8.2,-4.8"/><path d="M1042.1,917.8v8.4M1038.0,919.6l8.2,4.8M1038.0,924.4l8.2,-4.8"/><path d="M946.9,919.3v8.4M942.8,921.1l8.2,4.8M942.8,925.9l8.2,-4.8"/><path d="M960.7,926.3v8.4M956.6,928.1l8.2,4.8M956.6,932.9l8.2,-4.8"/><path d="M1105.9,738.7v8.4M1101.8,740.5l8.2,4.8M1101.8,745.3l8.2,-4.8"/><path d="M1088.1,757.7v8.4M1084.0,759.5l8.2,4.8M1084.0,764.3l8.2,-4.8"/><path d="M1100.4,757.7v8.4M1096.3,759.5l8.2,4.8M1096.3,764.3l8.2,-4.8"/><path d="M1077.1,796.6v8.4M1073.0,798.4l8.2,4.8M1073.0,803.2l8.2,-4.8"/><path d="M1171.6,795.4v8.4M1167.5,797.2l8.2,4.8M1167.5,802.0l8.2,-4.8"/><path d="M1136.2,804.5v8.4M1132.1,806.3l8.2,4.8M1132.1,811.1l8.2,-4.8"/><path d="M1096.1,815.5v8.4M1092.0,817.3l8.2,4.8M1092.0,822.1l8.2,-4.8"/><path d="M1077.5,829.7v8.4M1073.4,831.5l8.2,4.8M1073.4,836.3l8.2,-4.8"/><path d="M1081.2,833.1v8.4M1077.1,834.9l8.2,4.8M1077.1,839.7l8.2,-4.8"/><path d="M1072.8,837.5v8.4M1068.7,839.3l8.2,4.8M1068.7,844.1l8.2,-4.8"/><path d="M1094.8,836.7v8.4M1090.7,838.5l8.2,4.8M1090.7,843.3l8.2,-4.8"/><path d="M1179.0,850.4v8.4M1174.9,852.2l8.2,4.8M1174.9,857.0l8.2,-4.8"/><path d="M1107.4,869.8v8.4M1103.3,871.6l8.2,4.8M1103.3,876.4l8.2,-4.8"/><path d="M1062.3,872.5v8.4M1058.2,874.3l8.2,4.8M1058.2,879.1l8.2,-4.8"/><path d="M1067.0,872.5v8.4M1062.9,874.3l8.2,4.8M1062.9,879.1l8.2,-4.8"/><path d="M1076.4,874.5v8.4M1072.3,876.3l8.2,4.8M1072.3,881.1l8.2,-4.8"/><path d="M1090.6,889.8v8.4M1086.5,891.6l8.2,4.8M1086.5,896.4l8.2,-4.8"/><path d="M1103.5,899.7v8.4M1099.4,901.5l8.2,4.8M1099.4,906.3l8.2,-4.8"/><path d="M1201.8,908.3v8.4M1197.7,910.1l8.2,4.8M1197.7,914.9l8.2,-4.8"/><path d="M1139.7,922.5v8.4M1135.6,924.3l8.2,4.8M1135.6,929.1l8.2,-4.8"/><path d="M1000.8,936.3v8.4M996.7,938.1l8.2,4.8M996.7,942.9l8.2,-4.8"/><path d="M1030.7,929.2v8.4M1026.6,931.0l8.2,4.8M1026.6,935.8l8.2,-4.8"/><path d="M1032.3,938.1v8.4M1028.2,939.9l8.2,4.8M1028.2,944.7l8.2,-4.8"/><path d="M1002.9,946.8v8.4M998.8,948.6l8.2,4.8M998.8,953.4l8.2,-4.8"/><path d="M946.2,955.1v8.4M942.1,956.9l8.2,4.8M942.1,961.7l8.2,-4.8"/><path d="M982.7,956.4v8.4M978.6,958.2l8.2,4.8M978.6,963.0l8.2,-4.8"/><path d="M1053.9,955.1v8.4M1049.8,956.9l8.2,4.8M1049.8,961.7l8.2,-4.8"/><path d="M1053.9,959.9v8.4M1049.8,961.7l8.2,4.8M1049.8,966.5l8.2,-4.8"/><path d="M1053.2,964.9v8.4M1049.1,966.7l8.2,4.8M1049.1,971.5l8.2,-4.8"/><path d="M971.7,970.1v8.4M967.6,971.9l8.2,4.8M967.6,976.7l8.2,-4.8"/><path d="M1019.7,967.4v8.4M1015.6,969.2l8.2,4.8M1015.6,974.0l8.2,-4.8"/><path d="M1026.8,979.2v8.4M1022.7,981.0l8.2,4.8M1022.7,985.8l8.2,-4.8"/><path d="M1036.6,981.9v8.4M1032.5,983.7l8.2,4.8M1032.5,988.5l8.2,-4.8"/><path d="M1060.5,980.5v8.4M1056.4,982.3l8.2,4.8M1056.4,987.1l8.2,-4.8"/><path d="M954.9,983.5v8.4M950.8,985.3l8.2,4.8M950.8,990.1l8.2,-4.8"/><path d="M969.0,983.8v8.4M964.9,985.6l8.2,4.8M964.9,990.4l8.2,-4.8"/><path d="M974.6,989.4v8.4M970.5,991.2l8.2,4.8M970.5,996.0l8.2,-4.8"/><path d="M996.4,992.4v8.4M992.3,994.2l8.2,4.8M992.3,999.0l8.2,-4.8"/><path d="M1022.4,988.7v8.4M1018.3,990.5l8.2,4.8M1018.3,995.3l8.2,-4.8"/><path d="M937.1,998.7v8.4M933.0,1000.5l8.2,4.8M933.0,1005.3l8.2,-4.8"/><path d="M901.2,1003.4v8.4M897.1,1005.2l8.2,4.8M897.1,1010.0l8.2,-4.8"/><path d="M1039.4,997.9v8.4M1035.3,999.7l8.2,4.8M1035.3,1004.5l8.2,-4.8"/><path d="M1050.4,999.2v8.4M1046.3,1001.0l8.2,4.8M1046.3,1005.8l8.2,-4.8"/><path d="M1058.8,1005.5v8.4M1054.7,1007.3l8.2,4.8M1054.7,1012.1l8.2,-4.8"/><path d="M991.4,1010.2v8.4M987.3,1012.0l8.2,4.8M987.3,1016.8l8.2,-4.8"/><path d="M974.4,1028.8v8.4M970.3,1030.6l8.2,4.8M970.3,1035.4l8.2,-4.8"/><path d="M1045.7,1028.3v8.4M1041.6,1030.1l8.2,4.8M1041.6,1034.9l8.2,-4.8"/><path d="M887.5,1040.4v8.4M883.4,1042.2l8.2,4.8M883.4,1047.0l8.2,-4.8"/><path d="M1000.4,1047.2v8.4M996.3,1049.0l8.2,4.8M996.3,1053.8l8.2,-4.8"/><path d="M1059.0,1052.4v8.4M1054.9,1054.2l8.2,4.8M1054.9,1059.0l8.2,-4.8"/><path d="M917.1,1066.5v8.4M913.0,1068.3l8.2,4.8M913.0,1073.1l8.2,-4.8"/><path d="M1064.2,939.1v8.4M1060.1,940.9l8.2,4.8M1060.1,945.7l8.2,-4.8"/><path d="M1066.5,944.1v8.4M1062.4,945.9l8.2,4.8M1062.4,950.7l8.2,-4.8"/><path d="M1088.6,943.3v8.4M1084.5,945.1l8.2,4.8M1084.5,949.9l8.2,-4.8"/><path d="M1121.9,951.2v8.4M1117.8,953.0l8.2,4.8M1117.8,957.8l8.2,-4.8"/><path d="M1080.7,962.2v8.4M1076.6,964.0l8.2,4.8M1076.6,968.8l8.2,-4.8"/><path d="M1080.7,970.1v8.4M1076.6,971.9l8.2,4.8M1076.6,976.7l8.2,-4.8"/><path d="M1081.2,975.6v8.4M1077.1,977.4l8.2,4.8M1077.1,982.2l8.2,-4.8"/><path d="M1096.4,966.5v8.4M1092.3,968.3l8.2,4.8M1092.3,973.1l8.2,-4.8"/><path d="M1112.6,970.9v8.4M1108.5,972.7l8.2,4.8M1108.5,977.5l8.2,-4.8"/><path d="M1067.0,972.0v8.4M1062.9,973.8l8.2,4.8M1062.9,978.6l8.2,-4.8"/><path d="M1072.8,990.1v8.4M1068.7,991.9l8.2,4.8M1068.7,996.7l8.2,-4.8"/><path d="M1074.9,992.9v8.4M1070.8,994.7l8.2,4.8M1070.8,999.5l8.2,-4.8"/><path d="M1087.0,996.1v8.4M1082.9,997.9l8.2,4.8M1082.9,1002.7l8.2,-4.8"/><path d="M1096.4,1003.1v8.4M1092.3,1004.9l8.2,4.8M1092.3,1009.7l8.2,-4.8"/><path d="M1124.4,999.5v8.4M1120.3,1001.3l8.2,4.8M1120.3,1006.1l8.2,-4.8"/><path d="M1067.3,1005.8v8.4M1063.2,1007.6l8.2,4.8M1063.2,1012.4l8.2,-4.8"/><path d="M1080.7,1004.7v8.4M1076.6,1006.5l8.2,4.8M1076.6,1011.3l8.2,-4.8"/><path d="M1092.8,1012.6v8.4M1088.7,1014.4l8.2,4.8M1088.7,1019.2l8.2,-4.8"/><path d="M1100.0,1018.9v8.4M1095.9,1020.7l8.2,4.8M1095.9,1025.5l8.2,-4.8"/><path d="M1105.9,1020.0v8.4M1101.8,1021.8l8.2,4.8M1101.8,1026.6l8.2,-4.8"/><path d="M1132.9,1011.5v8.4M1128.8,1013.3l8.2,4.8M1128.8,1018.1l8.2,-4.8"/><path d="M1142.5,1019.2v8.4M1138.4,1021.0l8.2,4.8M1138.4,1025.8l8.2,-4.8"/><path d="M1118.8,1027.8v8.4M1114.7,1029.6l8.2,4.8M1114.7,1034.4l8.2,-4.8"/><path d="M1089.8,1035.7v8.4M1085.7,1037.5l8.2,4.8M1085.7,1042.3l8.2,-4.8"/><path d="M1074.7,1056.3v8.4M1070.6,1058.1l8.2,4.8M1070.6,1062.9l8.2,-4.8"/><path d="M1092.5,1071.6v8.4M1088.4,1073.4l8.2,4.8M1088.4,1078.2l8.2,-4.8"/></g><line x1="878.4" y1="951.6" x2="1203" y2="913.6" stroke="#000" stroke-width="6" stroke-linecap="round"/><circle cx="934.7" cy="869.7" r="8" fill="#b8860b"/><circle cx="878.4" cy="944.4" r="8" fill="#0000ff"/><circle cx="885.6" cy="1023.4" r="8" fill="#ff0000"/>
<line x1="804.00" y1="1154.90" x2="817.00" y2="1154.90" stroke="#000" stroke-width="4" stroke-linecap="round" />
<line x1="811.00" y1="1132.53" x2="817.00" y2="1132.53" stroke="#000" stroke-width="2.2" stroke-linecap="round" />
<line x1="811.00" y1="1110.16" x2="817.00" y2="1110.16" stroke="#000" stroke-width="2.2" stroke-linecap="round" />
<line x1="811.00" y1="1087.79" x2="817.00" y2="1087.79" stroke="#000" stroke-width="2.2" stroke-linecap="round" />
<line x1="811.00" y1="1065.42" x2="817.00" y2="1065.42" stroke="#000" stroke-width="2.2" stroke-linecap="round" />
<line x1="804.00" y1="1043.05" x2="817.00" y2="1043.05" stroke="#000" stroke-width="4" stroke-linecap="round" />
<line x1="811.00" y1="1020.68" x2="817.00" y2="1020.68" stroke="#000" stroke-width="2.2" stroke-linecap="round" />
<line x1="811.00" y1="998.31" x2="817.00" y2="998.31" stroke="#000" stroke-width="2.2" stroke-linecap="round" />
<line x1="811.00" y1="975.94" x2="817.00" y2="975.94" stroke="#000" stroke-width="2.2" stroke-linecap="round" />
<line x1="811.00" y1="953.57" x2="817.00" y2="953.57" stroke="#000" stroke-width="2.2" stroke-linecap="round" />
<line x1="804.00" y1="931.20" x2="817.00" y2="931.20" stroke="#000" stroke-width="4" stroke-linecap="round" />
<line x1="811.00" y1="908.83" x2="817.00" y2="908.83" stroke="#000" stroke-width="2.2" stroke-linecap="round" />
<line x1="811.00" y1="886.46" x2="817.00" y2="886.46" stroke="#000" stroke-width="2.2" stroke-linecap="round" />
<line x1="811.00" y1="864.09" x2="817.00" y2="864.09" stroke="#000" stroke-width="2.2" stroke-linecap="round" />
<line x1="811.00" y1="841.72" x2="817.00" y2="841.72" stroke="#000" stroke-width="2.2" stroke-linecap="round" />
<line x1="804.00" y1="819.35" x2="817.00" y2="819.35" stroke="#000" stroke-width="4" stroke-linecap="round" />
<line x1="811.00" y1="796.98" x2="817.00" y2="796.98" stroke="#000" stroke-width="2.2" stroke-linecap="round" />
<line x1="811.00" y1="774.61" x2="817.00" y2="774.61" stroke="#000" stroke-width="2.2" stroke-linecap="round" />
<line x1="811.00" y1="752.24" x2="817.00" y2="752.24" stroke="#000" stroke-width="2.2" stroke-linecap="round" />
<line x1="811.00" y1="729.87" x2="817.00" y2="729.87" stroke="#000" stroke-width="2.2" stroke-linecap="round" />
<line x1="804.00" y1="707.50" x2="817.00" y2="707.50" stroke="#000" stroke-width="4" stroke-linecap="round" />
<line x1="817.00" y1="1154.90" x2="817.00" y2="1167.90" stroke="#000" stroke-width="4" stroke-linecap="round" />
<line x1="844.96" y1="1154.90" x2="844.96" y2="1160.90" stroke="#000" stroke-width="2.2" stroke-linecap="round" />
<line x1="872.92" y1="1154.90" x2="872.92" y2="1160.90" stroke="#000" stroke-width="2.2" stroke-linecap="round" />
<line x1="900.89" y1="1154.90" x2="900.89" y2="1160.90" stroke="#000" stroke-width="2.2" stroke-linecap="round" />
<line x1="928.85" y1="1154.90" x2="928.85" y2="1167.90" stroke="#000" stroke-width="4" stroke-linecap="round" />
<line x1="956.81" y1="1154.90" x2="956.81" y2="1160.90" stroke="#000" stroke-width="2.2" stroke-linecap="round" />
<line x1="984.78" y1="1154.90" x2="984.78" y2="1160.90" stroke="#000" stroke-width="2.2" stroke-linecap="round" />
<line x1="1012.74" y1="1154.90" x2="1012.74" y2="1160.90" stroke="#000" stroke-width="2.2" stroke-linecap="round" />
<line x1="1040.70" y1="1154.90" x2="1040.70" y2="1167.90" stroke="#000" stroke-width="4" stroke-linecap="round" />
<line x1="1068.66" y1="1154.90" x2="1068.66" y2="1160.90" stroke="#000" stroke-width="2.2" stroke-linecap="round" />
<line x1="1096.62" y1="1154.90" x2="1096.62" y2="1160.90" stroke="#000" stroke-width="2.2" stroke-linecap="round" />
<line x1="1124.59" y1="1154.90" x2="1124.59" y2="1160.90" stroke="#000" stroke-width="2.2" stroke-linecap="round" />
<line x1="1152.55" y1="1154.90" x2="1152.55" y2="1167.90" stroke="#000" stroke-width="4" stroke-linecap="round" />
<line x1="1180.51" y1="1154.90" x2="1180.51" y2="1160.90" stroke="#000" stroke-width="2.2" stroke-linecap="round" />
<line x1="1208.48" y1="1154.90" x2="1208.48" y2="1160.90" stroke="#000" stroke-width="2.2" stroke-linecap="round" />
<line x1="1236.44" y1="1154.90" x2="1236.44" y2="1160.90" stroke="#000" stroke-width="2.2" stroke-linecap="round" />
<line x1="1264.40" y1="1154.90" x2="1264.40" y2="1167.90" stroke="#000" stroke-width="4" stroke-linecap="round" />
<rect x="817.00" y="707.50" width="447.40" height="447.40" fill="none" stroke="#000" stroke-width="4"/>
<text x="783.00" y="1166.90" font-size="33.5" text-anchor="end" font-weight="normal" fill="#000" >-2.0</text>
<text x="783.00" y="1055.05" font-size="33.5" text-anchor="end" font-weight="normal" fill="#000" >-1.0</text>
<text x="783.00" y="943.20" font-size="33.5" text-anchor="end" font-weight="normal" fill="#000" >0.0</text>
<text x="783.00" y="831.35" font-size="33.5" text-anchor="end" font-weight="normal" fill="#000" >1.0</text>
<text x="783.00" y="719.50" font-size="33.5" text-anchor="end" font-weight="normal" fill="#000" >2.0</text>
<text x="817.00" y="1215.20" font-size="33.5" text-anchor="middle" font-weight="normal" fill="#000" >-4.0</text>
<text x="928.85" y="1215.20" font-size="33.5" text-anchor="middle" font-weight="normal" fill="#000" >-2.0</text>
<text x="1040.70" y="1215.20" font-size="33.5" text-anchor="middle" font-weight="normal" fill="#000" >0.0</text>
<text x="1152.55" y="1215.20" font-size="33.5" text-anchor="middle" font-weight="normal" fill="#000" >2.0</text>
<text x="1264.40" y="1215.20" font-size="33.5" text-anchor="middle" font-weight="normal" fill="#000" >4.0</text>
<text x="815.00" y="694.00" font-size="54" text-anchor="start" font-weight="bold" fill="#000" >f</text>
<text x="1041.50" y="1263.50" font-size="33.5" text-anchor="middle" font-weight="normal" fill="#000" textLength="424" lengthAdjust="spacing">SAT<tspan font-size="20" dy="7.2">Eurasia</tspan><tspan dy="-7.2"> trend [</tspan><tspan font-size="19" dy="-17.3">o</tspan><tspan dy="17.3">C decade</tspan><tspan font-size="19" dy="-17.3">-1</tspan><tspan dy="17.3">]</tspan></text>
<text x="702.80" y="931.20" font-size="33.5" text-anchor="middle" font-weight="normal" fill="#000" transform="rotate(-90 702.8 931.2)">NAO trend [decade<tspan font-size="19" dy="-17.3">-1</tspan><tspan dy="17.3">]</tspan></text>
<text x="1040.70" y="1122.50" font-size="33.5" text-anchor="middle" font-weight="normal" fill="#000" xml:space="preserve">Corr =  0.10 (p =  0.74)</text>
<g stroke="#bebebe" stroke-width="4.7" stroke-linecap="round"><line x1="1524.5" y1="728.3" x2="1878.5" y2="1096.5"/><line x1="1534.0" y1="883.5" x2="1833.2" y2="957.7"/><line x1="1583.2" y1="818.9" x2="1914.8" y2="1090.8"/><line x1="1510.5" y1="846.2" x2="1857.2" y2="984.9"/><line x1="1521.7" y1="862.4" x2="1879.6" y2="984.1"/><line x1="1544.0" y1="877.0" x2="1890.8" y2="981.0"/><line x1="1544.0" y1="766.0" x2="1834.9" y2="1039.4"/><line x1="1552.4" y1="783.8" x2="1885.2" y2="1076.6"/><line x1="1516.1" y1="812.2" x2="1896.4" y2="1032.8"/><line x1="1586.0" y1="784.4" x2="1846.1" y2="1070.5"/><line x1="1539.5" y1="810.1" x2="1829.4" y2="1004.6"/><line x1="1579.3" y1="819.5" x2="1863.4" y2="1048.5"/><line x1="1578.5" y1="870.9" x2="1830.8" y2="975.0"/><line x1="1574.9" y1="794.9" x2="1841.2" y2="1048.7"/><line x1="1544.4" y1="767.4" x2="1854.7" y2="1064.7"/><line x1="1525.6" y1="822.1" x2="1846.4" y2="1001.4"/><line x1="1562.5" y1="842.4" x2="1887.6" y2="1023.9"/><line x1="1540.3" y1="837.9" x2="1852.8" y2="996.8"/><line x1="1579.2" y1="834.9" x2="1839.8" y2="1014.4"/><line x1="1562.1" y1="820.8" x2="1869.5" y2="1038.9"/><line x1="1529.9" y1="783.7" x2="1878.4" y2="1056.1"/><line x1="1547.9" y1="825.0" x2="1892.2" y2="1035.1"/><line x1="1517.4" y1="802.2" x2="1832.9" y2="1004.5"/><line x1="1573.0" y1="798.7" x2="1862.0" y2="1062.5"/><line x1="1531.9" y1="866.1" x2="1868.5" y2="977.9"/><line x1="1536.5" y1="839.6" x2="1870.2" y2="1005.4"/><line x1="1526.8" y1="776.1" x2="1897.7" y2="1077.8"/><line x1="1579.1" y1="805.0" x2="1878.6" y2="1078.0"/><line x1="1528.0" y1="744.6" x2="1846.0" y2="1062.6"/><line x1="1581.7" y1="815.5" x2="1859.8" y2="1050.2"/><line x1="1579.2" y1="850.1" x2="1883.8" y2="1024.0"/><line x1="1556.9" y1="845.7" x2="1891.9" y2="1018.6"/><line x1="1546.3" y1="854.7" x2="1892.9" y2="1003.3"/><line x1="1564.5" y1="861.3" x2="1856.2" y2="993.0"/><line x1="1518.9" y1="754.5" x2="1835.5" y2="1033.8"/><line x1="1567.5" y1="845.5" x2="1861.7" y2="1008.7"/><line x1="1582.9" y1="829.6" x2="1856.5" y2="1035.4"/><line x1="1519.2" y1="772.0" x2="1877.7" y2="1057.4"/><line x1="1537.8" y1="770.4" x2="1827.9" y2="1030.3"/><line x1="1524.5" y1="863.6" x2="1886.2" y2="986.2"/><line x1="1576.2" y1="820.2" x2="1873.3" y2="1051.2"/><line x1="1569.2" y1="847.5" x2="1836.4" y2="994.7"/><line x1="1583.2" y1="841.6" x2="1835.5" y2="1007.0"/><line x1="1581.5" y1="864.8" x2="1892.1" y2="1009.9"/><line x1="1566.3" y1="823.8" x2="1850.9" y2="1024.6"/><line x1="1526.2" y1="798.3" x2="1901.4" y2="1056.1"/><line x1="1577.4" y1="812.4" x2="1831.7" y2="1027.2"/><line x1="1527.6" y1="795.5" x2="1836.3" y2="1013.5"/><line x1="1546.7" y1="836.0" x2="1825.8" y2="989.2"/><line x1="1525.2" y1="809.2" x2="1878.2" y2="1035.1"/><line x1="1572.0" y1="825.9" x2="1884.1" y2="1049.8"/><line x1="1561.1" y1="863.0" x2="1841.1" y2="983.2"/><line x1="1526.0" y1="796.8" x2="1886.8" y2="1046.0"/><line x1="1568.0" y1="858.0" x2="1864.2" y2="1001.2"/><line x1="1581.3" y1="841.2" x2="1845.6" y2="1012.9"/><line x1="1519.0" y1="801.8" x2="1858.7" y2="1018.5"/><line x1="1568.4" y1="803.5" x2="1841.4" y2="1035.4"/><line x1="1541.3" y1="811.2" x2="1894.2" y2="1048.7"/><line x1="1539.4" y1="840.7" x2="1886.3" y2="1011.5"/><line x1="1522.1" y1="770.9" x2="1884.9" y2="1065.7"/><line x1="1571.2" y1="860.0" x2="1885.5" y2="1007.9"/><line x1="1518.0" y1="762.6" x2="1854.7" y2="1048.1"/><line x1="1534.5" y1="873.3" x2="1837.0" y2="966.5"/><line x1="1522.5" y1="861.7" x2="1886.8" y2="985.1"/><line x1="1517.4" y1="820.6" x2="1875.1" y2="1013.0"/><line x1="1574.4" y1="882.5" x2="1824.8" y2="963.3"/><line x1="1547.8" y1="856.6" x2="1896.8" y2="1001.9"/><line x1="1527.7" y1="804.0" x2="1840.2" y2="1014.2"/><line x1="1567.0" y1="860.1" x2="1869.6" y2="998.2"/><line x1="1574.4" y1="863.9" x2="1894.9" y2="1009.3"/><line x1="1544.0" y1="857.7" x2="1894.5" y2="1002.0"/><line x1="1549.5" y1="855.9" x2="1865.3" y2="996.1"/><line x1="1553.6" y1="862.1" x2="1838.0" y2="977.6"/><line x1="1571.6" y1="836.8" x2="1860.8" y2="1017.7"/><line x1="1561.3" y1="834.4" x2="1864.3" y2="1019.5"/><line x1="1576.1" y1="809.3" x2="1867.6" y2="1063.4"/><line x1="1531.3" y1="792.7" x2="1863.4" y2="1038.3"/><line x1="1521.9" y1="840.4" x2="1858.4" y2="994.8"/><line x1="1548.8" y1="805.1" x2="1877.9" y2="1051.2"/><line x1="1551.1" y1="802.8" x2="1897.4" y2="1070.9"/><line x1="1519.9" y1="821.8" x2="1844.0" y2="999.1"/><line x1="1575.0" y1="817.2" x2="1858.3" y2="1042.3"/><line x1="1578.3" y1="830.5" x2="1876.1" y2="1042.5"/><line x1="1572.8" y1="848.7" x2="1879.8" y2="1018.9"/><line x1="1523.9" y1="798.9" x2="1899.4" y2="1054.0"/><line x1="1556.5" y1="842.2" x2="1861.8" y2="1002.9"/><line x1="1548.6" y1="820.5" x2="1850.2" y2="1014.8"/><line x1="1534.7" y1="848.1" x2="1825.2" y2="975.7"/><line x1="1582.0" y1="868.0" x2="1849.6" y2="989.8"/><line x1="1578.9" y1="835.0" x2="1900.8" y2="1057.7"/><line x1="1576.1" y1="818.7" x2="1844.5" y2="1030.2"/><line x1="1565.0" y1="884.2" x2="1833.8" y2="960.3"/><line x1="1573.2" y1="868.6" x2="1895.7" y2="1001.9"/><line x1="1577.2" y1="825.0" x2="1828.2" y2="1015.9"/><line x1="1578.3" y1="826.0" x2="1897.2" y2="1066.1"/><line x1="1577.6" y1="817.8" x2="1890.7" y2="1073.0"/><line x1="1552.7" y1="783.1" x2="1850.2" y2="1047.6"/><line x1="1565.2" y1="861.0" x2="1833.8" y2="984.0"/><line x1="1575.8" y1="822.2" x2="1836.3" y2="1022.6"/><line x1="1562.2" y1="829.1" x2="1847.6" y2="1013.1"/></g><line x1="1507.5" y1="798" x2="1915.4" y2="1062.9" stroke="#000" stroke-width="5.9" stroke-linecap="round"/>
<line x1="1475.10" y1="1154.90" x2="1488.10" y2="1154.90" stroke="#000" stroke-width="4" stroke-linecap="round" />
<line x1="1482.10" y1="1132.53" x2="1488.10" y2="1132.53" stroke="#000" stroke-width="2.2" stroke-linecap="round" />
<line x1="1482.10" y1="1110.16" x2="1488.10" y2="1110.16" stroke="#000" stroke-width="2.2" stroke-linecap="round" />
<line x1="1482.10" y1="1087.79" x2="1488.10" y2="1087.79" stroke="#000" stroke-width="2.2" stroke-linecap="round" />
<line x1="1482.10" y1="1065.42" x2="1488.10" y2="1065.42" stroke="#000" stroke-width="2.2" stroke-linecap="round" />
<line x1="1475.10" y1="1043.05" x2="1488.10" y2="1043.05" stroke="#000" stroke-width="4" stroke-linecap="round" />
<line x1="1482.10" y1="1020.68" x2="1488.10" y2="1020.68" stroke="#000" stroke-width="2.2" stroke-linecap="round" />
<line x1="1482.10" y1="998.31" x2="1488.10" y2="998.31" stroke="#000" stroke-width="2.2" stroke-linecap="round" />
<line x1="1482.10" y1="975.94" x2="1488.10" y2="975.94" stroke="#000" stroke-width="2.2" stroke-linecap="round" />
<line x1="1482.10" y1="953.57" x2="1488.10" y2="953.57" stroke="#000" stroke-width="2.2" stroke-linecap="round" />
<line x1="1475.10" y1="931.20" x2="1488.10" y2="931.20" stroke="#000" stroke-width="4" stroke-linecap="round" />
<line x1="1482.10" y1="908.83" x2="1488.10" y2="908.83" stroke="#000" stroke-width="2.2" stroke-linecap="round" />
<line x1="1482.10" y1="886.46" x2="1488.10" y2="886.46" stroke="#000" stroke-width="2.2" stroke-linecap="round" />
<line x1="1482.10" y1="864.09" x2="1488.10" y2="864.09" stroke="#000" stroke-width="2.2" stroke-linecap="round" />
<line x1="1482.10" y1="841.72" x2="1488.10" y2="841.72" stroke="#000" stroke-width="2.2" stroke-linecap="round" />
<line x1="1475.10" y1="819.35" x2="1488.10" y2="819.35" stroke="#000" stroke-width="4" stroke-linecap="round" />
<line x1="1482.10" y1="796.98" x2="1488.10" y2="796.98" stroke="#000" stroke-width="2.2" stroke-linecap="round" />
<line x1="1482.10" y1="774.61" x2="1488.10" y2="774.61" stroke="#000" stroke-width="2.2" stroke-linecap="round" />
<line x1="1482.10" y1="752.24" x2="1488.10" y2="752.24" stroke="#000" stroke-width="2.2" stroke-linecap="round" />
<line x1="1482.10" y1="729.87" x2="1488.10" y2="729.87" stroke="#000" stroke-width="2.2" stroke-linecap="round" />
<line x1="1475.10" y1="707.50" x2="1488.10" y2="707.50" stroke="#000" stroke-width="4" stroke-linecap="round" />
<line x1="1488.10" y1="1154.90" x2="1488.10" y2="1167.90" stroke="#000" stroke-width="4" stroke-linecap="round" />
<line x1="1516.06" y1="1154.90" x2="1516.06" y2="1160.90" stroke="#000" stroke-width="2.2" stroke-linecap="round" />
<line x1="1544.02" y1="1154.90" x2="1544.02" y2="1160.90" stroke="#000" stroke-width="2.2" stroke-linecap="round" />
<line x1="1571.99" y1="1154.90" x2="1571.99" y2="1160.90" stroke="#000" stroke-width="2.2" stroke-linecap="round" />
<line x1="1599.95" y1="1154.90" x2="1599.95" y2="1167.90" stroke="#000" stroke-width="4" stroke-linecap="round" />
<line x1="1627.91" y1="1154.90" x2="1627.91" y2="1160.90" stroke="#000" stroke-width="2.2" stroke-linecap="round" />
<line x1="1655.88" y1="1154.90" x2="1655.88" y2="1160.90" stroke="#000" stroke-width="2.2" stroke-linecap="round" />
<line x1="1683.84" y1="1154.90" x2="1683.84" y2="1160.90" stroke="#000" stroke-width="2.2" stroke-linecap="round" />
<line x1="1711.80" y1="1154.90" x2="1711.80" y2="1167.90" stroke="#000" stroke-width="4" stroke-linecap="round" />
<line x1="1739.76" y1="1154.90" x2="1739.76" y2="1160.90" stroke="#000" stroke-width="2.2" stroke-linecap="round" />
<line x1="1767.72" y1="1154.90" x2="1767.72" y2="1160.90" stroke="#000" stroke-width="2.2" stroke-linecap="round" />
<line x1="1795.69" y1="1154.90" x2="1795.69" y2="1160.90" stroke="#000" stroke-width="2.2" stroke-linecap="round" />
<line x1="1823.65" y1="1154.90" x2="1823.65" y2="1167.90" stroke="#000" stroke-width="4" stroke-linecap="round" />
<line x1="1851.61" y1="1154.90" x2="1851.61" y2="1160.90" stroke="#000" stroke-width="2.2" stroke-linecap="round" />
<line x1="1879.58" y1="1154.90" x2="1879.58" y2="1160.90" stroke="#000" stroke-width="2.2" stroke-linecap="round" />
<line x1="1907.54" y1="1154.90" x2="1907.54" y2="1160.90" stroke="#000" stroke-width="2.2" stroke-linecap="round" />
<line x1="1935.50" y1="1154.90" x2="1935.50" y2="1167.90" stroke="#000" stroke-width="4" stroke-linecap="round" />
<rect x="1488.10" y="707.50" width="447.40" height="447.40" fill="none" stroke="#000" stroke-width="4"/>
<text x="1454.10" y="1166.90" font-size="33.5" text-anchor="end" font-weight="normal" fill="#000" >-2.0</text>
<text x="1454.10" y="1055.05" font-size="33.5" text-anchor="end" font-weight="normal" fill="#000" >-1.0</text>
<text x="1454.10" y="943.20" font-size="33.5" text-anchor="end" font-weight="normal" fill="#000" >0.0</text>
<text x="1454.10" y="831.35" font-size="33.5" text-anchor="end" font-weight="normal" fill="#000" >1.0</text>
<text x="1454.10" y="719.50" font-size="33.5" text-anchor="end" font-weight="normal" fill="#000" >2.0</text>
<text x="1488.10" y="1215.20" font-size="33.5" text-anchor="middle" font-weight="normal" fill="#000" >-4.0</text>
<text x="1599.95" y="1215.20" font-size="33.5" text-anchor="middle" font-weight="normal" fill="#000" >-2.0</text>
<text x="1711.80" y="1215.20" font-size="33.5" text-anchor="middle" font-weight="normal" fill="#000" >0.0</text>
<text x="1823.65" y="1215.20" font-size="33.5" text-anchor="middle" font-weight="normal" fill="#000" >2.0</text>
<text x="1935.50" y="1215.20" font-size="33.5" text-anchor="middle" font-weight="normal" fill="#000" >4.0</text>
<text x="1486.10" y="694.00" font-size="54" text-anchor="start" font-weight="bold" fill="#000" >g</text>
<text x="1712.60" y="1263.50" font-size="33.5" text-anchor="middle" font-weight="normal" fill="#000" textLength="424" lengthAdjust="spacing">SAT<tspan font-size="20" dy="7.2">Eurasia</tspan><tspan dy="-7.2"> trend [</tspan><tspan font-size="19" dy="-17.3">o</tspan><tspan dy="17.3">C decade</tspan><tspan font-size="19" dy="-17.3">-1</tspan><tspan dy="17.3">]</tspan></text>
<text x="1373.90" y="931.20" font-size="33.5" text-anchor="middle" font-weight="normal" fill="#000" transform="rotate(-90 1373.9 931.2)">SCAND trend [decade<tspan font-size="19" dy="-17.3">-1</tspan><tspan dy="17.3">]</tspan></text>
<text x="1711.80" y="1122.50" font-size="33.5" text-anchor="middle" font-weight="normal" fill="#000" xml:space="preserve">Corr = -0.52 (p &lt; 0.01)</text>
<text x="1926.00" y="752.60" font-size="33.5" text-anchor="end" font-weight="normal" fill="#808080" >100 members</text>
<text x="1824.20" y="786.60" font-size="33.5" text-anchor="middle" font-weight="normal" fill="#000" >MMEM</text>
</svg>
</body></html>
